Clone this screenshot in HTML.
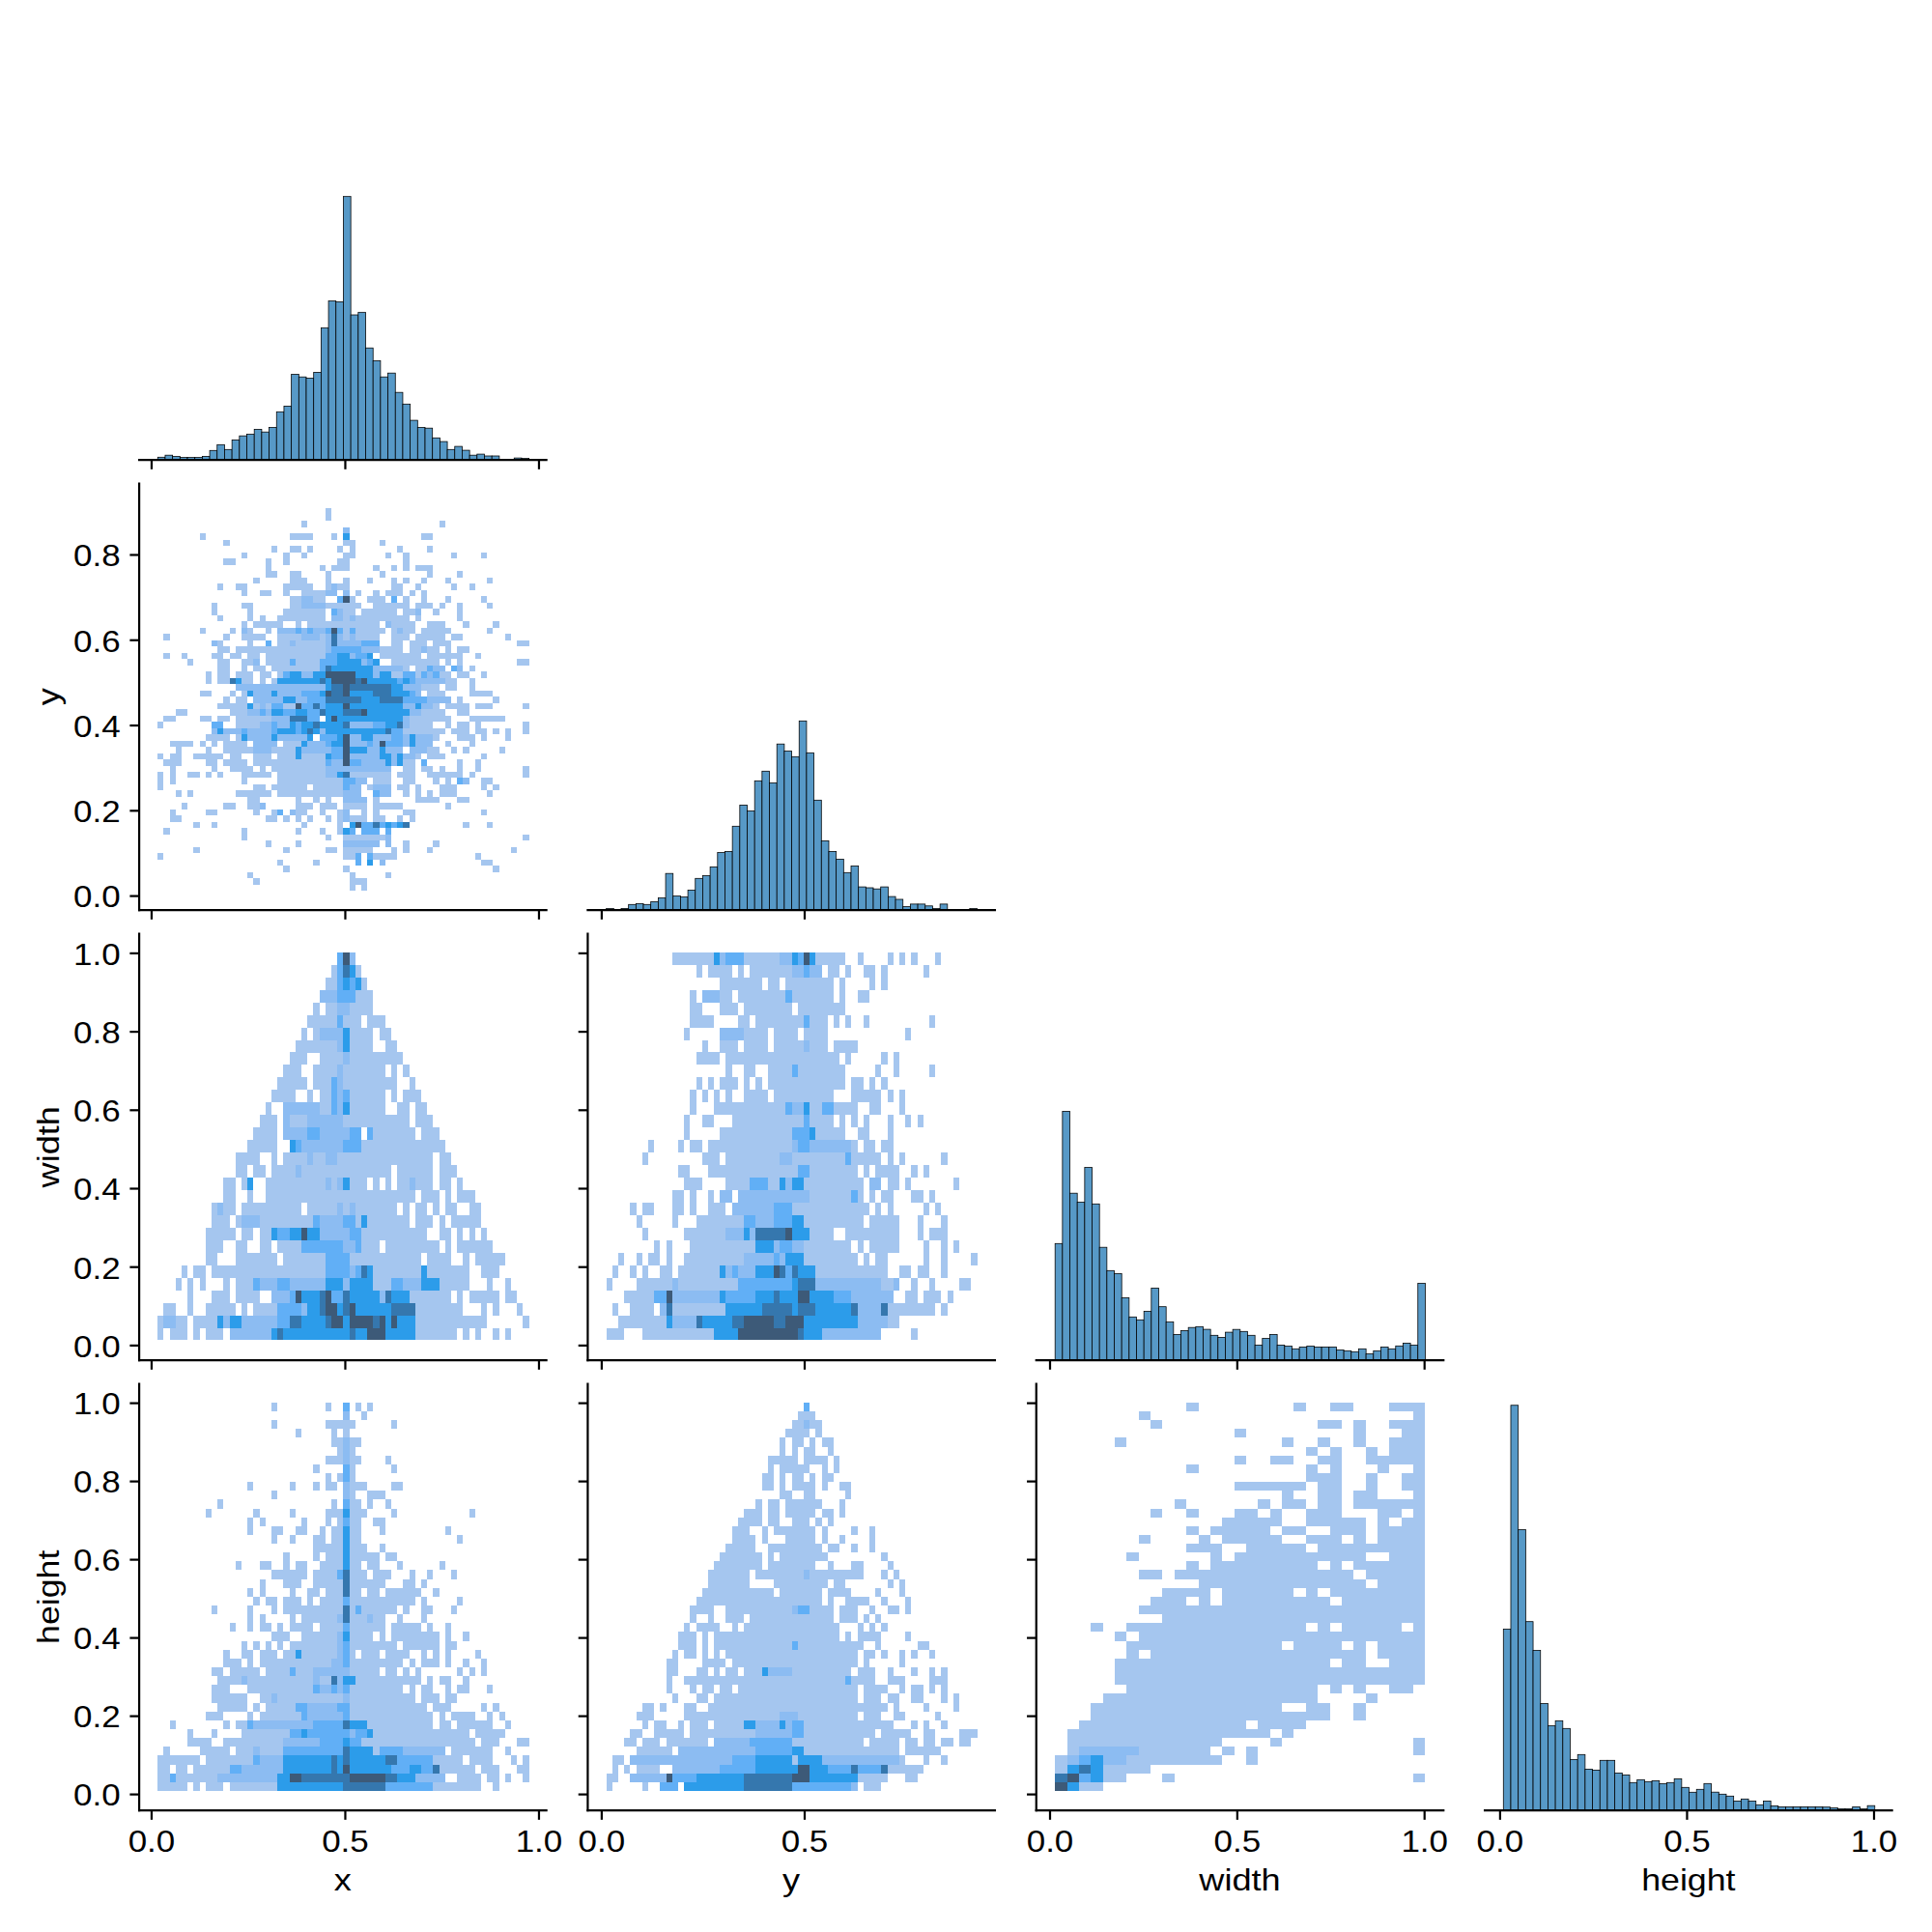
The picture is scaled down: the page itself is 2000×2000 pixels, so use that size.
<!DOCTYPE html><html><head><meta charset="utf-8"><style>html,body{margin:0;padding:0;background:#fff}svg{display:block}text{font-family:"Liberation Sans",sans-serif;fill:#000}</style></head><body>
<svg xmlns="http://www.w3.org/2000/svg" width="2000" height="2000" viewBox="0 0 2000 2000">
<rect width="2000" height="2000" fill="#fff"/>
<g shape-rendering="crispEdges">
<rect x="336.85" y="526.2" width="6.2" height="6.5" fill="#a5c6ef"/>
<rect x="336.85" y="532.69" width="6.2" height="6.5" fill="#a5c6ef"/>
<rect x="312.05" y="539.19" width="6.2" height="6.5" fill="#a5c6ef"/>
<rect x="454.64" y="539.19" width="6.2" height="6.5" fill="#a5c6ef"/>
<rect x="355.45" y="545.68" width="6.2" height="6.5" fill="#8cbcf2"/>
<rect x="206.67" y="552.18" width="6.2" height="6.5" fill="#a5c6ef"/>
<rect x="299.66" y="552.18" width="24.8" height="6.5" fill="#a5c6ef"/>
<rect x="343.05" y="552.18" width="6.2" height="6.5" fill="#a5c6ef"/>
<rect x="355.45" y="552.18" width="6.2" height="6.5" fill="#2c9cea"/>
<rect x="436.04" y="552.18" width="12.4" height="6.5" fill="#a5c6ef"/>
<rect x="231.46" y="558.67" width="6.2" height="6.5" fill="#a5c6ef"/>
<rect x="355.45" y="558.67" width="12.4" height="6.5" fill="#a5c6ef"/>
<rect x="392.65" y="558.67" width="6.2" height="6.5" fill="#a5c6ef"/>
<rect x="281.06" y="565.17" width="6.2" height="6.5" fill="#a5c6ef"/>
<rect x="299.66" y="565.17" width="12.4" height="6.5" fill="#a5c6ef"/>
<rect x="318.25" y="565.17" width="6.2" height="6.5" fill="#a5c6ef"/>
<rect x="349.25" y="565.17" width="6.2" height="6.5" fill="#a5c6ef"/>
<rect x="361.65" y="565.17" width="6.2" height="6.5" fill="#a5c6ef"/>
<rect x="411.24" y="565.17" width="6.2" height="6.5" fill="#a5c6ef"/>
<rect x="442.24" y="565.17" width="6.2" height="6.5" fill="#a5c6ef"/>
<rect x="250.06" y="571.66" width="6.2" height="6.5" fill="#a5c6ef"/>
<rect x="293.46" y="571.66" width="6.2" height="6.5" fill="#a5c6ef"/>
<rect x="312.05" y="571.66" width="6.2" height="6.5" fill="#a5c6ef"/>
<rect x="355.45" y="571.66" width="12.4" height="6.5" fill="#a5c6ef"/>
<rect x="398.85" y="571.66" width="6.2" height="6.5" fill="#a5c6ef"/>
<rect x="417.44" y="571.66" width="6.2" height="6.5" fill="#a5c6ef"/>
<rect x="467.04" y="571.66" width="6.2" height="6.5" fill="#a5c6ef"/>
<rect x="498.04" y="571.66" width="6.2" height="6.5" fill="#a5c6ef"/>
<rect x="231.46" y="578.16" width="12.4" height="6.5" fill="#a5c6ef"/>
<rect x="274.86" y="578.16" width="6.2" height="6.5" fill="#a5c6ef"/>
<rect x="293.46" y="578.16" width="6.2" height="6.5" fill="#a5c6ef"/>
<rect x="349.25" y="578.16" width="12.4" height="6.5" fill="#a5c6ef"/>
<rect x="417.44" y="578.16" width="6.2" height="6.5" fill="#a5c6ef"/>
<rect x="274.86" y="584.65" width="6.2" height="6.5" fill="#a5c6ef"/>
<rect x="330.65" y="584.65" width="6.2" height="6.5" fill="#a5c6ef"/>
<rect x="343.05" y="584.65" width="18.6" height="6.5" fill="#a5c6ef"/>
<rect x="386.45" y="584.65" width="6.2" height="6.5" fill="#a5c6ef"/>
<rect x="405.04" y="584.65" width="6.2" height="6.5" fill="#a5c6ef"/>
<rect x="417.44" y="584.65" width="6.2" height="6.5" fill="#a5c6ef"/>
<rect x="429.84" y="584.65" width="18.6" height="6.5" fill="#a5c6ef"/>
<rect x="274.86" y="591.15" width="12.4" height="6.5" fill="#a5c6ef"/>
<rect x="299.66" y="591.15" width="12.4" height="6.5" fill="#a5c6ef"/>
<rect x="336.85" y="591.15" width="6.2" height="6.5" fill="#a5c6ef"/>
<rect x="392.65" y="591.15" width="6.2" height="6.5" fill="#a5c6ef"/>
<rect x="442.24" y="591.15" width="6.2" height="6.5" fill="#a5c6ef"/>
<rect x="473.24" y="591.15" width="6.2" height="6.5" fill="#a5c6ef"/>
<rect x="262.46" y="597.64" width="6.2" height="6.5" fill="#a5c6ef"/>
<rect x="299.66" y="597.64" width="18.6" height="6.5" fill="#a5c6ef"/>
<rect x="336.85" y="597.64" width="6.2" height="6.5" fill="#a5c6ef"/>
<rect x="355.45" y="597.64" width="6.2" height="6.5" fill="#a5c6ef"/>
<rect x="380.25" y="597.64" width="6.2" height="6.5" fill="#a5c6ef"/>
<rect x="405.04" y="597.64" width="6.2" height="6.5" fill="#a5c6ef"/>
<rect x="417.44" y="597.64" width="6.2" height="6.5" fill="#a5c6ef"/>
<rect x="436.04" y="597.64" width="6.2" height="6.5" fill="#a5c6ef"/>
<rect x="460.84" y="597.64" width="6.2" height="6.5" fill="#a5c6ef"/>
<rect x="504.23" y="597.64" width="6.2" height="6.5" fill="#a5c6ef"/>
<rect x="225.26" y="604.14" width="6.2" height="6.5" fill="#a5c6ef"/>
<rect x="243.86" y="604.14" width="12.4" height="6.5" fill="#a5c6ef"/>
<rect x="293.46" y="604.14" width="31" height="6.5" fill="#a5c6ef"/>
<rect x="336.85" y="604.14" width="6.2" height="6.5" fill="#a5c6ef"/>
<rect x="343.05" y="604.14" width="6.2" height="6.5" fill="#8cbcf2"/>
<rect x="349.25" y="604.14" width="12.4" height="6.5" fill="#a5c6ef"/>
<rect x="405.04" y="604.14" width="12.4" height="6.5" fill="#a5c6ef"/>
<rect x="429.84" y="604.14" width="6.2" height="6.5" fill="#a5c6ef"/>
<rect x="467.04" y="604.14" width="6.2" height="6.5" fill="#a5c6ef"/>
<rect x="485.64" y="604.14" width="6.2" height="6.5" fill="#a5c6ef"/>
<rect x="250.06" y="610.63" width="6.2" height="6.5" fill="#a5c6ef"/>
<rect x="268.66" y="610.63" width="12.4" height="6.5" fill="#a5c6ef"/>
<rect x="293.46" y="610.63" width="6.2" height="6.5" fill="#a5c6ef"/>
<rect x="312.05" y="610.63" width="24.8" height="6.5" fill="#a5c6ef"/>
<rect x="336.85" y="610.63" width="12.4" height="6.5" fill="#8cbcf2"/>
<rect x="355.45" y="610.63" width="6.2" height="6.5" fill="#8cbcf2"/>
<rect x="367.85" y="610.63" width="6.2" height="6.5" fill="#a5c6ef"/>
<rect x="386.45" y="610.63" width="6.2" height="6.5" fill="#a5c6ef"/>
<rect x="398.85" y="610.63" width="18.6" height="6.5" fill="#a5c6ef"/>
<rect x="423.64" y="610.63" width="6.2" height="6.5" fill="#a5c6ef"/>
<rect x="436.04" y="610.63" width="6.2" height="6.5" fill="#a5c6ef"/>
<rect x="299.66" y="617.13" width="12.4" height="6.5" fill="#a5c6ef"/>
<rect x="312.05" y="617.13" width="12.4" height="6.5" fill="#8cbcf2"/>
<rect x="324.45" y="617.13" width="12.4" height="6.5" fill="#a5c6ef"/>
<rect x="349.25" y="617.13" width="6.2" height="6.5" fill="#61aff6"/>
<rect x="355.45" y="617.13" width="6.2" height="6.5" fill="#3d5a78"/>
<rect x="361.65" y="617.13" width="6.2" height="6.5" fill="#a5c6ef"/>
<rect x="380.25" y="617.13" width="18.6" height="6.5" fill="#a5c6ef"/>
<rect x="405.04" y="617.13" width="6.2" height="6.5" fill="#61aff6"/>
<rect x="417.44" y="617.13" width="6.2" height="6.5" fill="#a5c6ef"/>
<rect x="436.04" y="617.13" width="6.2" height="6.5" fill="#a5c6ef"/>
<rect x="460.84" y="617.13" width="6.2" height="6.5" fill="#a5c6ef"/>
<rect x="498.04" y="617.13" width="6.2" height="6.5" fill="#a5c6ef"/>
<rect x="219.06" y="623.62" width="6.2" height="6.5" fill="#a5c6ef"/>
<rect x="250.06" y="623.62" width="12.4" height="6.5" fill="#a5c6ef"/>
<rect x="299.66" y="623.62" width="12.4" height="6.5" fill="#a5c6ef"/>
<rect x="312.05" y="623.62" width="24.8" height="6.5" fill="#8cbcf2"/>
<rect x="336.85" y="623.62" width="37.2" height="6.5" fill="#a5c6ef"/>
<rect x="386.45" y="623.62" width="37.2" height="6.5" fill="#a5c6ef"/>
<rect x="429.84" y="623.62" width="18.6" height="6.5" fill="#a5c6ef"/>
<rect x="454.64" y="623.62" width="6.2" height="6.5" fill="#a5c6ef"/>
<rect x="473.24" y="623.62" width="6.2" height="6.5" fill="#a5c6ef"/>
<rect x="504.23" y="623.62" width="6.2" height="6.5" fill="#a5c6ef"/>
<rect x="219.06" y="630.12" width="6.2" height="6.5" fill="#a5c6ef"/>
<rect x="256.26" y="630.12" width="6.2" height="6.5" fill="#a5c6ef"/>
<rect x="293.46" y="630.12" width="43.4" height="6.5" fill="#a5c6ef"/>
<rect x="343.05" y="630.12" width="6.2" height="6.5" fill="#61aff6"/>
<rect x="349.25" y="630.12" width="6.2" height="6.5" fill="#8cbcf2"/>
<rect x="355.45" y="630.12" width="12.4" height="6.5" fill="#a5c6ef"/>
<rect x="374.05" y="630.12" width="37.2" height="6.5" fill="#a5c6ef"/>
<rect x="417.44" y="630.12" width="12.4" height="6.5" fill="#a5c6ef"/>
<rect x="429.84" y="630.12" width="6.2" height="6.5" fill="#8cbcf2"/>
<rect x="448.44" y="630.12" width="6.2" height="6.5" fill="#a5c6ef"/>
<rect x="473.24" y="630.12" width="6.2" height="6.5" fill="#a5c6ef"/>
<rect x="225.26" y="636.61" width="6.2" height="6.5" fill="#a5c6ef"/>
<rect x="256.26" y="636.61" width="6.2" height="6.5" fill="#a5c6ef"/>
<rect x="268.66" y="636.61" width="6.2" height="6.5" fill="#a5c6ef"/>
<rect x="287.26" y="636.61" width="49.59" height="6.5" fill="#a5c6ef"/>
<rect x="343.05" y="636.61" width="12.4" height="6.5" fill="#8cbcf2"/>
<rect x="355.45" y="636.61" width="6.2" height="6.5" fill="#a5c6ef"/>
<rect x="361.65" y="636.61" width="6.2" height="6.5" fill="#8cbcf2"/>
<rect x="367.85" y="636.61" width="55.79" height="6.5" fill="#a5c6ef"/>
<rect x="429.84" y="636.61" width="6.2" height="6.5" fill="#a5c6ef"/>
<rect x="473.24" y="636.61" width="6.2" height="6.5" fill="#a5c6ef"/>
<rect x="250.06" y="643.11" width="6.2" height="6.5" fill="#a5c6ef"/>
<rect x="262.46" y="643.11" width="31" height="6.5" fill="#a5c6ef"/>
<rect x="305.86" y="643.11" width="6.2" height="6.5" fill="#a5c6ef"/>
<rect x="318.25" y="643.11" width="74.39" height="6.5" fill="#a5c6ef"/>
<rect x="398.85" y="643.11" width="6.2" height="6.5" fill="#8cbcf2"/>
<rect x="405.04" y="643.11" width="24.8" height="6.5" fill="#a5c6ef"/>
<rect x="442.24" y="643.11" width="18.6" height="6.5" fill="#a5c6ef"/>
<rect x="479.44" y="643.11" width="6.2" height="6.5" fill="#a5c6ef"/>
<rect x="510.43" y="643.11" width="6.2" height="6.5" fill="#a5c6ef"/>
<rect x="206.67" y="649.6" width="6.2" height="6.5" fill="#a5c6ef"/>
<rect x="237.66" y="649.6" width="6.2" height="6.5" fill="#a5c6ef"/>
<rect x="250.06" y="649.6" width="6.2" height="6.5" fill="#8cbcf2"/>
<rect x="256.26" y="649.6" width="6.2" height="6.5" fill="#a5c6ef"/>
<rect x="274.86" y="649.6" width="6.2" height="6.5" fill="#a5c6ef"/>
<rect x="287.26" y="649.6" width="18.6" height="6.5" fill="#8cbcf2"/>
<rect x="305.86" y="649.6" width="6.2" height="6.5" fill="#61aff6"/>
<rect x="312.05" y="649.6" width="6.2" height="6.5" fill="#8cbcf2"/>
<rect x="318.25" y="649.6" width="6.2" height="6.5" fill="#61aff6"/>
<rect x="324.45" y="649.6" width="12.4" height="6.5" fill="#8cbcf2"/>
<rect x="336.85" y="649.6" width="6.2" height="6.5" fill="#61aff6"/>
<rect x="343.05" y="649.6" width="6.2" height="6.5" fill="#3d5a78"/>
<rect x="349.25" y="649.6" width="6.2" height="6.5" fill="#61aff6"/>
<rect x="355.45" y="649.6" width="6.2" height="6.5" fill="#a5c6ef"/>
<rect x="361.65" y="649.6" width="6.2" height="6.5" fill="#61aff6"/>
<rect x="367.85" y="649.6" width="31" height="6.5" fill="#a5c6ef"/>
<rect x="405.04" y="649.6" width="6.2" height="6.5" fill="#a5c6ef"/>
<rect x="411.24" y="649.6" width="6.2" height="6.5" fill="#8cbcf2"/>
<rect x="417.44" y="649.6" width="12.4" height="6.5" fill="#a5c6ef"/>
<rect x="436.04" y="649.6" width="31" height="6.5" fill="#a5c6ef"/>
<rect x="504.23" y="649.6" width="6.2" height="6.5" fill="#a5c6ef"/>
<rect x="169.47" y="656.1" width="6.2" height="6.5" fill="#a5c6ef"/>
<rect x="231.46" y="656.1" width="6.2" height="6.5" fill="#a5c6ef"/>
<rect x="250.06" y="656.1" width="24.8" height="6.5" fill="#a5c6ef"/>
<rect x="287.26" y="656.1" width="24.8" height="6.5" fill="#a5c6ef"/>
<rect x="312.05" y="656.1" width="18.6" height="6.5" fill="#8cbcf2"/>
<rect x="330.65" y="656.1" width="6.2" height="6.5" fill="#a5c6ef"/>
<rect x="336.85" y="656.1" width="6.2" height="6.5" fill="#8cbcf2"/>
<rect x="343.05" y="656.1" width="6.2" height="6.5" fill="#3577ae"/>
<rect x="349.25" y="656.1" width="6.2" height="6.5" fill="#8cbcf2"/>
<rect x="355.45" y="656.1" width="6.2" height="6.5" fill="#a5c6ef"/>
<rect x="361.65" y="656.1" width="6.2" height="6.5" fill="#8cbcf2"/>
<rect x="367.85" y="656.1" width="24.8" height="6.5" fill="#a5c6ef"/>
<rect x="405.04" y="656.1" width="18.6" height="6.5" fill="#a5c6ef"/>
<rect x="429.84" y="656.1" width="31" height="6.5" fill="#a5c6ef"/>
<rect x="467.04" y="656.1" width="12.4" height="6.5" fill="#a5c6ef"/>
<rect x="522.83" y="656.1" width="6.2" height="6.5" fill="#a5c6ef"/>
<rect x="219.06" y="662.59" width="6.2" height="6.5" fill="#8cbcf2"/>
<rect x="225.26" y="662.59" width="6.2" height="6.5" fill="#a5c6ef"/>
<rect x="256.26" y="662.59" width="6.2" height="6.5" fill="#a5c6ef"/>
<rect x="274.86" y="662.59" width="6.2" height="6.5" fill="#61aff6"/>
<rect x="287.26" y="662.59" width="12.4" height="6.5" fill="#a5c6ef"/>
<rect x="299.66" y="662.59" width="6.2" height="6.5" fill="#8cbcf2"/>
<rect x="305.86" y="662.59" width="31" height="6.5" fill="#a5c6ef"/>
<rect x="336.85" y="662.59" width="6.2" height="6.5" fill="#8cbcf2"/>
<rect x="343.05" y="662.59" width="6.2" height="6.5" fill="#3577ae"/>
<rect x="349.25" y="662.59" width="24.8" height="6.5" fill="#8cbcf2"/>
<rect x="374.05" y="662.59" width="18.6" height="6.5" fill="#61aff6"/>
<rect x="405.04" y="662.59" width="12.4" height="6.5" fill="#a5c6ef"/>
<rect x="423.64" y="662.59" width="18.6" height="6.5" fill="#a5c6ef"/>
<rect x="448.44" y="662.59" width="18.6" height="6.5" fill="#a5c6ef"/>
<rect x="535.23" y="662.59" width="12.4" height="6.5" fill="#a5c6ef"/>
<rect x="225.26" y="669.09" width="12.4" height="6.5" fill="#a5c6ef"/>
<rect x="243.86" y="669.09" width="92.99" height="6.5" fill="#a5c6ef"/>
<rect x="336.85" y="669.09" width="6.2" height="6.5" fill="#8cbcf2"/>
<rect x="343.05" y="669.09" width="31" height="6.5" fill="#61aff6"/>
<rect x="374.05" y="669.09" width="18.6" height="6.5" fill="#8cbcf2"/>
<rect x="392.65" y="669.09" width="24.8" height="6.5" fill="#a5c6ef"/>
<rect x="423.64" y="669.09" width="12.4" height="6.5" fill="#a5c6ef"/>
<rect x="436.04" y="669.09" width="6.2" height="6.5" fill="#8cbcf2"/>
<rect x="442.24" y="669.09" width="12.4" height="6.5" fill="#a5c6ef"/>
<rect x="460.84" y="669.09" width="6.2" height="6.5" fill="#a5c6ef"/>
<rect x="473.24" y="669.09" width="12.4" height="6.5" fill="#a5c6ef"/>
<rect x="169.47" y="675.58" width="6.2" height="6.5" fill="#a5c6ef"/>
<rect x="188.07" y="675.58" width="6.2" height="6.5" fill="#a5c6ef"/>
<rect x="219.06" y="675.58" width="12.4" height="6.5" fill="#a5c6ef"/>
<rect x="237.66" y="675.58" width="12.4" height="6.5" fill="#a5c6ef"/>
<rect x="256.26" y="675.58" width="12.4" height="6.5" fill="#a5c6ef"/>
<rect x="274.86" y="675.58" width="61.99" height="6.5" fill="#a5c6ef"/>
<rect x="336.85" y="675.58" width="12.4" height="6.5" fill="#61aff6"/>
<rect x="349.25" y="675.58" width="12.4" height="6.5" fill="#2c9cea"/>
<rect x="361.65" y="675.58" width="6.2" height="6.5" fill="#8cbcf2"/>
<rect x="367.85" y="675.58" width="12.4" height="6.5" fill="#61aff6"/>
<rect x="380.25" y="675.58" width="6.2" height="6.5" fill="#2c9cea"/>
<rect x="392.65" y="675.58" width="43.4" height="6.5" fill="#a5c6ef"/>
<rect x="442.24" y="675.58" width="37.2" height="6.5" fill="#a5c6ef"/>
<rect x="491.84" y="675.58" width="6.2" height="6.5" fill="#a5c6ef"/>
<rect x="194.27" y="682.08" width="6.2" height="6.5" fill="#a5c6ef"/>
<rect x="225.26" y="682.08" width="12.4" height="6.5" fill="#a5c6ef"/>
<rect x="250.06" y="682.08" width="12.4" height="6.5" fill="#a5c6ef"/>
<rect x="262.46" y="682.08" width="6.2" height="6.5" fill="#8cbcf2"/>
<rect x="274.86" y="682.08" width="24.8" height="6.5" fill="#a5c6ef"/>
<rect x="299.66" y="682.08" width="6.2" height="6.5" fill="#61aff6"/>
<rect x="305.86" y="682.08" width="24.8" height="6.5" fill="#a5c6ef"/>
<rect x="330.65" y="682.08" width="18.6" height="6.5" fill="#61aff6"/>
<rect x="349.25" y="682.08" width="24.8" height="6.5" fill="#2c9cea"/>
<rect x="374.05" y="682.08" width="6.2" height="6.5" fill="#8cbcf2"/>
<rect x="380.25" y="682.08" width="6.2" height="6.5" fill="#61aff6"/>
<rect x="386.45" y="682.08" width="6.2" height="6.5" fill="#2c9cea"/>
<rect x="405.04" y="682.08" width="49.59" height="6.5" fill="#a5c6ef"/>
<rect x="460.84" y="682.08" width="6.2" height="6.5" fill="#a5c6ef"/>
<rect x="473.24" y="682.08" width="6.2" height="6.5" fill="#a5c6ef"/>
<rect x="535.23" y="682.08" width="12.4" height="6.5" fill="#a5c6ef"/>
<rect x="225.26" y="688.57" width="12.4" height="6.5" fill="#a5c6ef"/>
<rect x="250.06" y="688.57" width="6.2" height="6.5" fill="#a5c6ef"/>
<rect x="262.46" y="688.57" width="12.4" height="6.5" fill="#a5c6ef"/>
<rect x="281.06" y="688.57" width="49.59" height="6.5" fill="#a5c6ef"/>
<rect x="330.65" y="688.57" width="6.2" height="6.5" fill="#61aff6"/>
<rect x="336.85" y="688.57" width="6.2" height="6.5" fill="#3577ae"/>
<rect x="343.05" y="688.57" width="43.4" height="6.5" fill="#2c9cea"/>
<rect x="386.45" y="688.57" width="31" height="6.5" fill="#8cbcf2"/>
<rect x="417.44" y="688.57" width="6.2" height="6.5" fill="#a5c6ef"/>
<rect x="429.84" y="688.57" width="12.4" height="6.5" fill="#a5c6ef"/>
<rect x="442.24" y="688.57" width="6.2" height="6.5" fill="#61aff6"/>
<rect x="448.44" y="688.57" width="12.4" height="6.5" fill="#8cbcf2"/>
<rect x="467.04" y="688.57" width="6.2" height="6.5" fill="#61aff6"/>
<rect x="473.24" y="688.57" width="6.2" height="6.5" fill="#8cbcf2"/>
<rect x="485.64" y="688.57" width="6.2" height="6.5" fill="#a5c6ef"/>
<rect x="212.86" y="695.07" width="6.2" height="6.5" fill="#a5c6ef"/>
<rect x="225.26" y="695.07" width="12.4" height="6.5" fill="#a5c6ef"/>
<rect x="243.86" y="695.07" width="18.6" height="6.5" fill="#a5c6ef"/>
<rect x="268.66" y="695.07" width="12.4" height="6.5" fill="#a5c6ef"/>
<rect x="287.26" y="695.07" width="6.2" height="6.5" fill="#a5c6ef"/>
<rect x="293.46" y="695.07" width="6.2" height="6.5" fill="#61aff6"/>
<rect x="299.66" y="695.07" width="12.4" height="6.5" fill="#2c9cea"/>
<rect x="312.05" y="695.07" width="12.4" height="6.5" fill="#8cbcf2"/>
<rect x="324.45" y="695.07" width="12.4" height="6.5" fill="#2c9cea"/>
<rect x="336.85" y="695.07" width="31" height="6.5" fill="#3d5a78"/>
<rect x="367.85" y="695.07" width="18.6" height="6.5" fill="#2c9cea"/>
<rect x="386.45" y="695.07" width="6.2" height="6.5" fill="#8cbcf2"/>
<rect x="392.65" y="695.07" width="12.4" height="6.5" fill="#2c9cea"/>
<rect x="405.04" y="695.07" width="12.4" height="6.5" fill="#a5c6ef"/>
<rect x="417.44" y="695.07" width="12.4" height="6.5" fill="#61aff6"/>
<rect x="429.84" y="695.07" width="6.2" height="6.5" fill="#a5c6ef"/>
<rect x="436.04" y="695.07" width="6.2" height="6.5" fill="#61aff6"/>
<rect x="442.24" y="695.07" width="6.2" height="6.5" fill="#8cbcf2"/>
<rect x="448.44" y="695.07" width="6.2" height="6.5" fill="#61aff6"/>
<rect x="454.64" y="695.07" width="12.4" height="6.5" fill="#a5c6ef"/>
<rect x="473.24" y="695.07" width="12.4" height="6.5" fill="#a5c6ef"/>
<rect x="498.04" y="695.07" width="6.2" height="6.5" fill="#a5c6ef"/>
<rect x="212.86" y="701.56" width="6.2" height="6.5" fill="#a5c6ef"/>
<rect x="225.26" y="701.56" width="12.4" height="6.5" fill="#a5c6ef"/>
<rect x="237.66" y="701.56" width="6.2" height="6.5" fill="#3577ae"/>
<rect x="243.86" y="701.56" width="6.2" height="6.5" fill="#2c9cea"/>
<rect x="250.06" y="701.56" width="12.4" height="6.5" fill="#a5c6ef"/>
<rect x="268.66" y="701.56" width="6.2" height="6.5" fill="#a5c6ef"/>
<rect x="281.06" y="701.56" width="6.2" height="6.5" fill="#a5c6ef"/>
<rect x="287.26" y="701.56" width="43.4" height="6.5" fill="#2c9cea"/>
<rect x="330.65" y="701.56" width="6.2" height="6.5" fill="#3577ae"/>
<rect x="336.85" y="701.56" width="6.2" height="6.5" fill="#2c9cea"/>
<rect x="343.05" y="701.56" width="24.8" height="6.5" fill="#3d5a78"/>
<rect x="367.85" y="701.56" width="6.2" height="6.5" fill="#3577ae"/>
<rect x="374.05" y="701.56" width="6.2" height="6.5" fill="#3d5a78"/>
<rect x="380.25" y="701.56" width="31" height="6.5" fill="#2c9cea"/>
<rect x="411.24" y="701.56" width="6.2" height="6.5" fill="#61aff6"/>
<rect x="417.44" y="701.56" width="6.2" height="6.5" fill="#2c9cea"/>
<rect x="423.64" y="701.56" width="6.2" height="6.5" fill="#61aff6"/>
<rect x="429.84" y="701.56" width="31" height="6.5" fill="#8cbcf2"/>
<rect x="460.84" y="701.56" width="12.4" height="6.5" fill="#a5c6ef"/>
<rect x="485.64" y="701.56" width="6.2" height="6.5" fill="#a5c6ef"/>
<rect x="243.86" y="708.06" width="92.99" height="6.5" fill="#8cbcf2"/>
<rect x="336.85" y="708.06" width="6.2" height="6.5" fill="#2c9cea"/>
<rect x="343.05" y="708.06" width="12.4" height="6.5" fill="#3577ae"/>
<rect x="355.45" y="708.06" width="6.2" height="6.5" fill="#3d5a78"/>
<rect x="361.65" y="708.06" width="43.4" height="6.5" fill="#3577ae"/>
<rect x="405.04" y="708.06" width="12.4" height="6.5" fill="#2c9cea"/>
<rect x="417.44" y="708.06" width="18.6" height="6.5" fill="#8cbcf2"/>
<rect x="436.04" y="708.06" width="18.6" height="6.5" fill="#a5c6ef"/>
<rect x="460.84" y="708.06" width="12.4" height="6.5" fill="#a5c6ef"/>
<rect x="485.64" y="708.06" width="6.2" height="6.5" fill="#a5c6ef"/>
<rect x="206.67" y="714.55" width="12.4" height="6.5" fill="#a5c6ef"/>
<rect x="237.66" y="714.55" width="6.2" height="6.5" fill="#a5c6ef"/>
<rect x="250.06" y="714.55" width="6.2" height="6.5" fill="#a5c6ef"/>
<rect x="256.26" y="714.55" width="6.2" height="6.5" fill="#2c9cea"/>
<rect x="262.46" y="714.55" width="18.6" height="6.5" fill="#8cbcf2"/>
<rect x="281.06" y="714.55" width="6.2" height="6.5" fill="#2c9cea"/>
<rect x="287.26" y="714.55" width="24.8" height="6.5" fill="#8cbcf2"/>
<rect x="312.05" y="714.55" width="18.6" height="6.5" fill="#61aff6"/>
<rect x="330.65" y="714.55" width="6.2" height="6.5" fill="#2c9cea"/>
<rect x="336.85" y="714.55" width="6.2" height="6.5" fill="#3d5a78"/>
<rect x="343.05" y="714.55" width="12.4" height="6.5" fill="#3577ae"/>
<rect x="355.45" y="714.55" width="6.2" height="6.5" fill="#3d5a78"/>
<rect x="361.65" y="714.55" width="24.8" height="6.5" fill="#2c9cea"/>
<rect x="386.45" y="714.55" width="18.6" height="6.5" fill="#3577ae"/>
<rect x="405.04" y="714.55" width="18.6" height="6.5" fill="#2c9cea"/>
<rect x="423.64" y="714.55" width="6.2" height="6.5" fill="#61aff6"/>
<rect x="429.84" y="714.55" width="6.2" height="6.5" fill="#8cbcf2"/>
<rect x="442.24" y="714.55" width="18.6" height="6.5" fill="#a5c6ef"/>
<rect x="485.64" y="714.55" width="24.8" height="6.5" fill="#a5c6ef"/>
<rect x="231.46" y="721.05" width="6.2" height="6.5" fill="#a5c6ef"/>
<rect x="243.86" y="721.05" width="12.4" height="6.5" fill="#a5c6ef"/>
<rect x="262.46" y="721.05" width="31" height="6.5" fill="#8cbcf2"/>
<rect x="293.46" y="721.05" width="12.4" height="6.5" fill="#2c9cea"/>
<rect x="305.86" y="721.05" width="12.4" height="6.5" fill="#8cbcf2"/>
<rect x="318.25" y="721.05" width="18.6" height="6.5" fill="#61aff6"/>
<rect x="336.85" y="721.05" width="37.2" height="6.5" fill="#3577ae"/>
<rect x="374.05" y="721.05" width="18.6" height="6.5" fill="#2c9cea"/>
<rect x="392.65" y="721.05" width="24.8" height="6.5" fill="#3577ae"/>
<rect x="417.44" y="721.05" width="24.8" height="6.5" fill="#61aff6"/>
<rect x="442.24" y="721.05" width="24.8" height="6.5" fill="#8cbcf2"/>
<rect x="473.24" y="721.05" width="6.2" height="6.5" fill="#a5c6ef"/>
<rect x="510.43" y="721.05" width="6.2" height="6.5" fill="#a5c6ef"/>
<rect x="225.26" y="727.55" width="31" height="6.5" fill="#a5c6ef"/>
<rect x="256.26" y="727.55" width="6.2" height="6.5" fill="#2c9cea"/>
<rect x="262.46" y="727.55" width="6.2" height="6.5" fill="#a5c6ef"/>
<rect x="268.66" y="727.55" width="6.2" height="6.5" fill="#8cbcf2"/>
<rect x="274.86" y="727.55" width="6.2" height="6.5" fill="#a5c6ef"/>
<rect x="281.06" y="727.55" width="12.4" height="6.5" fill="#61aff6"/>
<rect x="293.46" y="727.55" width="12.4" height="6.5" fill="#a5c6ef"/>
<rect x="305.86" y="727.55" width="6.2" height="6.5" fill="#3d5a78"/>
<rect x="312.05" y="727.55" width="12.4" height="6.5" fill="#61aff6"/>
<rect x="324.45" y="727.55" width="6.2" height="6.5" fill="#3577ae"/>
<rect x="330.65" y="727.55" width="6.2" height="6.5" fill="#61aff6"/>
<rect x="336.85" y="727.55" width="18.6" height="6.5" fill="#2c9cea"/>
<rect x="355.45" y="727.55" width="6.2" height="6.5" fill="#3d5a78"/>
<rect x="361.65" y="727.55" width="55.79" height="6.5" fill="#2c9cea"/>
<rect x="417.44" y="727.55" width="12.4" height="6.5" fill="#8cbcf2"/>
<rect x="429.84" y="727.55" width="6.2" height="6.5" fill="#2c9cea"/>
<rect x="436.04" y="727.55" width="12.4" height="6.5" fill="#8cbcf2"/>
<rect x="448.44" y="727.55" width="6.2" height="6.5" fill="#a5c6ef"/>
<rect x="460.84" y="727.55" width="24.8" height="6.5" fill="#a5c6ef"/>
<rect x="491.84" y="727.55" width="18.6" height="6.5" fill="#a5c6ef"/>
<rect x="541.43" y="727.55" width="6.2" height="6.5" fill="#a5c6ef"/>
<rect x="181.87" y="734.04" width="12.4" height="6.5" fill="#a5c6ef"/>
<rect x="237.66" y="734.04" width="18.6" height="6.5" fill="#a5c6ef"/>
<rect x="256.26" y="734.04" width="12.4" height="6.5" fill="#8cbcf2"/>
<rect x="268.66" y="734.04" width="6.2" height="6.5" fill="#61aff6"/>
<rect x="274.86" y="734.04" width="6.2" height="6.5" fill="#8cbcf2"/>
<rect x="281.06" y="734.04" width="12.4" height="6.5" fill="#2c9cea"/>
<rect x="293.46" y="734.04" width="12.4" height="6.5" fill="#61aff6"/>
<rect x="305.86" y="734.04" width="12.4" height="6.5" fill="#2c9cea"/>
<rect x="318.25" y="734.04" width="12.4" height="6.5" fill="#61aff6"/>
<rect x="330.65" y="734.04" width="6.2" height="6.5" fill="#3577ae"/>
<rect x="336.85" y="734.04" width="18.6" height="6.5" fill="#2c9cea"/>
<rect x="355.45" y="734.04" width="18.6" height="6.5" fill="#3577ae"/>
<rect x="374.05" y="734.04" width="6.2" height="6.5" fill="#3d5a78"/>
<rect x="380.25" y="734.04" width="43.4" height="6.5" fill="#2c9cea"/>
<rect x="423.64" y="734.04" width="12.4" height="6.5" fill="#8cbcf2"/>
<rect x="436.04" y="734.04" width="24.8" height="6.5" fill="#a5c6ef"/>
<rect x="473.24" y="734.04" width="12.4" height="6.5" fill="#a5c6ef"/>
<rect x="169.47" y="740.54" width="12.4" height="6.5" fill="#a5c6ef"/>
<rect x="206.67" y="740.54" width="12.4" height="6.5" fill="#a5c6ef"/>
<rect x="225.26" y="740.54" width="12.4" height="6.5" fill="#a5c6ef"/>
<rect x="243.86" y="740.54" width="37.2" height="6.5" fill="#a5c6ef"/>
<rect x="281.06" y="740.54" width="18.6" height="6.5" fill="#8cbcf2"/>
<rect x="299.66" y="740.54" width="18.6" height="6.5" fill="#3577ae"/>
<rect x="318.25" y="740.54" width="12.4" height="6.5" fill="#61aff6"/>
<rect x="336.85" y="740.54" width="6.2" height="6.5" fill="#2c9cea"/>
<rect x="343.05" y="740.54" width="6.2" height="6.5" fill="#3d5a78"/>
<rect x="349.25" y="740.54" width="68.19" height="6.5" fill="#2c9cea"/>
<rect x="417.44" y="740.54" width="6.2" height="6.5" fill="#8cbcf2"/>
<rect x="423.64" y="740.54" width="43.4" height="6.5" fill="#a5c6ef"/>
<rect x="485.64" y="740.54" width="37.2" height="6.5" fill="#a5c6ef"/>
<rect x="163.27" y="747.03" width="6.2" height="6.5" fill="#a5c6ef"/>
<rect x="219.06" y="747.03" width="12.4" height="6.5" fill="#61aff6"/>
<rect x="243.86" y="747.03" width="24.8" height="6.5" fill="#a5c6ef"/>
<rect x="268.66" y="747.03" width="12.4" height="6.5" fill="#8cbcf2"/>
<rect x="281.06" y="747.03" width="6.2" height="6.5" fill="#61aff6"/>
<rect x="287.26" y="747.03" width="12.4" height="6.5" fill="#8cbcf2"/>
<rect x="299.66" y="747.03" width="6.2" height="6.5" fill="#2c9cea"/>
<rect x="305.86" y="747.03" width="6.2" height="6.5" fill="#61aff6"/>
<rect x="312.05" y="747.03" width="12.4" height="6.5" fill="#2c9cea"/>
<rect x="324.45" y="747.03" width="6.2" height="6.5" fill="#3577ae"/>
<rect x="330.65" y="747.03" width="24.8" height="6.5" fill="#2c9cea"/>
<rect x="355.45" y="747.03" width="6.2" height="6.5" fill="#3577ae"/>
<rect x="361.65" y="747.03" width="24.8" height="6.5" fill="#8cbcf2"/>
<rect x="386.45" y="747.03" width="12.4" height="6.5" fill="#61aff6"/>
<rect x="398.85" y="747.03" width="12.4" height="6.5" fill="#2c9cea"/>
<rect x="411.24" y="747.03" width="6.2" height="6.5" fill="#3577ae"/>
<rect x="417.44" y="747.03" width="6.2" height="6.5" fill="#8cbcf2"/>
<rect x="423.64" y="747.03" width="24.8" height="6.5" fill="#a5c6ef"/>
<rect x="460.84" y="747.03" width="6.2" height="6.5" fill="#a5c6ef"/>
<rect x="473.24" y="747.03" width="12.4" height="6.5" fill="#a5c6ef"/>
<rect x="491.84" y="747.03" width="6.2" height="6.5" fill="#a5c6ef"/>
<rect x="541.43" y="747.03" width="6.2" height="6.5" fill="#a5c6ef"/>
<rect x="219.06" y="753.53" width="6.2" height="6.5" fill="#8cbcf2"/>
<rect x="225.26" y="753.53" width="6.2" height="6.5" fill="#2c9cea"/>
<rect x="231.46" y="753.53" width="18.6" height="6.5" fill="#8cbcf2"/>
<rect x="250.06" y="753.53" width="6.2" height="6.5" fill="#61aff6"/>
<rect x="256.26" y="753.53" width="24.8" height="6.5" fill="#8cbcf2"/>
<rect x="281.06" y="753.53" width="6.2" height="6.5" fill="#61aff6"/>
<rect x="287.26" y="753.53" width="18.6" height="6.5" fill="#2c9cea"/>
<rect x="305.86" y="753.53" width="6.2" height="6.5" fill="#61aff6"/>
<rect x="312.05" y="753.53" width="6.2" height="6.5" fill="#2c9cea"/>
<rect x="318.25" y="753.53" width="6.2" height="6.5" fill="#3577ae"/>
<rect x="324.45" y="753.53" width="6.2" height="6.5" fill="#2c9cea"/>
<rect x="330.65" y="753.53" width="6.2" height="6.5" fill="#8cbcf2"/>
<rect x="336.85" y="753.53" width="61.99" height="6.5" fill="#2c9cea"/>
<rect x="398.85" y="753.53" width="6.2" height="6.5" fill="#3577ae"/>
<rect x="405.04" y="753.53" width="12.4" height="6.5" fill="#61aff6"/>
<rect x="417.44" y="753.53" width="43.4" height="6.5" fill="#a5c6ef"/>
<rect x="467.04" y="753.53" width="18.6" height="6.5" fill="#a5c6ef"/>
<rect x="491.84" y="753.53" width="12.4" height="6.5" fill="#a5c6ef"/>
<rect x="510.43" y="753.53" width="6.2" height="6.5" fill="#a5c6ef"/>
<rect x="522.83" y="753.53" width="6.2" height="6.5" fill="#a5c6ef"/>
<rect x="541.43" y="753.53" width="6.2" height="6.5" fill="#a5c6ef"/>
<rect x="212.86" y="760.02" width="24.8" height="6.5" fill="#a5c6ef"/>
<rect x="243.86" y="760.02" width="6.2" height="6.5" fill="#a5c6ef"/>
<rect x="250.06" y="760.02" width="6.2" height="6.5" fill="#2c9cea"/>
<rect x="256.26" y="760.02" width="24.8" height="6.5" fill="#8cbcf2"/>
<rect x="281.06" y="760.02" width="6.2" height="6.5" fill="#2c9cea"/>
<rect x="287.26" y="760.02" width="31" height="6.5" fill="#8cbcf2"/>
<rect x="318.25" y="760.02" width="6.2" height="6.5" fill="#2c9cea"/>
<rect x="330.65" y="760.02" width="18.6" height="6.5" fill="#61aff6"/>
<rect x="349.25" y="760.02" width="6.2" height="6.5" fill="#2c9cea"/>
<rect x="355.45" y="760.02" width="6.2" height="6.5" fill="#3d5a78"/>
<rect x="361.65" y="760.02" width="12.4" height="6.5" fill="#8cbcf2"/>
<rect x="374.05" y="760.02" width="12.4" height="6.5" fill="#2c9cea"/>
<rect x="386.45" y="760.02" width="18.6" height="6.5" fill="#8cbcf2"/>
<rect x="405.04" y="760.02" width="12.4" height="6.5" fill="#61aff6"/>
<rect x="417.44" y="760.02" width="6.2" height="6.5" fill="#8cbcf2"/>
<rect x="423.64" y="760.02" width="6.2" height="6.5" fill="#2c9cea"/>
<rect x="429.84" y="760.02" width="18.6" height="6.5" fill="#8cbcf2"/>
<rect x="448.44" y="760.02" width="6.2" height="6.5" fill="#a5c6ef"/>
<rect x="473.24" y="760.02" width="18.6" height="6.5" fill="#a5c6ef"/>
<rect x="498.04" y="760.02" width="6.2" height="6.5" fill="#a5c6ef"/>
<rect x="522.83" y="760.02" width="6.2" height="6.5" fill="#a5c6ef"/>
<rect x="175.67" y="766.52" width="24.8" height="6.5" fill="#a5c6ef"/>
<rect x="206.67" y="766.52" width="6.2" height="6.5" fill="#a5c6ef"/>
<rect x="219.06" y="766.52" width="6.2" height="6.5" fill="#a5c6ef"/>
<rect x="231.46" y="766.52" width="24.8" height="6.5" fill="#a5c6ef"/>
<rect x="262.46" y="766.52" width="24.8" height="6.5" fill="#8cbcf2"/>
<rect x="293.46" y="766.52" width="18.6" height="6.5" fill="#a5c6ef"/>
<rect x="312.05" y="766.52" width="6.2" height="6.5" fill="#2c9cea"/>
<rect x="318.25" y="766.52" width="18.6" height="6.5" fill="#8cbcf2"/>
<rect x="336.85" y="766.52" width="6.2" height="6.5" fill="#61aff6"/>
<rect x="343.05" y="766.52" width="12.4" height="6.5" fill="#2c9cea"/>
<rect x="355.45" y="766.52" width="6.2" height="6.5" fill="#3d5a78"/>
<rect x="361.65" y="766.52" width="18.6" height="6.5" fill="#8cbcf2"/>
<rect x="380.25" y="766.52" width="6.2" height="6.5" fill="#61aff6"/>
<rect x="386.45" y="766.52" width="6.2" height="6.5" fill="#8cbcf2"/>
<rect x="392.65" y="766.52" width="6.2" height="6.5" fill="#3d5a78"/>
<rect x="398.85" y="766.52" width="18.6" height="6.5" fill="#61aff6"/>
<rect x="417.44" y="766.52" width="6.2" height="6.5" fill="#8cbcf2"/>
<rect x="423.64" y="766.52" width="6.2" height="6.5" fill="#2c9cea"/>
<rect x="429.84" y="766.52" width="18.6" height="6.5" fill="#8cbcf2"/>
<rect x="460.84" y="766.52" width="6.2" height="6.5" fill="#a5c6ef"/>
<rect x="485.64" y="766.52" width="6.2" height="6.5" fill="#a5c6ef"/>
<rect x="181.87" y="773.01" width="6.2" height="6.5" fill="#a5c6ef"/>
<rect x="212.86" y="773.01" width="6.2" height="6.5" fill="#a5c6ef"/>
<rect x="231.46" y="773.01" width="31" height="6.5" fill="#a5c6ef"/>
<rect x="262.46" y="773.01" width="18.6" height="6.5" fill="#8cbcf2"/>
<rect x="281.06" y="773.01" width="24.8" height="6.5" fill="#a5c6ef"/>
<rect x="305.86" y="773.01" width="6.2" height="6.5" fill="#2c9cea"/>
<rect x="312.05" y="773.01" width="31" height="6.5" fill="#8cbcf2"/>
<rect x="343.05" y="773.01" width="12.4" height="6.5" fill="#61aff6"/>
<rect x="355.45" y="773.01" width="6.2" height="6.5" fill="#3d5a78"/>
<rect x="361.65" y="773.01" width="18.6" height="6.5" fill="#2c9cea"/>
<rect x="380.25" y="773.01" width="12.4" height="6.5" fill="#8cbcf2"/>
<rect x="392.65" y="773.01" width="6.2" height="6.5" fill="#2c9cea"/>
<rect x="398.85" y="773.01" width="18.6" height="6.5" fill="#8cbcf2"/>
<rect x="423.64" y="773.01" width="18.6" height="6.5" fill="#8cbcf2"/>
<rect x="442.24" y="773.01" width="12.4" height="6.5" fill="#a5c6ef"/>
<rect x="467.04" y="773.01" width="6.2" height="6.5" fill="#a5c6ef"/>
<rect x="479.44" y="773.01" width="6.2" height="6.5" fill="#a5c6ef"/>
<rect x="516.63" y="773.01" width="6.2" height="6.5" fill="#a5c6ef"/>
<rect x="163.27" y="779.51" width="6.2" height="6.5" fill="#a5c6ef"/>
<rect x="175.67" y="779.51" width="12.4" height="6.5" fill="#a5c6ef"/>
<rect x="200.47" y="779.51" width="31" height="6.5" fill="#a5c6ef"/>
<rect x="237.66" y="779.51" width="12.4" height="6.5" fill="#a5c6ef"/>
<rect x="262.46" y="779.51" width="18.6" height="6.5" fill="#a5c6ef"/>
<rect x="287.26" y="779.51" width="18.6" height="6.5" fill="#a5c6ef"/>
<rect x="305.86" y="779.51" width="6.2" height="6.5" fill="#2c9cea"/>
<rect x="312.05" y="779.51" width="24.8" height="6.5" fill="#a5c6ef"/>
<rect x="336.85" y="779.51" width="6.2" height="6.5" fill="#2c9cea"/>
<rect x="343.05" y="779.51" width="12.4" height="6.5" fill="#61aff6"/>
<rect x="355.45" y="779.51" width="6.2" height="6.5" fill="#3d5a78"/>
<rect x="361.65" y="779.51" width="31" height="6.5" fill="#8cbcf2"/>
<rect x="392.65" y="779.51" width="12.4" height="6.5" fill="#2c9cea"/>
<rect x="405.04" y="779.51" width="6.2" height="6.5" fill="#8cbcf2"/>
<rect x="411.24" y="779.51" width="6.2" height="6.5" fill="#2c9cea"/>
<rect x="417.44" y="779.51" width="12.4" height="6.5" fill="#8cbcf2"/>
<rect x="429.84" y="779.51" width="6.2" height="6.5" fill="#a5c6ef"/>
<rect x="442.24" y="779.51" width="18.6" height="6.5" fill="#a5c6ef"/>
<rect x="498.04" y="779.51" width="6.2" height="6.5" fill="#a5c6ef"/>
<rect x="169.47" y="786" width="18.6" height="6.5" fill="#a5c6ef"/>
<rect x="212.86" y="786" width="12.4" height="6.5" fill="#a5c6ef"/>
<rect x="231.46" y="786" width="24.8" height="6.5" fill="#a5c6ef"/>
<rect x="262.46" y="786" width="74.39" height="6.5" fill="#a5c6ef"/>
<rect x="336.85" y="786" width="6.2" height="6.5" fill="#61aff6"/>
<rect x="343.05" y="786" width="12.4" height="6.5" fill="#8cbcf2"/>
<rect x="355.45" y="786" width="6.2" height="6.5" fill="#3d5a78"/>
<rect x="361.65" y="786" width="12.4" height="6.5" fill="#61aff6"/>
<rect x="374.05" y="786" width="24.8" height="6.5" fill="#8cbcf2"/>
<rect x="398.85" y="786" width="6.2" height="6.5" fill="#2c9cea"/>
<rect x="405.04" y="786" width="6.2" height="6.5" fill="#8cbcf2"/>
<rect x="411.24" y="786" width="6.2" height="6.5" fill="#2c9cea"/>
<rect x="417.44" y="786" width="12.4" height="6.5" fill="#a5c6ef"/>
<rect x="436.04" y="786" width="6.2" height="6.5" fill="#61aff6"/>
<rect x="473.24" y="786" width="6.2" height="6.5" fill="#a5c6ef"/>
<rect x="491.84" y="786" width="6.2" height="6.5" fill="#a5c6ef"/>
<rect x="175.67" y="792.5" width="6.2" height="6.5" fill="#a5c6ef"/>
<rect x="219.06" y="792.5" width="6.2" height="6.5" fill="#a5c6ef"/>
<rect x="237.66" y="792.5" width="24.8" height="6.5" fill="#a5c6ef"/>
<rect x="268.66" y="792.5" width="6.2" height="6.5" fill="#a5c6ef"/>
<rect x="281.06" y="792.5" width="55.79" height="6.5" fill="#a5c6ef"/>
<rect x="336.85" y="792.5" width="68.19" height="6.5" fill="#8cbcf2"/>
<rect x="417.44" y="792.5" width="12.4" height="6.5" fill="#a5c6ef"/>
<rect x="436.04" y="792.5" width="12.4" height="6.5" fill="#a5c6ef"/>
<rect x="454.64" y="792.5" width="6.2" height="6.5" fill="#a5c6ef"/>
<rect x="473.24" y="792.5" width="6.2" height="6.5" fill="#a5c6ef"/>
<rect x="491.84" y="792.5" width="6.2" height="6.5" fill="#a5c6ef"/>
<rect x="541.43" y="792.5" width="6.2" height="6.5" fill="#a5c6ef"/>
<rect x="163.27" y="798.99" width="6.2" height="6.5" fill="#a5c6ef"/>
<rect x="175.67" y="798.99" width="6.2" height="6.5" fill="#a5c6ef"/>
<rect x="194.27" y="798.99" width="12.4" height="6.5" fill="#a5c6ef"/>
<rect x="212.86" y="798.99" width="6.2" height="6.5" fill="#a5c6ef"/>
<rect x="225.26" y="798.99" width="6.2" height="6.5" fill="#a5c6ef"/>
<rect x="250.06" y="798.99" width="31" height="6.5" fill="#a5c6ef"/>
<rect x="287.26" y="798.99" width="49.59" height="6.5" fill="#a5c6ef"/>
<rect x="336.85" y="798.99" width="12.4" height="6.5" fill="#8cbcf2"/>
<rect x="349.25" y="798.99" width="6.2" height="6.5" fill="#2c9cea"/>
<rect x="355.45" y="798.99" width="6.2" height="6.5" fill="#3577ae"/>
<rect x="361.65" y="798.99" width="43.4" height="6.5" fill="#a5c6ef"/>
<rect x="411.24" y="798.99" width="18.6" height="6.5" fill="#a5c6ef"/>
<rect x="442.24" y="798.99" width="37.2" height="6.5" fill="#a5c6ef"/>
<rect x="485.64" y="798.99" width="6.2" height="6.5" fill="#a5c6ef"/>
<rect x="541.43" y="798.99" width="6.2" height="6.5" fill="#a5c6ef"/>
<rect x="163.27" y="805.49" width="6.2" height="6.5" fill="#a5c6ef"/>
<rect x="175.67" y="805.49" width="6.2" height="6.5" fill="#a5c6ef"/>
<rect x="250.06" y="805.49" width="6.2" height="6.5" fill="#a5c6ef"/>
<rect x="287.26" y="805.49" width="68.19" height="6.5" fill="#a5c6ef"/>
<rect x="355.45" y="805.49" width="12.4" height="6.5" fill="#61aff6"/>
<rect x="367.85" y="805.49" width="12.4" height="6.5" fill="#8cbcf2"/>
<rect x="386.45" y="805.49" width="18.6" height="6.5" fill="#a5c6ef"/>
<rect x="417.44" y="805.49" width="12.4" height="6.5" fill="#a5c6ef"/>
<rect x="448.44" y="805.49" width="6.2" height="6.5" fill="#a5c6ef"/>
<rect x="460.84" y="805.49" width="6.2" height="6.5" fill="#a5c6ef"/>
<rect x="473.24" y="805.49" width="6.2" height="6.5" fill="#61aff6"/>
<rect x="479.44" y="805.49" width="6.2" height="6.5" fill="#8cbcf2"/>
<rect x="498.04" y="805.49" width="12.4" height="6.5" fill="#a5c6ef"/>
<rect x="163.27" y="811.98" width="6.2" height="6.5" fill="#a5c6ef"/>
<rect x="262.46" y="811.98" width="12.4" height="6.5" fill="#a5c6ef"/>
<rect x="281.06" y="811.98" width="37.2" height="6.5" fill="#a5c6ef"/>
<rect x="324.45" y="811.98" width="31" height="6.5" fill="#a5c6ef"/>
<rect x="355.45" y="811.98" width="6.2" height="6.5" fill="#61aff6"/>
<rect x="361.65" y="811.98" width="12.4" height="6.5" fill="#8cbcf2"/>
<rect x="380.25" y="811.98" width="6.2" height="6.5" fill="#a5c6ef"/>
<rect x="386.45" y="811.98" width="18.6" height="6.5" fill="#8cbcf2"/>
<rect x="411.24" y="811.98" width="12.4" height="6.5" fill="#a5c6ef"/>
<rect x="429.84" y="811.98" width="6.2" height="6.5" fill="#a5c6ef"/>
<rect x="454.64" y="811.98" width="18.6" height="6.5" fill="#a5c6ef"/>
<rect x="498.04" y="811.98" width="6.2" height="6.5" fill="#a5c6ef"/>
<rect x="510.43" y="811.98" width="6.2" height="6.5" fill="#a5c6ef"/>
<rect x="181.87" y="818.48" width="6.2" height="6.5" fill="#a5c6ef"/>
<rect x="194.27" y="818.48" width="6.2" height="6.5" fill="#a5c6ef"/>
<rect x="243.86" y="818.48" width="37.2" height="6.5" fill="#a5c6ef"/>
<rect x="287.26" y="818.48" width="68.19" height="6.5" fill="#a5c6ef"/>
<rect x="355.45" y="818.48" width="18.6" height="6.5" fill="#8cbcf2"/>
<rect x="386.45" y="818.48" width="6.2" height="6.5" fill="#61aff6"/>
<rect x="392.65" y="818.48" width="12.4" height="6.5" fill="#8cbcf2"/>
<rect x="417.44" y="818.48" width="6.2" height="6.5" fill="#a5c6ef"/>
<rect x="429.84" y="818.48" width="6.2" height="6.5" fill="#a5c6ef"/>
<rect x="442.24" y="818.48" width="6.2" height="6.5" fill="#a5c6ef"/>
<rect x="454.64" y="818.48" width="18.6" height="6.5" fill="#a5c6ef"/>
<rect x="504.23" y="818.48" width="6.2" height="6.5" fill="#a5c6ef"/>
<rect x="256.26" y="824.97" width="12.4" height="6.5" fill="#a5c6ef"/>
<rect x="305.86" y="824.97" width="6.2" height="6.5" fill="#a5c6ef"/>
<rect x="324.45" y="824.97" width="6.2" height="6.5" fill="#a5c6ef"/>
<rect x="336.85" y="824.97" width="6.2" height="6.5" fill="#a5c6ef"/>
<rect x="355.45" y="824.97" width="24.8" height="6.5" fill="#8cbcf2"/>
<rect x="386.45" y="824.97" width="6.2" height="6.5" fill="#a5c6ef"/>
<rect x="429.84" y="824.97" width="24.8" height="6.5" fill="#a5c6ef"/>
<rect x="473.24" y="824.97" width="12.4" height="6.5" fill="#a5c6ef"/>
<rect x="188.07" y="831.47" width="6.2" height="6.5" fill="#a5c6ef"/>
<rect x="231.46" y="831.47" width="12.4" height="6.5" fill="#a5c6ef"/>
<rect x="256.26" y="831.47" width="12.4" height="6.5" fill="#a5c6ef"/>
<rect x="268.66" y="831.47" width="6.2" height="6.5" fill="#8cbcf2"/>
<rect x="305.86" y="831.47" width="18.6" height="6.5" fill="#a5c6ef"/>
<rect x="330.65" y="831.47" width="18.6" height="6.5" fill="#a5c6ef"/>
<rect x="355.45" y="831.47" width="24.8" height="6.5" fill="#a5c6ef"/>
<rect x="386.45" y="831.47" width="31" height="6.5" fill="#a5c6ef"/>
<rect x="460.84" y="831.47" width="6.2" height="6.5" fill="#a5c6ef"/>
<rect x="175.67" y="837.96" width="6.2" height="6.5" fill="#a5c6ef"/>
<rect x="212.86" y="837.96" width="12.4" height="6.5" fill="#a5c6ef"/>
<rect x="262.46" y="837.96" width="6.2" height="6.5" fill="#a5c6ef"/>
<rect x="281.06" y="837.96" width="6.2" height="6.5" fill="#a5c6ef"/>
<rect x="287.26" y="837.96" width="6.2" height="6.5" fill="#61aff6"/>
<rect x="299.66" y="837.96" width="6.2" height="6.5" fill="#8cbcf2"/>
<rect x="305.86" y="837.96" width="12.4" height="6.5" fill="#a5c6ef"/>
<rect x="330.65" y="837.96" width="6.2" height="6.5" fill="#a5c6ef"/>
<rect x="349.25" y="837.96" width="6.2" height="6.5" fill="#a5c6ef"/>
<rect x="355.45" y="837.96" width="6.2" height="6.5" fill="#8cbcf2"/>
<rect x="374.05" y="837.96" width="6.2" height="6.5" fill="#a5c6ef"/>
<rect x="386.45" y="837.96" width="6.2" height="6.5" fill="#a5c6ef"/>
<rect x="417.44" y="837.96" width="12.4" height="6.5" fill="#a5c6ef"/>
<rect x="498.04" y="837.96" width="6.2" height="6.5" fill="#a5c6ef"/>
<rect x="175.67" y="844.46" width="12.4" height="6.5" fill="#a5c6ef"/>
<rect x="274.86" y="844.46" width="12.4" height="6.5" fill="#a5c6ef"/>
<rect x="293.46" y="844.46" width="6.2" height="6.5" fill="#a5c6ef"/>
<rect x="305.86" y="844.46" width="6.2" height="6.5" fill="#a5c6ef"/>
<rect x="318.25" y="844.46" width="6.2" height="6.5" fill="#a5c6ef"/>
<rect x="336.85" y="844.46" width="6.2" height="6.5" fill="#a5c6ef"/>
<rect x="349.25" y="844.46" width="6.2" height="6.5" fill="#a5c6ef"/>
<rect x="355.45" y="844.46" width="6.2" height="6.5" fill="#8cbcf2"/>
<rect x="361.65" y="844.46" width="18.6" height="6.5" fill="#a5c6ef"/>
<rect x="386.45" y="844.46" width="12.4" height="6.5" fill="#a5c6ef"/>
<rect x="411.24" y="844.46" width="6.2" height="6.5" fill="#a5c6ef"/>
<rect x="423.64" y="844.46" width="6.2" height="6.5" fill="#a5c6ef"/>
<rect x="200.47" y="850.95" width="6.2" height="6.5" fill="#a5c6ef"/>
<rect x="219.06" y="850.95" width="6.2" height="6.5" fill="#a5c6ef"/>
<rect x="312.05" y="850.95" width="6.2" height="6.5" fill="#a5c6ef"/>
<rect x="349.25" y="850.95" width="6.2" height="6.5" fill="#a5c6ef"/>
<rect x="361.65" y="850.95" width="6.2" height="6.5" fill="#2c9cea"/>
<rect x="367.85" y="850.95" width="6.2" height="6.5" fill="#3d5a78"/>
<rect x="374.05" y="850.95" width="12.4" height="6.5" fill="#61aff6"/>
<rect x="386.45" y="850.95" width="6.2" height="6.5" fill="#3577ae"/>
<rect x="392.65" y="850.95" width="6.2" height="6.5" fill="#61aff6"/>
<rect x="398.85" y="850.95" width="6.2" height="6.5" fill="#2c9cea"/>
<rect x="405.04" y="850.95" width="6.2" height="6.5" fill="#61aff6"/>
<rect x="411.24" y="850.95" width="6.2" height="6.5" fill="#2c9cea"/>
<rect x="417.44" y="850.95" width="6.2" height="6.5" fill="#3577ae"/>
<rect x="479.44" y="850.95" width="6.2" height="6.5" fill="#a5c6ef"/>
<rect x="504.23" y="850.95" width="6.2" height="6.5" fill="#a5c6ef"/>
<rect x="169.47" y="857.45" width="6.2" height="6.5" fill="#a5c6ef"/>
<rect x="250.06" y="857.45" width="6.2" height="6.5" fill="#a5c6ef"/>
<rect x="305.86" y="857.45" width="6.2" height="6.5" fill="#a5c6ef"/>
<rect x="330.65" y="857.45" width="6.2" height="6.5" fill="#a5c6ef"/>
<rect x="349.25" y="857.45" width="6.2" height="6.5" fill="#a5c6ef"/>
<rect x="355.45" y="857.45" width="6.2" height="6.5" fill="#2c9cea"/>
<rect x="361.65" y="857.45" width="6.2" height="6.5" fill="#61aff6"/>
<rect x="374.05" y="857.45" width="18.6" height="6.5" fill="#61aff6"/>
<rect x="398.85" y="857.45" width="6.2" height="6.5" fill="#61aff6"/>
<rect x="250.06" y="863.94" width="6.2" height="6.5" fill="#a5c6ef"/>
<rect x="336.85" y="863.94" width="6.2" height="6.5" fill="#a5c6ef"/>
<rect x="355.45" y="863.94" width="43.4" height="6.5" fill="#a5c6ef"/>
<rect x="398.85" y="863.94" width="6.2" height="6.5" fill="#8cbcf2"/>
<rect x="541.43" y="863.94" width="6.2" height="6.5" fill="#a5c6ef"/>
<rect x="274.86" y="870.44" width="6.2" height="6.5" fill="#a5c6ef"/>
<rect x="305.86" y="870.44" width="6.2" height="6.5" fill="#a5c6ef"/>
<rect x="355.45" y="870.44" width="37.2" height="6.5" fill="#8cbcf2"/>
<rect x="398.85" y="870.44" width="6.2" height="6.5" fill="#8cbcf2"/>
<rect x="417.44" y="870.44" width="6.2" height="6.5" fill="#a5c6ef"/>
<rect x="448.44" y="870.44" width="6.2" height="6.5" fill="#a5c6ef"/>
<rect x="200.47" y="876.93" width="6.2" height="6.5" fill="#a5c6ef"/>
<rect x="293.46" y="876.93" width="6.2" height="6.5" fill="#a5c6ef"/>
<rect x="336.85" y="876.93" width="12.4" height="6.5" fill="#a5c6ef"/>
<rect x="355.45" y="876.93" width="31" height="6.5" fill="#a5c6ef"/>
<rect x="405.04" y="876.93" width="6.2" height="6.5" fill="#a5c6ef"/>
<rect x="417.44" y="876.93" width="6.2" height="6.5" fill="#a5c6ef"/>
<rect x="442.24" y="876.93" width="6.2" height="6.5" fill="#a5c6ef"/>
<rect x="529.03" y="876.93" width="6.2" height="6.5" fill="#a5c6ef"/>
<rect x="163.27" y="883.43" width="6.2" height="6.5" fill="#a5c6ef"/>
<rect x="355.45" y="883.43" width="12.4" height="6.5" fill="#a5c6ef"/>
<rect x="367.85" y="883.43" width="6.2" height="6.5" fill="#61aff6"/>
<rect x="380.25" y="883.43" width="6.2" height="6.5" fill="#61aff6"/>
<rect x="386.45" y="883.43" width="24.8" height="6.5" fill="#a5c6ef"/>
<rect x="491.84" y="883.43" width="6.2" height="6.5" fill="#a5c6ef"/>
<rect x="287.26" y="889.92" width="6.2" height="6.5" fill="#a5c6ef"/>
<rect x="324.45" y="889.92" width="6.2" height="6.5" fill="#a5c6ef"/>
<rect x="367.85" y="889.92" width="6.2" height="6.5" fill="#61aff6"/>
<rect x="380.25" y="889.92" width="6.2" height="6.5" fill="#2c9cea"/>
<rect x="392.65" y="889.92" width="6.2" height="6.5" fill="#8cbcf2"/>
<rect x="498.04" y="889.92" width="12.4" height="6.5" fill="#a5c6ef"/>
<rect x="293.46" y="896.42" width="6.2" height="6.5" fill="#a5c6ef"/>
<rect x="355.45" y="896.42" width="6.2" height="6.5" fill="#a5c6ef"/>
<rect x="510.43" y="896.42" width="6.2" height="6.5" fill="#a5c6ef"/>
<rect x="256.26" y="902.91" width="6.2" height="6.5" fill="#a5c6ef"/>
<rect x="361.65" y="902.91" width="6.2" height="6.5" fill="#a5c6ef"/>
<rect x="398.85" y="902.91" width="6.2" height="6.5" fill="#a5c6ef"/>
<rect x="262.46" y="909.41" width="6.2" height="6.5" fill="#a5c6ef"/>
<rect x="361.65" y="909.41" width="18.6" height="6.5" fill="#a5c6ef"/>
<rect x="361.65" y="915.9" width="6.2" height="6.5" fill="#a5c6ef"/>
<rect x="374.05" y="915.9" width="6.2" height="6.5" fill="#a5c6ef"/>
</g>
<g shape-rendering="crispEdges">
<rect x="349.25" y="985.85" width="6.2" height="12.96" fill="#61aff6"/>
<rect x="355.45" y="985.85" width="6.2" height="12.96" fill="#3d5a78"/>
<rect x="361.65" y="985.85" width="6.2" height="12.96" fill="#8cbcf2"/>
<rect x="343.05" y="998.81" width="6.2" height="12.96" fill="#a5c6ef"/>
<rect x="349.25" y="998.81" width="6.2" height="12.96" fill="#61aff6"/>
<rect x="355.45" y="998.81" width="6.2" height="12.96" fill="#3577ae"/>
<rect x="361.65" y="998.81" width="6.2" height="12.96" fill="#2c9cea"/>
<rect x="367.85" y="998.81" width="6.2" height="12.96" fill="#a5c6ef"/>
<rect x="336.85" y="1011.76" width="12.4" height="12.96" fill="#a5c6ef"/>
<rect x="349.25" y="1011.76" width="6.2" height="12.96" fill="#61aff6"/>
<rect x="355.45" y="1011.76" width="6.2" height="12.96" fill="#2c9cea"/>
<rect x="361.65" y="1011.76" width="6.2" height="12.96" fill="#61aff6"/>
<rect x="367.85" y="1011.76" width="6.2" height="12.96" fill="#2c9cea"/>
<rect x="374.05" y="1011.76" width="6.2" height="12.96" fill="#a5c6ef"/>
<rect x="330.65" y="1024.72" width="18.6" height="12.96" fill="#8cbcf2"/>
<rect x="349.25" y="1024.72" width="18.6" height="12.96" fill="#61aff6"/>
<rect x="367.85" y="1024.72" width="18.6" height="12.96" fill="#a5c6ef"/>
<rect x="324.45" y="1037.67" width="6.2" height="12.96" fill="#a5c6ef"/>
<rect x="336.85" y="1037.67" width="12.4" height="12.96" fill="#a5c6ef"/>
<rect x="349.25" y="1037.67" width="12.4" height="12.96" fill="#8cbcf2"/>
<rect x="361.65" y="1037.67" width="24.8" height="12.96" fill="#a5c6ef"/>
<rect x="318.25" y="1050.63" width="31" height="12.96" fill="#a5c6ef"/>
<rect x="349.25" y="1050.63" width="6.2" height="12.96" fill="#61aff6"/>
<rect x="355.45" y="1050.63" width="18.6" height="12.96" fill="#a5c6ef"/>
<rect x="380.25" y="1050.63" width="18.6" height="12.96" fill="#a5c6ef"/>
<rect x="312.05" y="1063.58" width="6.2" height="12.96" fill="#a5c6ef"/>
<rect x="324.45" y="1063.58" width="6.2" height="12.96" fill="#a5c6ef"/>
<rect x="330.65" y="1063.58" width="24.8" height="12.96" fill="#8cbcf2"/>
<rect x="355.45" y="1063.58" width="6.2" height="12.96" fill="#2c9cea"/>
<rect x="361.65" y="1063.58" width="24.8" height="12.96" fill="#a5c6ef"/>
<rect x="392.65" y="1063.58" width="12.4" height="12.96" fill="#a5c6ef"/>
<rect x="305.86" y="1076.54" width="43.4" height="12.96" fill="#a5c6ef"/>
<rect x="349.25" y="1076.54" width="6.2" height="12.96" fill="#8cbcf2"/>
<rect x="355.45" y="1076.54" width="6.2" height="12.96" fill="#2c9cea"/>
<rect x="361.65" y="1076.54" width="24.8" height="12.96" fill="#a5c6ef"/>
<rect x="398.85" y="1076.54" width="12.4" height="12.96" fill="#a5c6ef"/>
<rect x="299.66" y="1089.49" width="18.6" height="12.96" fill="#a5c6ef"/>
<rect x="330.65" y="1089.49" width="24.8" height="12.96" fill="#a5c6ef"/>
<rect x="355.45" y="1089.49" width="6.2" height="12.96" fill="#8cbcf2"/>
<rect x="361.65" y="1089.49" width="55.79" height="12.96" fill="#a5c6ef"/>
<rect x="293.46" y="1102.45" width="18.6" height="12.96" fill="#a5c6ef"/>
<rect x="324.45" y="1102.45" width="24.8" height="12.96" fill="#a5c6ef"/>
<rect x="349.25" y="1102.45" width="6.2" height="12.96" fill="#8cbcf2"/>
<rect x="355.45" y="1102.45" width="43.4" height="12.96" fill="#a5c6ef"/>
<rect x="405.04" y="1102.45" width="6.2" height="12.96" fill="#a5c6ef"/>
<rect x="417.44" y="1102.45" width="6.2" height="12.96" fill="#a5c6ef"/>
<rect x="287.26" y="1115.4" width="31" height="12.96" fill="#a5c6ef"/>
<rect x="324.45" y="1115.4" width="18.6" height="12.96" fill="#a5c6ef"/>
<rect x="343.05" y="1115.4" width="6.2" height="12.96" fill="#61aff6"/>
<rect x="349.25" y="1115.4" width="6.2" height="12.96" fill="#8cbcf2"/>
<rect x="355.45" y="1115.4" width="55.79" height="12.96" fill="#a5c6ef"/>
<rect x="423.64" y="1115.4" width="6.2" height="12.96" fill="#a5c6ef"/>
<rect x="281.06" y="1128.36" width="24.8" height="12.96" fill="#a5c6ef"/>
<rect x="318.25" y="1128.36" width="6.2" height="12.96" fill="#a5c6ef"/>
<rect x="330.65" y="1128.36" width="12.4" height="12.96" fill="#a5c6ef"/>
<rect x="343.05" y="1128.36" width="6.2" height="12.96" fill="#61aff6"/>
<rect x="349.25" y="1128.36" width="6.2" height="12.96" fill="#8cbcf2"/>
<rect x="355.45" y="1128.36" width="6.2" height="12.96" fill="#61aff6"/>
<rect x="361.65" y="1128.36" width="37.2" height="12.96" fill="#a5c6ef"/>
<rect x="405.04" y="1128.36" width="6.2" height="12.96" fill="#a5c6ef"/>
<rect x="417.44" y="1128.36" width="18.6" height="12.96" fill="#a5c6ef"/>
<rect x="274.86" y="1141.31" width="6.2" height="12.96" fill="#a5c6ef"/>
<rect x="293.46" y="1141.31" width="37.2" height="12.96" fill="#8cbcf2"/>
<rect x="330.65" y="1141.31" width="12.4" height="12.96" fill="#a5c6ef"/>
<rect x="343.05" y="1141.31" width="6.2" height="12.96" fill="#61aff6"/>
<rect x="349.25" y="1141.31" width="6.2" height="12.96" fill="#8cbcf2"/>
<rect x="355.45" y="1141.31" width="6.2" height="12.96" fill="#2c9cea"/>
<rect x="361.65" y="1141.31" width="37.2" height="12.96" fill="#a5c6ef"/>
<rect x="411.24" y="1141.31" width="12.4" height="12.96" fill="#a5c6ef"/>
<rect x="429.84" y="1141.31" width="12.4" height="12.96" fill="#a5c6ef"/>
<rect x="268.66" y="1154.27" width="18.6" height="12.96" fill="#a5c6ef"/>
<rect x="293.46" y="1154.27" width="6.2" height="12.96" fill="#8cbcf2"/>
<rect x="299.66" y="1154.27" width="18.6" height="12.96" fill="#a5c6ef"/>
<rect x="318.25" y="1154.27" width="37.2" height="12.96" fill="#8cbcf2"/>
<rect x="355.45" y="1154.27" width="68.19" height="12.96" fill="#a5c6ef"/>
<rect x="429.84" y="1154.27" width="18.6" height="12.96" fill="#a5c6ef"/>
<rect x="262.46" y="1167.22" width="24.8" height="12.96" fill="#a5c6ef"/>
<rect x="293.46" y="1167.22" width="24.8" height="12.96" fill="#8cbcf2"/>
<rect x="318.25" y="1167.22" width="12.4" height="12.96" fill="#61aff6"/>
<rect x="330.65" y="1167.22" width="31" height="12.96" fill="#8cbcf2"/>
<rect x="361.65" y="1167.22" width="12.4" height="12.96" fill="#61aff6"/>
<rect x="380.25" y="1167.22" width="6.2" height="12.96" fill="#61aff6"/>
<rect x="386.45" y="1167.22" width="43.4" height="12.96" fill="#a5c6ef"/>
<rect x="436.04" y="1167.22" width="18.6" height="12.96" fill="#a5c6ef"/>
<rect x="256.26" y="1180.18" width="31" height="12.96" fill="#a5c6ef"/>
<rect x="299.66" y="1180.18" width="6.2" height="12.96" fill="#2c9cea"/>
<rect x="305.86" y="1180.18" width="6.2" height="12.96" fill="#61aff6"/>
<rect x="312.05" y="1180.18" width="43.4" height="12.96" fill="#8cbcf2"/>
<rect x="355.45" y="1180.18" width="18.6" height="12.96" fill="#61aff6"/>
<rect x="374.05" y="1180.18" width="86.79" height="12.96" fill="#a5c6ef"/>
<rect x="243.86" y="1193.13" width="24.8" height="12.96" fill="#a5c6ef"/>
<rect x="281.06" y="1193.13" width="6.2" height="12.96" fill="#a5c6ef"/>
<rect x="293.46" y="1193.13" width="24.8" height="12.96" fill="#a5c6ef"/>
<rect x="318.25" y="1193.13" width="6.2" height="12.96" fill="#8cbcf2"/>
<rect x="324.45" y="1193.13" width="12.4" height="12.96" fill="#a5c6ef"/>
<rect x="336.85" y="1193.13" width="12.4" height="12.96" fill="#8cbcf2"/>
<rect x="349.25" y="1193.13" width="99.19" height="12.96" fill="#a5c6ef"/>
<rect x="454.64" y="1193.13" width="12.4" height="12.96" fill="#a5c6ef"/>
<rect x="243.86" y="1206.09" width="12.4" height="12.96" fill="#a5c6ef"/>
<rect x="262.46" y="1206.09" width="12.4" height="12.96" fill="#a5c6ef"/>
<rect x="281.06" y="1206.09" width="24.8" height="12.96" fill="#a5c6ef"/>
<rect x="305.86" y="1206.09" width="6.2" height="12.96" fill="#8cbcf2"/>
<rect x="312.05" y="1206.09" width="92.99" height="12.96" fill="#a5c6ef"/>
<rect x="411.24" y="1206.09" width="37.2" height="12.96" fill="#a5c6ef"/>
<rect x="454.64" y="1206.09" width="18.6" height="12.96" fill="#a5c6ef"/>
<rect x="231.46" y="1219.04" width="12.4" height="12.96" fill="#a5c6ef"/>
<rect x="250.06" y="1219.04" width="6.2" height="12.96" fill="#a5c6ef"/>
<rect x="256.26" y="1219.04" width="6.2" height="12.96" fill="#2c9cea"/>
<rect x="274.86" y="1219.04" width="61.99" height="12.96" fill="#a5c6ef"/>
<rect x="336.85" y="1219.04" width="6.2" height="12.96" fill="#8cbcf2"/>
<rect x="343.05" y="1219.04" width="6.2" height="12.96" fill="#a5c6ef"/>
<rect x="349.25" y="1219.04" width="6.2" height="12.96" fill="#8cbcf2"/>
<rect x="355.45" y="1219.04" width="6.2" height="12.96" fill="#2c9cea"/>
<rect x="361.65" y="1219.04" width="18.6" height="12.96" fill="#a5c6ef"/>
<rect x="386.45" y="1219.04" width="6.2" height="12.96" fill="#a5c6ef"/>
<rect x="398.85" y="1219.04" width="6.2" height="12.96" fill="#a5c6ef"/>
<rect x="411.24" y="1219.04" width="12.4" height="12.96" fill="#a5c6ef"/>
<rect x="423.64" y="1219.04" width="6.2" height="12.96" fill="#8cbcf2"/>
<rect x="429.84" y="1219.04" width="18.6" height="12.96" fill="#a5c6ef"/>
<rect x="454.64" y="1219.04" width="12.4" height="12.96" fill="#a5c6ef"/>
<rect x="473.24" y="1219.04" width="6.2" height="12.96" fill="#a5c6ef"/>
<rect x="231.46" y="1232" width="12.4" height="12.96" fill="#a5c6ef"/>
<rect x="256.26" y="1232" width="6.2" height="12.96" fill="#a5c6ef"/>
<rect x="274.86" y="1232" width="154.98" height="12.96" fill="#a5c6ef"/>
<rect x="436.04" y="1232" width="18.6" height="12.96" fill="#a5c6ef"/>
<rect x="460.84" y="1232" width="6.2" height="12.96" fill="#a5c6ef"/>
<rect x="473.24" y="1232" width="18.6" height="12.96" fill="#a5c6ef"/>
<rect x="219.06" y="1244.95" width="6.2" height="12.96" fill="#a5c6ef"/>
<rect x="225.26" y="1244.95" width="6.2" height="12.96" fill="#8cbcf2"/>
<rect x="231.46" y="1244.95" width="12.4" height="12.96" fill="#a5c6ef"/>
<rect x="250.06" y="1244.95" width="61.99" height="12.96" fill="#a5c6ef"/>
<rect x="318.25" y="1244.95" width="31" height="12.96" fill="#a5c6ef"/>
<rect x="349.25" y="1244.95" width="6.2" height="12.96" fill="#8cbcf2"/>
<rect x="355.45" y="1244.95" width="6.2" height="12.96" fill="#a5c6ef"/>
<rect x="361.65" y="1244.95" width="6.2" height="12.96" fill="#8cbcf2"/>
<rect x="367.85" y="1244.95" width="43.4" height="12.96" fill="#a5c6ef"/>
<rect x="417.44" y="1244.95" width="6.2" height="12.96" fill="#a5c6ef"/>
<rect x="429.84" y="1244.95" width="12.4" height="12.96" fill="#a5c6ef"/>
<rect x="448.44" y="1244.95" width="6.2" height="12.96" fill="#a5c6ef"/>
<rect x="460.84" y="1244.95" width="12.4" height="12.96" fill="#a5c6ef"/>
<rect x="485.64" y="1244.95" width="12.4" height="12.96" fill="#a5c6ef"/>
<rect x="219.06" y="1257.91" width="18.6" height="12.96" fill="#a5c6ef"/>
<rect x="243.86" y="1257.91" width="6.2" height="12.96" fill="#a5c6ef"/>
<rect x="250.06" y="1257.91" width="18.6" height="12.96" fill="#8cbcf2"/>
<rect x="268.66" y="1257.91" width="55.79" height="12.96" fill="#a5c6ef"/>
<rect x="324.45" y="1257.91" width="6.2" height="12.96" fill="#61aff6"/>
<rect x="330.65" y="1257.91" width="24.8" height="12.96" fill="#8cbcf2"/>
<rect x="355.45" y="1257.91" width="12.4" height="12.96" fill="#61aff6"/>
<rect x="367.85" y="1257.91" width="6.2" height="12.96" fill="#a5c6ef"/>
<rect x="374.05" y="1257.91" width="6.2" height="12.96" fill="#2c9cea"/>
<rect x="380.25" y="1257.91" width="43.4" height="12.96" fill="#a5c6ef"/>
<rect x="429.84" y="1257.91" width="18.6" height="12.96" fill="#a5c6ef"/>
<rect x="454.64" y="1257.91" width="6.2" height="12.96" fill="#a5c6ef"/>
<rect x="467.04" y="1257.91" width="31" height="12.96" fill="#a5c6ef"/>
<rect x="212.86" y="1270.86" width="31" height="12.96" fill="#a5c6ef"/>
<rect x="250.06" y="1270.86" width="12.4" height="12.96" fill="#a5c6ef"/>
<rect x="268.66" y="1270.86" width="12.4" height="12.96" fill="#a5c6ef"/>
<rect x="281.06" y="1270.86" width="6.2" height="12.96" fill="#2c9cea"/>
<rect x="287.26" y="1270.86" width="12.4" height="12.96" fill="#61aff6"/>
<rect x="299.66" y="1270.86" width="12.4" height="12.96" fill="#2c9cea"/>
<rect x="312.05" y="1270.86" width="6.2" height="12.96" fill="#3d5a78"/>
<rect x="318.25" y="1270.86" width="12.4" height="12.96" fill="#2c9cea"/>
<rect x="330.65" y="1270.86" width="31" height="12.96" fill="#8cbcf2"/>
<rect x="361.65" y="1270.86" width="12.4" height="12.96" fill="#61aff6"/>
<rect x="374.05" y="1270.86" width="68.19" height="12.96" fill="#a5c6ef"/>
<rect x="454.64" y="1270.86" width="12.4" height="12.96" fill="#a5c6ef"/>
<rect x="473.24" y="1270.86" width="6.2" height="12.96" fill="#a5c6ef"/>
<rect x="485.64" y="1270.86" width="6.2" height="12.96" fill="#a5c6ef"/>
<rect x="498.04" y="1270.86" width="6.2" height="12.96" fill="#a5c6ef"/>
<rect x="212.86" y="1283.82" width="18.6" height="12.96" fill="#a5c6ef"/>
<rect x="243.86" y="1283.82" width="12.4" height="12.96" fill="#a5c6ef"/>
<rect x="268.66" y="1283.82" width="12.4" height="12.96" fill="#a5c6ef"/>
<rect x="287.26" y="1283.82" width="24.8" height="12.96" fill="#a5c6ef"/>
<rect x="312.05" y="1283.82" width="43.4" height="12.96" fill="#61aff6"/>
<rect x="355.45" y="1283.82" width="12.4" height="12.96" fill="#8cbcf2"/>
<rect x="367.85" y="1283.82" width="6.2" height="12.96" fill="#61aff6"/>
<rect x="374.05" y="1283.82" width="18.6" height="12.96" fill="#a5c6ef"/>
<rect x="398.85" y="1283.82" width="55.79" height="12.96" fill="#a5c6ef"/>
<rect x="460.84" y="1283.82" width="6.2" height="12.96" fill="#a5c6ef"/>
<rect x="473.24" y="1283.82" width="37.2" height="12.96" fill="#a5c6ef"/>
<rect x="212.86" y="1296.77" width="12.4" height="12.96" fill="#a5c6ef"/>
<rect x="243.86" y="1296.77" width="43.4" height="12.96" fill="#a5c6ef"/>
<rect x="293.46" y="1296.77" width="43.4" height="12.96" fill="#a5c6ef"/>
<rect x="336.85" y="1296.77" width="24.8" height="12.96" fill="#61aff6"/>
<rect x="361.65" y="1296.77" width="74.39" height="12.96" fill="#a5c6ef"/>
<rect x="442.24" y="1296.77" width="24.8" height="12.96" fill="#a5c6ef"/>
<rect x="479.44" y="1296.77" width="6.2" height="12.96" fill="#a5c6ef"/>
<rect x="491.84" y="1296.77" width="31" height="12.96" fill="#a5c6ef"/>
<rect x="188.07" y="1309.73" width="6.2" height="12.96" fill="#a5c6ef"/>
<rect x="200.47" y="1309.73" width="12.4" height="12.96" fill="#a5c6ef"/>
<rect x="219.06" y="1309.73" width="117.79" height="12.96" fill="#a5c6ef"/>
<rect x="336.85" y="1309.73" width="24.8" height="12.96" fill="#61aff6"/>
<rect x="361.65" y="1309.73" width="6.2" height="12.96" fill="#8cbcf2"/>
<rect x="367.85" y="1309.73" width="6.2" height="12.96" fill="#61aff6"/>
<rect x="374.05" y="1309.73" width="6.2" height="12.96" fill="#3577ae"/>
<rect x="380.25" y="1309.73" width="6.2" height="12.96" fill="#2c9cea"/>
<rect x="386.45" y="1309.73" width="49.59" height="12.96" fill="#a5c6ef"/>
<rect x="436.04" y="1309.73" width="6.2" height="12.96" fill="#2c9cea"/>
<rect x="442.24" y="1309.73" width="43.4" height="12.96" fill="#a5c6ef"/>
<rect x="498.04" y="1309.73" width="18.6" height="12.96" fill="#a5c6ef"/>
<rect x="181.87" y="1322.68" width="6.2" height="12.96" fill="#a5c6ef"/>
<rect x="194.27" y="1322.68" width="6.2" height="12.96" fill="#a5c6ef"/>
<rect x="206.67" y="1322.68" width="6.2" height="12.96" fill="#a5c6ef"/>
<rect x="231.46" y="1322.68" width="6.2" height="12.96" fill="#a5c6ef"/>
<rect x="243.86" y="1322.68" width="18.6" height="12.96" fill="#a5c6ef"/>
<rect x="262.46" y="1322.68" width="6.2" height="12.96" fill="#61aff6"/>
<rect x="268.66" y="1322.68" width="18.6" height="12.96" fill="#8cbcf2"/>
<rect x="287.26" y="1322.68" width="12.4" height="12.96" fill="#61aff6"/>
<rect x="299.66" y="1322.68" width="37.2" height="12.96" fill="#8cbcf2"/>
<rect x="336.85" y="1322.68" width="18.6" height="12.96" fill="#2c9cea"/>
<rect x="355.45" y="1322.68" width="6.2" height="12.96" fill="#8cbcf2"/>
<rect x="361.65" y="1322.68" width="24.8" height="12.96" fill="#2c9cea"/>
<rect x="386.45" y="1322.68" width="18.6" height="12.96" fill="#a5c6ef"/>
<rect x="405.04" y="1322.68" width="12.4" height="12.96" fill="#61aff6"/>
<rect x="417.44" y="1322.68" width="18.6" height="12.96" fill="#8cbcf2"/>
<rect x="436.04" y="1322.68" width="18.6" height="12.96" fill="#2c9cea"/>
<rect x="454.64" y="1322.68" width="31" height="12.96" fill="#a5c6ef"/>
<rect x="504.23" y="1322.68" width="6.2" height="12.96" fill="#a5c6ef"/>
<rect x="522.83" y="1322.68" width="6.2" height="12.96" fill="#a5c6ef"/>
<rect x="194.27" y="1335.64" width="6.2" height="12.96" fill="#a5c6ef"/>
<rect x="219.06" y="1335.64" width="18.6" height="12.96" fill="#a5c6ef"/>
<rect x="243.86" y="1335.64" width="24.8" height="12.96" fill="#a5c6ef"/>
<rect x="281.06" y="1335.64" width="18.6" height="12.96" fill="#8cbcf2"/>
<rect x="299.66" y="1335.64" width="6.2" height="12.96" fill="#61aff6"/>
<rect x="305.86" y="1335.64" width="6.2" height="12.96" fill="#3d5a78"/>
<rect x="312.05" y="1335.64" width="18.6" height="12.96" fill="#2c9cea"/>
<rect x="330.65" y="1335.64" width="6.2" height="12.96" fill="#3577ae"/>
<rect x="336.85" y="1335.64" width="6.2" height="12.96" fill="#3d5a78"/>
<rect x="343.05" y="1335.64" width="12.4" height="12.96" fill="#61aff6"/>
<rect x="355.45" y="1335.64" width="6.2" height="12.96" fill="#3577ae"/>
<rect x="361.65" y="1335.64" width="31" height="12.96" fill="#2c9cea"/>
<rect x="392.65" y="1335.64" width="6.2" height="12.96" fill="#8cbcf2"/>
<rect x="398.85" y="1335.64" width="6.2" height="12.96" fill="#3577ae"/>
<rect x="405.04" y="1335.64" width="18.6" height="12.96" fill="#2c9cea"/>
<rect x="423.64" y="1335.64" width="43.4" height="12.96" fill="#a5c6ef"/>
<rect x="473.24" y="1335.64" width="6.2" height="12.96" fill="#a5c6ef"/>
<rect x="485.64" y="1335.64" width="31" height="12.96" fill="#a5c6ef"/>
<rect x="522.83" y="1335.64" width="12.4" height="12.96" fill="#a5c6ef"/>
<rect x="169.47" y="1348.59" width="12.4" height="12.96" fill="#a5c6ef"/>
<rect x="194.27" y="1348.59" width="6.2" height="12.96" fill="#a5c6ef"/>
<rect x="212.86" y="1348.59" width="31" height="12.96" fill="#a5c6ef"/>
<rect x="250.06" y="1348.59" width="6.2" height="12.96" fill="#a5c6ef"/>
<rect x="262.46" y="1348.59" width="24.8" height="12.96" fill="#a5c6ef"/>
<rect x="287.26" y="1348.59" width="24.8" height="12.96" fill="#61aff6"/>
<rect x="312.05" y="1348.59" width="6.2" height="12.96" fill="#8cbcf2"/>
<rect x="318.25" y="1348.59" width="12.4" height="12.96" fill="#2c9cea"/>
<rect x="330.65" y="1348.59" width="6.2" height="12.96" fill="#3577ae"/>
<rect x="336.85" y="1348.59" width="12.4" height="12.96" fill="#3d5a78"/>
<rect x="349.25" y="1348.59" width="6.2" height="12.96" fill="#2c9cea"/>
<rect x="355.45" y="1348.59" width="6.2" height="12.96" fill="#3577ae"/>
<rect x="361.65" y="1348.59" width="6.2" height="12.96" fill="#3d5a78"/>
<rect x="367.85" y="1348.59" width="37.2" height="12.96" fill="#2c9cea"/>
<rect x="405.04" y="1348.59" width="24.8" height="12.96" fill="#3577ae"/>
<rect x="429.84" y="1348.59" width="49.59" height="12.96" fill="#a5c6ef"/>
<rect x="498.04" y="1348.59" width="6.2" height="12.96" fill="#a5c6ef"/>
<rect x="510.43" y="1348.59" width="6.2" height="12.96" fill="#a5c6ef"/>
<rect x="535.23" y="1348.59" width="6.2" height="12.96" fill="#a5c6ef"/>
<rect x="163.27" y="1361.55" width="6.2" height="12.96" fill="#a5c6ef"/>
<rect x="169.47" y="1361.55" width="12.4" height="12.96" fill="#8cbcf2"/>
<rect x="181.87" y="1361.55" width="12.4" height="12.96" fill="#a5c6ef"/>
<rect x="200.47" y="1361.55" width="24.8" height="12.96" fill="#a5c6ef"/>
<rect x="225.26" y="1361.55" width="6.2" height="12.96" fill="#2c9cea"/>
<rect x="231.46" y="1361.55" width="6.2" height="12.96" fill="#8cbcf2"/>
<rect x="237.66" y="1361.55" width="12.4" height="12.96" fill="#2c9cea"/>
<rect x="250.06" y="1361.55" width="37.2" height="12.96" fill="#8cbcf2"/>
<rect x="287.26" y="1361.55" width="12.4" height="12.96" fill="#61aff6"/>
<rect x="299.66" y="1361.55" width="12.4" height="12.96" fill="#3577ae"/>
<rect x="312.05" y="1361.55" width="24.8" height="12.96" fill="#2c9cea"/>
<rect x="336.85" y="1361.55" width="6.2" height="12.96" fill="#3577ae"/>
<rect x="343.05" y="1361.55" width="12.4" height="12.96" fill="#3d5a78"/>
<rect x="355.45" y="1361.55" width="6.2" height="12.96" fill="#2c9cea"/>
<rect x="361.65" y="1361.55" width="24.8" height="12.96" fill="#3d5a78"/>
<rect x="386.45" y="1361.55" width="6.2" height="12.96" fill="#3577ae"/>
<rect x="392.65" y="1361.55" width="6.2" height="12.96" fill="#3d5a78"/>
<rect x="398.85" y="1361.55" width="6.2" height="12.96" fill="#2c9cea"/>
<rect x="405.04" y="1361.55" width="6.2" height="12.96" fill="#3d5a78"/>
<rect x="411.24" y="1361.55" width="18.6" height="12.96" fill="#2c9cea"/>
<rect x="429.84" y="1361.55" width="74.39" height="12.96" fill="#a5c6ef"/>
<rect x="541.43" y="1361.55" width="6.2" height="12.96" fill="#a5c6ef"/>
<rect x="163.27" y="1374.5" width="6.2" height="12.96" fill="#a5c6ef"/>
<rect x="175.67" y="1374.5" width="18.6" height="12.96" fill="#a5c6ef"/>
<rect x="200.47" y="1374.5" width="6.2" height="12.96" fill="#a5c6ef"/>
<rect x="212.86" y="1374.5" width="18.6" height="12.96" fill="#a5c6ef"/>
<rect x="237.66" y="1374.5" width="43.4" height="12.96" fill="#8cbcf2"/>
<rect x="281.06" y="1374.5" width="6.2" height="12.96" fill="#2c9cea"/>
<rect x="287.26" y="1374.5" width="6.2" height="12.96" fill="#3577ae"/>
<rect x="293.46" y="1374.5" width="68.19" height="12.96" fill="#2c9cea"/>
<rect x="361.65" y="1374.5" width="6.2" height="12.96" fill="#3577ae"/>
<rect x="367.85" y="1374.5" width="12.4" height="12.96" fill="#2c9cea"/>
<rect x="380.25" y="1374.5" width="18.6" height="12.96" fill="#3d5a78"/>
<rect x="398.85" y="1374.5" width="31" height="12.96" fill="#2c9cea"/>
<rect x="429.84" y="1374.5" width="43.4" height="12.96" fill="#a5c6ef"/>
<rect x="479.44" y="1374.5" width="6.2" height="12.96" fill="#a5c6ef"/>
<rect x="491.84" y="1374.5" width="6.2" height="12.96" fill="#a5c6ef"/>
<rect x="510.43" y="1374.5" width="6.2" height="12.96" fill="#a5c6ef"/>
<rect x="522.83" y="1374.5" width="6.2" height="12.96" fill="#a5c6ef"/>
</g>
<g shape-rendering="crispEdges">
<rect x="695.75" y="985.85" width="43.34" height="12.96" fill="#a5c6ef"/>
<rect x="739.09" y="985.85" width="6.19" height="12.96" fill="#2c9cea"/>
<rect x="745.28" y="985.85" width="6.19" height="12.96" fill="#8cbcf2"/>
<rect x="751.47" y="985.85" width="18.57" height="12.96" fill="#61aff6"/>
<rect x="770.04" y="985.85" width="37.15" height="12.96" fill="#a5c6ef"/>
<rect x="807.19" y="985.85" width="12.38" height="12.96" fill="#8cbcf2"/>
<rect x="819.58" y="985.85" width="6.19" height="12.96" fill="#2c9cea"/>
<rect x="825.77" y="985.85" width="6.19" height="12.96" fill="#61aff6"/>
<rect x="831.96" y="985.85" width="6.19" height="12.96" fill="#3d5a78"/>
<rect x="838.15" y="985.85" width="6.19" height="12.96" fill="#2c9cea"/>
<rect x="844.34" y="985.85" width="30.96" height="12.96" fill="#a5c6ef"/>
<rect x="887.68" y="985.85" width="6.19" height="12.96" fill="#a5c6ef"/>
<rect x="918.64" y="985.85" width="6.19" height="12.96" fill="#a5c6ef"/>
<rect x="931.02" y="985.85" width="6.19" height="12.96" fill="#a5c6ef"/>
<rect x="943.4" y="985.85" width="6.19" height="12.96" fill="#a5c6ef"/>
<rect x="968.17" y="985.85" width="6.19" height="12.96" fill="#a5c6ef"/>
<rect x="720.51" y="998.81" width="6.19" height="12.96" fill="#a5c6ef"/>
<rect x="732.89" y="998.81" width="24.77" height="12.96" fill="#a5c6ef"/>
<rect x="763.85" y="998.81" width="6.19" height="12.96" fill="#a5c6ef"/>
<rect x="776.23" y="998.81" width="43.34" height="12.96" fill="#a5c6ef"/>
<rect x="819.58" y="998.81" width="12.38" height="12.96" fill="#8cbcf2"/>
<rect x="831.96" y="998.81" width="6.19" height="12.96" fill="#61aff6"/>
<rect x="838.15" y="998.81" width="12.38" height="12.96" fill="#8cbcf2"/>
<rect x="856.72" y="998.81" width="12.38" height="12.96" fill="#a5c6ef"/>
<rect x="875.3" y="998.81" width="6.19" height="12.96" fill="#a5c6ef"/>
<rect x="893.87" y="998.81" width="12.38" height="12.96" fill="#a5c6ef"/>
<rect x="912.45" y="998.81" width="6.19" height="12.96" fill="#a5c6ef"/>
<rect x="955.79" y="998.81" width="6.19" height="12.96" fill="#a5c6ef"/>
<rect x="745.28" y="1011.76" width="43.34" height="12.96" fill="#a5c6ef"/>
<rect x="794.81" y="1011.76" width="12.38" height="12.96" fill="#a5c6ef"/>
<rect x="813.38" y="1011.76" width="49.53" height="12.96" fill="#a5c6ef"/>
<rect x="869.11" y="1011.76" width="6.19" height="12.96" fill="#a5c6ef"/>
<rect x="900.06" y="1011.76" width="6.19" height="12.96" fill="#a5c6ef"/>
<rect x="912.45" y="1011.76" width="6.19" height="12.96" fill="#a5c6ef"/>
<rect x="714.32" y="1024.72" width="6.19" height="12.96" fill="#a5c6ef"/>
<rect x="726.7" y="1024.72" width="18.57" height="12.96" fill="#8cbcf2"/>
<rect x="745.28" y="1024.72" width="12.38" height="12.96" fill="#a5c6ef"/>
<rect x="763.85" y="1024.72" width="49.53" height="12.96" fill="#a5c6ef"/>
<rect x="813.38" y="1024.72" width="6.19" height="12.96" fill="#61aff6"/>
<rect x="819.58" y="1024.72" width="43.34" height="12.96" fill="#a5c6ef"/>
<rect x="869.11" y="1024.72" width="6.19" height="12.96" fill="#a5c6ef"/>
<rect x="887.68" y="1024.72" width="12.38" height="12.96" fill="#a5c6ef"/>
<rect x="714.32" y="1037.67" width="12.38" height="12.96" fill="#a5c6ef"/>
<rect x="745.28" y="1037.67" width="18.57" height="12.96" fill="#a5c6ef"/>
<rect x="770.04" y="1037.67" width="49.53" height="12.96" fill="#a5c6ef"/>
<rect x="825.77" y="1037.67" width="49.53" height="12.96" fill="#a5c6ef"/>
<rect x="714.32" y="1050.63" width="24.77" height="12.96" fill="#a5c6ef"/>
<rect x="763.85" y="1050.63" width="12.38" height="12.96" fill="#a5c6ef"/>
<rect x="782.43" y="1050.63" width="49.53" height="12.96" fill="#a5c6ef"/>
<rect x="831.96" y="1050.63" width="6.19" height="12.96" fill="#61aff6"/>
<rect x="838.15" y="1050.63" width="18.57" height="12.96" fill="#a5c6ef"/>
<rect x="862.92" y="1050.63" width="6.19" height="12.96" fill="#a5c6ef"/>
<rect x="875.3" y="1050.63" width="6.19" height="12.96" fill="#a5c6ef"/>
<rect x="893.87" y="1050.63" width="6.19" height="12.96" fill="#a5c6ef"/>
<rect x="961.98" y="1050.63" width="6.19" height="12.96" fill="#a5c6ef"/>
<rect x="708.13" y="1063.58" width="6.19" height="12.96" fill="#a5c6ef"/>
<rect x="745.28" y="1063.58" width="24.77" height="12.96" fill="#8cbcf2"/>
<rect x="770.04" y="1063.58" width="24.77" height="12.96" fill="#a5c6ef"/>
<rect x="801" y="1063.58" width="24.77" height="12.96" fill="#a5c6ef"/>
<rect x="831.96" y="1063.58" width="24.77" height="12.96" fill="#a5c6ef"/>
<rect x="937.21" y="1063.58" width="6.19" height="12.96" fill="#a5c6ef"/>
<rect x="726.7" y="1076.54" width="6.19" height="12.96" fill="#a5c6ef"/>
<rect x="745.28" y="1076.54" width="18.57" height="12.96" fill="#a5c6ef"/>
<rect x="770.04" y="1076.54" width="24.77" height="12.96" fill="#a5c6ef"/>
<rect x="801" y="1076.54" width="30.96" height="12.96" fill="#a5c6ef"/>
<rect x="831.96" y="1076.54" width="6.19" height="12.96" fill="#8cbcf2"/>
<rect x="838.15" y="1076.54" width="18.57" height="12.96" fill="#a5c6ef"/>
<rect x="862.92" y="1076.54" width="24.77" height="12.96" fill="#a5c6ef"/>
<rect x="720.51" y="1089.49" width="24.77" height="12.96" fill="#a5c6ef"/>
<rect x="751.47" y="1089.49" width="117.64" height="12.96" fill="#a5c6ef"/>
<rect x="875.3" y="1089.49" width="6.19" height="12.96" fill="#a5c6ef"/>
<rect x="912.45" y="1089.49" width="6.19" height="12.96" fill="#a5c6ef"/>
<rect x="924.83" y="1089.49" width="6.19" height="12.96" fill="#a5c6ef"/>
<rect x="751.47" y="1102.45" width="6.19" height="12.96" fill="#a5c6ef"/>
<rect x="770.04" y="1102.45" width="12.38" height="12.96" fill="#a5c6ef"/>
<rect x="794.81" y="1102.45" width="24.77" height="12.96" fill="#a5c6ef"/>
<rect x="819.58" y="1102.45" width="6.19" height="12.96" fill="#61aff6"/>
<rect x="825.77" y="1102.45" width="49.53" height="12.96" fill="#a5c6ef"/>
<rect x="906.26" y="1102.45" width="6.19" height="12.96" fill="#a5c6ef"/>
<rect x="924.83" y="1102.45" width="6.19" height="12.96" fill="#a5c6ef"/>
<rect x="961.98" y="1102.45" width="6.19" height="12.96" fill="#a5c6ef"/>
<rect x="720.51" y="1115.4" width="6.19" height="12.96" fill="#a5c6ef"/>
<rect x="732.89" y="1115.4" width="6.19" height="12.96" fill="#a5c6ef"/>
<rect x="745.28" y="1115.4" width="18.57" height="12.96" fill="#a5c6ef"/>
<rect x="770.04" y="1115.4" width="6.19" height="12.96" fill="#a5c6ef"/>
<rect x="782.43" y="1115.4" width="6.19" height="12.96" fill="#a5c6ef"/>
<rect x="794.81" y="1115.4" width="80.49" height="12.96" fill="#a5c6ef"/>
<rect x="881.49" y="1115.4" width="12.38" height="12.96" fill="#a5c6ef"/>
<rect x="900.06" y="1115.4" width="6.19" height="12.96" fill="#a5c6ef"/>
<rect x="912.45" y="1115.4" width="6.19" height="12.96" fill="#a5c6ef"/>
<rect x="714.32" y="1128.36" width="6.19" height="12.96" fill="#a5c6ef"/>
<rect x="726.7" y="1128.36" width="6.19" height="12.96" fill="#a5c6ef"/>
<rect x="739.09" y="1128.36" width="6.19" height="12.96" fill="#a5c6ef"/>
<rect x="751.47" y="1128.36" width="6.19" height="12.96" fill="#a5c6ef"/>
<rect x="770.04" y="1128.36" width="24.77" height="12.96" fill="#a5c6ef"/>
<rect x="801" y="1128.36" width="61.91" height="12.96" fill="#a5c6ef"/>
<rect x="881.49" y="1128.36" width="30.96" height="12.96" fill="#a5c6ef"/>
<rect x="918.64" y="1128.36" width="6.19" height="12.96" fill="#a5c6ef"/>
<rect x="931.02" y="1128.36" width="6.19" height="12.96" fill="#a5c6ef"/>
<rect x="714.32" y="1141.31" width="6.19" height="12.96" fill="#a5c6ef"/>
<rect x="739.09" y="1141.31" width="74.3" height="12.96" fill="#a5c6ef"/>
<rect x="813.38" y="1141.31" width="6.19" height="12.96" fill="#61aff6"/>
<rect x="819.58" y="1141.31" width="12.38" height="12.96" fill="#8cbcf2"/>
<rect x="831.96" y="1141.31" width="6.19" height="12.96" fill="#2c9cea"/>
<rect x="838.15" y="1141.31" width="12.38" height="12.96" fill="#a5c6ef"/>
<rect x="850.53" y="1141.31" width="12.38" height="12.96" fill="#61aff6"/>
<rect x="862.92" y="1141.31" width="24.77" height="12.96" fill="#a5c6ef"/>
<rect x="900.06" y="1141.31" width="12.38" height="12.96" fill="#a5c6ef"/>
<rect x="931.02" y="1141.31" width="6.19" height="12.96" fill="#a5c6ef"/>
<rect x="708.13" y="1154.27" width="6.19" height="12.96" fill="#a5c6ef"/>
<rect x="726.7" y="1154.27" width="12.38" height="12.96" fill="#a5c6ef"/>
<rect x="757.66" y="1154.27" width="74.3" height="12.96" fill="#a5c6ef"/>
<rect x="831.96" y="1154.27" width="6.19" height="12.96" fill="#61aff6"/>
<rect x="838.15" y="1154.27" width="24.77" height="12.96" fill="#a5c6ef"/>
<rect x="869.11" y="1154.27" width="6.19" height="12.96" fill="#a5c6ef"/>
<rect x="881.49" y="1154.27" width="6.19" height="12.96" fill="#a5c6ef"/>
<rect x="893.87" y="1154.27" width="6.19" height="12.96" fill="#a5c6ef"/>
<rect x="918.64" y="1154.27" width="6.19" height="12.96" fill="#a5c6ef"/>
<rect x="937.21" y="1154.27" width="6.19" height="12.96" fill="#a5c6ef"/>
<rect x="949.6" y="1154.27" width="6.19" height="12.96" fill="#a5c6ef"/>
<rect x="708.13" y="1167.22" width="6.19" height="12.96" fill="#a5c6ef"/>
<rect x="745.28" y="1167.22" width="74.3" height="12.96" fill="#a5c6ef"/>
<rect x="819.58" y="1167.22" width="18.57" height="12.96" fill="#61aff6"/>
<rect x="838.15" y="1167.22" width="6.19" height="12.96" fill="#2c9cea"/>
<rect x="844.34" y="1167.22" width="30.96" height="12.96" fill="#a5c6ef"/>
<rect x="887.68" y="1167.22" width="12.38" height="12.96" fill="#a5c6ef"/>
<rect x="918.64" y="1167.22" width="6.19" height="12.96" fill="#a5c6ef"/>
<rect x="670.98" y="1180.18" width="6.19" height="12.96" fill="#a5c6ef"/>
<rect x="701.94" y="1180.18" width="6.19" height="12.96" fill="#a5c6ef"/>
<rect x="714.32" y="1180.18" width="12.38" height="12.96" fill="#a5c6ef"/>
<rect x="732.89" y="1180.18" width="86.68" height="12.96" fill="#a5c6ef"/>
<rect x="819.58" y="1180.18" width="6.19" height="12.96" fill="#8cbcf2"/>
<rect x="825.77" y="1180.18" width="12.38" height="12.96" fill="#61aff6"/>
<rect x="838.15" y="1180.18" width="43.34" height="12.96" fill="#8cbcf2"/>
<rect x="881.49" y="1180.18" width="6.19" height="12.96" fill="#a5c6ef"/>
<rect x="893.87" y="1180.18" width="12.38" height="12.96" fill="#a5c6ef"/>
<rect x="912.45" y="1180.18" width="12.38" height="12.96" fill="#a5c6ef"/>
<rect x="664.79" y="1193.13" width="6.19" height="12.96" fill="#a5c6ef"/>
<rect x="726.7" y="1193.13" width="18.57" height="12.96" fill="#a5c6ef"/>
<rect x="751.47" y="1193.13" width="55.72" height="12.96" fill="#a5c6ef"/>
<rect x="807.19" y="1193.13" width="12.38" height="12.96" fill="#8cbcf2"/>
<rect x="819.58" y="1193.13" width="55.72" height="12.96" fill="#a5c6ef"/>
<rect x="875.3" y="1193.13" width="6.19" height="12.96" fill="#61aff6"/>
<rect x="881.49" y="1193.13" width="30.96" height="12.96" fill="#a5c6ef"/>
<rect x="918.64" y="1193.13" width="6.19" height="12.96" fill="#a5c6ef"/>
<rect x="931.02" y="1193.13" width="6.19" height="12.96" fill="#a5c6ef"/>
<rect x="974.36" y="1193.13" width="6.19" height="12.96" fill="#a5c6ef"/>
<rect x="701.94" y="1206.09" width="12.38" height="12.96" fill="#a5c6ef"/>
<rect x="732.89" y="1206.09" width="92.87" height="12.96" fill="#a5c6ef"/>
<rect x="825.77" y="1206.09" width="12.38" height="12.96" fill="#61aff6"/>
<rect x="838.15" y="1206.09" width="49.53" height="12.96" fill="#a5c6ef"/>
<rect x="893.87" y="1206.09" width="6.19" height="12.96" fill="#a5c6ef"/>
<rect x="906.26" y="1206.09" width="24.77" height="12.96" fill="#a5c6ef"/>
<rect x="943.4" y="1206.09" width="6.19" height="12.96" fill="#a5c6ef"/>
<rect x="955.79" y="1206.09" width="6.19" height="12.96" fill="#a5c6ef"/>
<rect x="708.13" y="1219.04" width="18.57" height="12.96" fill="#a5c6ef"/>
<rect x="751.47" y="1219.04" width="24.77" height="12.96" fill="#a5c6ef"/>
<rect x="776.23" y="1219.04" width="18.57" height="12.96" fill="#61aff6"/>
<rect x="794.81" y="1219.04" width="12.38" height="12.96" fill="#a5c6ef"/>
<rect x="807.19" y="1219.04" width="6.19" height="12.96" fill="#2c9cea"/>
<rect x="813.38" y="1219.04" width="6.19" height="12.96" fill="#8cbcf2"/>
<rect x="819.58" y="1219.04" width="12.38" height="12.96" fill="#2c9cea"/>
<rect x="831.96" y="1219.04" width="61.91" height="12.96" fill="#a5c6ef"/>
<rect x="900.06" y="1219.04" width="12.38" height="12.96" fill="#8cbcf2"/>
<rect x="918.64" y="1219.04" width="12.38" height="12.96" fill="#a5c6ef"/>
<rect x="937.21" y="1219.04" width="6.19" height="12.96" fill="#a5c6ef"/>
<rect x="986.74" y="1219.04" width="6.19" height="12.96" fill="#a5c6ef"/>
<rect x="695.75" y="1232" width="12.38" height="12.96" fill="#a5c6ef"/>
<rect x="714.32" y="1232" width="6.19" height="12.96" fill="#a5c6ef"/>
<rect x="732.89" y="1232" width="6.19" height="12.96" fill="#a5c6ef"/>
<rect x="745.28" y="1232" width="12.38" height="12.96" fill="#8cbcf2"/>
<rect x="763.85" y="1232" width="74.3" height="12.96" fill="#8cbcf2"/>
<rect x="838.15" y="1232" width="43.34" height="12.96" fill="#a5c6ef"/>
<rect x="881.49" y="1232" width="6.19" height="12.96" fill="#61aff6"/>
<rect x="887.68" y="1232" width="6.19" height="12.96" fill="#a5c6ef"/>
<rect x="900.06" y="1232" width="6.19" height="12.96" fill="#a5c6ef"/>
<rect x="912.45" y="1232" width="12.38" height="12.96" fill="#a5c6ef"/>
<rect x="943.4" y="1232" width="12.38" height="12.96" fill="#a5c6ef"/>
<rect x="961.98" y="1232" width="6.19" height="12.96" fill="#a5c6ef"/>
<rect x="652.41" y="1244.95" width="6.19" height="12.96" fill="#a5c6ef"/>
<rect x="664.79" y="1244.95" width="12.38" height="12.96" fill="#a5c6ef"/>
<rect x="695.75" y="1244.95" width="12.38" height="12.96" fill="#a5c6ef"/>
<rect x="714.32" y="1244.95" width="6.19" height="12.96" fill="#a5c6ef"/>
<rect x="732.89" y="1244.95" width="18.57" height="12.96" fill="#a5c6ef"/>
<rect x="757.66" y="1244.95" width="43.34" height="12.96" fill="#8cbcf2"/>
<rect x="801" y="1244.95" width="18.57" height="12.96" fill="#61aff6"/>
<rect x="819.58" y="1244.95" width="80.49" height="12.96" fill="#a5c6ef"/>
<rect x="906.26" y="1244.95" width="6.19" height="12.96" fill="#a5c6ef"/>
<rect x="918.64" y="1244.95" width="6.19" height="12.96" fill="#a5c6ef"/>
<rect x="955.79" y="1244.95" width="6.19" height="12.96" fill="#a5c6ef"/>
<rect x="968.17" y="1244.95" width="6.19" height="12.96" fill="#a5c6ef"/>
<rect x="658.6" y="1257.91" width="6.19" height="12.96" fill="#a5c6ef"/>
<rect x="695.75" y="1257.91" width="6.19" height="12.96" fill="#a5c6ef"/>
<rect x="720.51" y="1257.91" width="49.53" height="12.96" fill="#a5c6ef"/>
<rect x="770.04" y="1257.91" width="12.38" height="12.96" fill="#61aff6"/>
<rect x="782.43" y="1257.91" width="18.57" height="12.96" fill="#8cbcf2"/>
<rect x="801" y="1257.91" width="18.57" height="12.96" fill="#61aff6"/>
<rect x="819.58" y="1257.91" width="12.38" height="12.96" fill="#2c9cea"/>
<rect x="831.96" y="1257.91" width="61.91" height="12.96" fill="#a5c6ef"/>
<rect x="900.06" y="1257.91" width="30.96" height="12.96" fill="#a5c6ef"/>
<rect x="949.6" y="1257.91" width="6.19" height="12.96" fill="#a5c6ef"/>
<rect x="974.36" y="1257.91" width="6.19" height="12.96" fill="#a5c6ef"/>
<rect x="664.79" y="1270.86" width="6.19" height="12.96" fill="#a5c6ef"/>
<rect x="708.13" y="1270.86" width="43.34" height="12.96" fill="#a5c6ef"/>
<rect x="751.47" y="1270.86" width="18.57" height="12.96" fill="#8cbcf2"/>
<rect x="770.04" y="1270.86" width="6.19" height="12.96" fill="#2c9cea"/>
<rect x="776.23" y="1270.86" width="6.19" height="12.96" fill="#8cbcf2"/>
<rect x="782.43" y="1270.86" width="30.96" height="12.96" fill="#3577ae"/>
<rect x="813.38" y="1270.86" width="6.19" height="12.96" fill="#3d5a78"/>
<rect x="819.58" y="1270.86" width="18.57" height="12.96" fill="#2c9cea"/>
<rect x="838.15" y="1270.86" width="24.77" height="12.96" fill="#a5c6ef"/>
<rect x="875.3" y="1270.86" width="55.72" height="12.96" fill="#a5c6ef"/>
<rect x="949.6" y="1270.86" width="6.19" height="12.96" fill="#a5c6ef"/>
<rect x="961.98" y="1270.86" width="18.57" height="12.96" fill="#a5c6ef"/>
<rect x="677.17" y="1283.82" width="6.19" height="12.96" fill="#a5c6ef"/>
<rect x="689.55" y="1283.82" width="6.19" height="12.96" fill="#a5c6ef"/>
<rect x="714.32" y="1283.82" width="68.11" height="12.96" fill="#a5c6ef"/>
<rect x="782.43" y="1283.82" width="18.57" height="12.96" fill="#2c9cea"/>
<rect x="801" y="1283.82" width="6.19" height="12.96" fill="#8cbcf2"/>
<rect x="807.19" y="1283.82" width="12.38" height="12.96" fill="#61aff6"/>
<rect x="819.58" y="1283.82" width="12.38" height="12.96" fill="#8cbcf2"/>
<rect x="831.96" y="1283.82" width="49.53" height="12.96" fill="#a5c6ef"/>
<rect x="887.68" y="1283.82" width="6.19" height="12.96" fill="#a5c6ef"/>
<rect x="900.06" y="1283.82" width="30.96" height="12.96" fill="#a5c6ef"/>
<rect x="955.79" y="1283.82" width="6.19" height="12.96" fill="#a5c6ef"/>
<rect x="974.36" y="1283.82" width="6.19" height="12.96" fill="#a5c6ef"/>
<rect x="986.74" y="1283.82" width="6.19" height="12.96" fill="#a5c6ef"/>
<rect x="640.02" y="1296.77" width="6.19" height="12.96" fill="#a5c6ef"/>
<rect x="658.6" y="1296.77" width="6.19" height="12.96" fill="#a5c6ef"/>
<rect x="670.98" y="1296.77" width="12.38" height="12.96" fill="#a5c6ef"/>
<rect x="689.55" y="1296.77" width="6.19" height="12.96" fill="#a5c6ef"/>
<rect x="708.13" y="1296.77" width="61.91" height="12.96" fill="#a5c6ef"/>
<rect x="770.04" y="1296.77" width="30.96" height="12.96" fill="#8cbcf2"/>
<rect x="801" y="1296.77" width="6.19" height="12.96" fill="#61aff6"/>
<rect x="807.19" y="1296.77" width="6.19" height="12.96" fill="#8cbcf2"/>
<rect x="813.38" y="1296.77" width="18.57" height="12.96" fill="#2c9cea"/>
<rect x="831.96" y="1296.77" width="55.72" height="12.96" fill="#a5c6ef"/>
<rect x="893.87" y="1296.77" width="6.19" height="12.96" fill="#a5c6ef"/>
<rect x="906.26" y="1296.77" width="12.38" height="12.96" fill="#a5c6ef"/>
<rect x="955.79" y="1296.77" width="6.19" height="12.96" fill="#a5c6ef"/>
<rect x="974.36" y="1296.77" width="6.19" height="12.96" fill="#a5c6ef"/>
<rect x="1005.32" y="1296.77" width="6.19" height="12.96" fill="#a5c6ef"/>
<rect x="633.83" y="1309.73" width="6.19" height="12.96" fill="#a5c6ef"/>
<rect x="652.41" y="1309.73" width="6.19" height="12.96" fill="#a5c6ef"/>
<rect x="664.79" y="1309.73" width="6.19" height="12.96" fill="#a5c6ef"/>
<rect x="683.36" y="1309.73" width="12.38" height="12.96" fill="#a5c6ef"/>
<rect x="701.94" y="1309.73" width="43.34" height="12.96" fill="#a5c6ef"/>
<rect x="745.28" y="1309.73" width="6.19" height="12.96" fill="#2c9cea"/>
<rect x="751.47" y="1309.73" width="6.19" height="12.96" fill="#8cbcf2"/>
<rect x="757.66" y="1309.73" width="6.19" height="12.96" fill="#61aff6"/>
<rect x="763.85" y="1309.73" width="18.57" height="12.96" fill="#8cbcf2"/>
<rect x="782.43" y="1309.73" width="18.57" height="12.96" fill="#2c9cea"/>
<rect x="801" y="1309.73" width="6.19" height="12.96" fill="#3d5a78"/>
<rect x="807.19" y="1309.73" width="6.19" height="12.96" fill="#3577ae"/>
<rect x="813.38" y="1309.73" width="6.19" height="12.96" fill="#61aff6"/>
<rect x="819.58" y="1309.73" width="6.19" height="12.96" fill="#3577ae"/>
<rect x="825.77" y="1309.73" width="18.57" height="12.96" fill="#2c9cea"/>
<rect x="844.34" y="1309.73" width="74.3" height="12.96" fill="#a5c6ef"/>
<rect x="931.02" y="1309.73" width="12.38" height="12.96" fill="#a5c6ef"/>
<rect x="949.6" y="1309.73" width="12.38" height="12.96" fill="#a5c6ef"/>
<rect x="974.36" y="1309.73" width="6.19" height="12.96" fill="#a5c6ef"/>
<rect x="627.64" y="1322.68" width="6.19" height="12.96" fill="#a5c6ef"/>
<rect x="658.6" y="1322.68" width="37.15" height="12.96" fill="#a5c6ef"/>
<rect x="695.75" y="1322.68" width="6.19" height="12.96" fill="#8cbcf2"/>
<rect x="701.94" y="1322.68" width="61.91" height="12.96" fill="#a5c6ef"/>
<rect x="763.85" y="1322.68" width="55.72" height="12.96" fill="#61aff6"/>
<rect x="819.58" y="1322.68" width="6.19" height="12.96" fill="#2c9cea"/>
<rect x="825.77" y="1322.68" width="18.57" height="12.96" fill="#3577ae"/>
<rect x="844.34" y="1322.68" width="68.11" height="12.96" fill="#8cbcf2"/>
<rect x="912.45" y="1322.68" width="12.38" height="12.96" fill="#a5c6ef"/>
<rect x="924.83" y="1322.68" width="6.19" height="12.96" fill="#8cbcf2"/>
<rect x="943.4" y="1322.68" width="6.19" height="12.96" fill="#a5c6ef"/>
<rect x="961.98" y="1322.68" width="6.19" height="12.96" fill="#a5c6ef"/>
<rect x="992.94" y="1322.68" width="12.38" height="12.96" fill="#a5c6ef"/>
<rect x="646.21" y="1335.64" width="30.96" height="12.96" fill="#a5c6ef"/>
<rect x="677.17" y="1335.64" width="12.38" height="12.96" fill="#61aff6"/>
<rect x="689.55" y="1335.64" width="6.19" height="12.96" fill="#3d5a78"/>
<rect x="695.75" y="1335.64" width="49.53" height="12.96" fill="#8cbcf2"/>
<rect x="745.28" y="1335.64" width="6.19" height="12.96" fill="#2c9cea"/>
<rect x="751.47" y="1335.64" width="30.96" height="12.96" fill="#61aff6"/>
<rect x="782.43" y="1335.64" width="18.57" height="12.96" fill="#2c9cea"/>
<rect x="801" y="1335.64" width="6.19" height="12.96" fill="#3577ae"/>
<rect x="807.19" y="1335.64" width="18.57" height="12.96" fill="#2c9cea"/>
<rect x="825.77" y="1335.64" width="12.38" height="12.96" fill="#3d5a78"/>
<rect x="838.15" y="1335.64" width="24.77" height="12.96" fill="#2c9cea"/>
<rect x="862.92" y="1335.64" width="18.57" height="12.96" fill="#61aff6"/>
<rect x="881.49" y="1335.64" width="43.34" height="12.96" fill="#8cbcf2"/>
<rect x="937.21" y="1335.64" width="12.38" height="12.96" fill="#a5c6ef"/>
<rect x="955.79" y="1335.64" width="18.57" height="12.96" fill="#a5c6ef"/>
<rect x="980.55" y="1335.64" width="6.19" height="12.96" fill="#a5c6ef"/>
<rect x="633.83" y="1348.59" width="6.19" height="12.96" fill="#a5c6ef"/>
<rect x="652.41" y="1348.59" width="24.77" height="12.96" fill="#a5c6ef"/>
<rect x="683.36" y="1348.59" width="6.19" height="12.96" fill="#8cbcf2"/>
<rect x="689.55" y="1348.59" width="6.19" height="12.96" fill="#3577ae"/>
<rect x="695.75" y="1348.59" width="55.72" height="12.96" fill="#a5c6ef"/>
<rect x="751.47" y="1348.59" width="37.15" height="12.96" fill="#2c9cea"/>
<rect x="788.62" y="1348.59" width="30.96" height="12.96" fill="#3577ae"/>
<rect x="819.58" y="1348.59" width="6.19" height="12.96" fill="#2c9cea"/>
<rect x="825.77" y="1348.59" width="18.57" height="12.96" fill="#3577ae"/>
<rect x="844.34" y="1348.59" width="37.15" height="12.96" fill="#2c9cea"/>
<rect x="881.49" y="1348.59" width="6.19" height="12.96" fill="#3577ae"/>
<rect x="887.68" y="1348.59" width="24.77" height="12.96" fill="#8cbcf2"/>
<rect x="912.45" y="1348.59" width="6.19" height="12.96" fill="#3577ae"/>
<rect x="918.64" y="1348.59" width="49.53" height="12.96" fill="#a5c6ef"/>
<rect x="974.36" y="1348.59" width="6.19" height="12.96" fill="#a5c6ef"/>
<rect x="640.02" y="1361.55" width="49.53" height="12.96" fill="#a5c6ef"/>
<rect x="689.55" y="1361.55" width="6.19" height="12.96" fill="#2c9cea"/>
<rect x="695.75" y="1361.55" width="24.77" height="12.96" fill="#8cbcf2"/>
<rect x="720.51" y="1361.55" width="6.19" height="12.96" fill="#3577ae"/>
<rect x="726.7" y="1361.55" width="30.96" height="12.96" fill="#2c9cea"/>
<rect x="757.66" y="1361.55" width="12.38" height="12.96" fill="#3577ae"/>
<rect x="770.04" y="1361.55" width="30.96" height="12.96" fill="#3d5a78"/>
<rect x="801" y="1361.55" width="12.38" height="12.96" fill="#3577ae"/>
<rect x="813.38" y="1361.55" width="18.57" height="12.96" fill="#3d5a78"/>
<rect x="831.96" y="1361.55" width="55.72" height="12.96" fill="#2c9cea"/>
<rect x="887.68" y="1361.55" width="30.96" height="12.96" fill="#8cbcf2"/>
<rect x="918.64" y="1361.55" width="12.38" height="12.96" fill="#a5c6ef"/>
<rect x="627.64" y="1374.5" width="18.57" height="12.96" fill="#a5c6ef"/>
<rect x="664.79" y="1374.5" width="74.3" height="12.96" fill="#a5c6ef"/>
<rect x="739.09" y="1374.5" width="24.77" height="12.96" fill="#2c9cea"/>
<rect x="763.85" y="1374.5" width="61.91" height="12.96" fill="#3d5a78"/>
<rect x="825.77" y="1374.5" width="6.19" height="12.96" fill="#3577ae"/>
<rect x="831.96" y="1374.5" width="18.57" height="12.96" fill="#2c9cea"/>
<rect x="850.53" y="1374.5" width="61.91" height="12.96" fill="#8cbcf2"/>
<rect x="943.4" y="1374.5" width="6.19" height="12.96" fill="#a5c6ef"/>
</g>
<g shape-rendering="crispEdges">
<rect x="281.06" y="1451.79" width="6.2" height="9.14" fill="#a5c6ef"/>
<rect x="336.85" y="1451.79" width="6.2" height="9.14" fill="#a5c6ef"/>
<rect x="355.45" y="1451.79" width="6.2" height="9.14" fill="#61aff6"/>
<rect x="367.85" y="1451.79" width="6.2" height="9.14" fill="#a5c6ef"/>
<rect x="380.25" y="1451.79" width="6.2" height="9.14" fill="#a5c6ef"/>
<rect x="355.45" y="1460.93" width="6.2" height="9.14" fill="#8cbcf2"/>
<rect x="374.05" y="1460.93" width="6.2" height="9.14" fill="#a5c6ef"/>
<rect x="281.06" y="1470.07" width="6.2" height="9.14" fill="#a5c6ef"/>
<rect x="336.85" y="1470.07" width="31" height="9.14" fill="#a5c6ef"/>
<rect x="405.04" y="1470.07" width="6.2" height="9.14" fill="#a5c6ef"/>
<rect x="305.86" y="1479.22" width="6.2" height="9.14" fill="#a5c6ef"/>
<rect x="343.05" y="1479.22" width="6.2" height="9.14" fill="#a5c6ef"/>
<rect x="355.45" y="1479.22" width="6.2" height="9.14" fill="#a5c6ef"/>
<rect x="343.05" y="1488.36" width="12.4" height="9.14" fill="#a5c6ef"/>
<rect x="355.45" y="1488.36" width="6.2" height="9.14" fill="#8cbcf2"/>
<rect x="361.65" y="1488.36" width="12.4" height="9.14" fill="#a5c6ef"/>
<rect x="349.25" y="1497.5" width="6.2" height="9.14" fill="#a5c6ef"/>
<rect x="355.45" y="1497.5" width="6.2" height="9.14" fill="#8cbcf2"/>
<rect x="361.65" y="1497.5" width="6.2" height="9.14" fill="#a5c6ef"/>
<rect x="336.85" y="1506.64" width="18.6" height="9.14" fill="#a5c6ef"/>
<rect x="355.45" y="1506.64" width="6.2" height="9.14" fill="#8cbcf2"/>
<rect x="361.65" y="1506.64" width="12.4" height="9.14" fill="#a5c6ef"/>
<rect x="398.85" y="1506.64" width="6.2" height="9.14" fill="#a5c6ef"/>
<rect x="324.45" y="1515.79" width="6.2" height="9.14" fill="#a5c6ef"/>
<rect x="355.45" y="1515.79" width="6.2" height="9.14" fill="#61aff6"/>
<rect x="361.65" y="1515.79" width="6.2" height="9.14" fill="#a5c6ef"/>
<rect x="405.04" y="1515.79" width="6.2" height="9.14" fill="#a5c6ef"/>
<rect x="336.85" y="1524.93" width="6.2" height="9.14" fill="#a5c6ef"/>
<rect x="349.25" y="1524.93" width="6.2" height="9.14" fill="#a5c6ef"/>
<rect x="355.45" y="1524.93" width="6.2" height="9.14" fill="#61aff6"/>
<rect x="361.65" y="1524.93" width="6.2" height="9.14" fill="#a5c6ef"/>
<rect x="256.26" y="1534.07" width="6.2" height="9.14" fill="#a5c6ef"/>
<rect x="299.66" y="1534.07" width="6.2" height="9.14" fill="#a5c6ef"/>
<rect x="324.45" y="1534.07" width="6.2" height="9.14" fill="#a5c6ef"/>
<rect x="336.85" y="1534.07" width="12.4" height="9.14" fill="#a5c6ef"/>
<rect x="355.45" y="1534.07" width="6.2" height="9.14" fill="#8cbcf2"/>
<rect x="361.65" y="1534.07" width="18.6" height="9.14" fill="#a5c6ef"/>
<rect x="405.04" y="1534.07" width="12.4" height="9.14" fill="#a5c6ef"/>
<rect x="281.06" y="1543.21" width="6.2" height="9.14" fill="#a5c6ef"/>
<rect x="355.45" y="1543.21" width="6.2" height="9.14" fill="#8cbcf2"/>
<rect x="361.65" y="1543.21" width="6.2" height="9.14" fill="#a5c6ef"/>
<rect x="380.25" y="1543.21" width="18.6" height="9.14" fill="#a5c6ef"/>
<rect x="225.26" y="1552.36" width="6.2" height="9.14" fill="#a5c6ef"/>
<rect x="343.05" y="1552.36" width="6.2" height="9.14" fill="#a5c6ef"/>
<rect x="355.45" y="1552.36" width="6.2" height="9.14" fill="#61aff6"/>
<rect x="361.65" y="1552.36" width="12.4" height="9.14" fill="#a5c6ef"/>
<rect x="380.25" y="1552.36" width="6.2" height="9.14" fill="#a5c6ef"/>
<rect x="398.85" y="1552.36" width="6.2" height="9.14" fill="#a5c6ef"/>
<rect x="212.86" y="1561.5" width="6.2" height="9.14" fill="#a5c6ef"/>
<rect x="262.46" y="1561.5" width="6.2" height="9.14" fill="#a5c6ef"/>
<rect x="299.66" y="1561.5" width="6.2" height="9.14" fill="#a5c6ef"/>
<rect x="336.85" y="1561.5" width="18.6" height="9.14" fill="#a5c6ef"/>
<rect x="355.45" y="1561.5" width="6.2" height="9.14" fill="#2c9cea"/>
<rect x="361.65" y="1561.5" width="18.6" height="9.14" fill="#a5c6ef"/>
<rect x="405.04" y="1561.5" width="6.2" height="9.14" fill="#a5c6ef"/>
<rect x="485.64" y="1561.5" width="6.2" height="9.14" fill="#a5c6ef"/>
<rect x="256.26" y="1570.64" width="6.2" height="9.14" fill="#a5c6ef"/>
<rect x="268.66" y="1570.64" width="6.2" height="9.14" fill="#a5c6ef"/>
<rect x="312.05" y="1570.64" width="6.2" height="9.14" fill="#a5c6ef"/>
<rect x="336.85" y="1570.64" width="6.2" height="9.14" fill="#a5c6ef"/>
<rect x="349.25" y="1570.64" width="6.2" height="9.14" fill="#a5c6ef"/>
<rect x="355.45" y="1570.64" width="6.2" height="9.14" fill="#61aff6"/>
<rect x="361.65" y="1570.64" width="12.4" height="9.14" fill="#a5c6ef"/>
<rect x="386.45" y="1570.64" width="12.4" height="9.14" fill="#a5c6ef"/>
<rect x="256.26" y="1579.78" width="6.2" height="9.14" fill="#a5c6ef"/>
<rect x="281.06" y="1579.78" width="12.4" height="9.14" fill="#a5c6ef"/>
<rect x="305.86" y="1579.78" width="12.4" height="9.14" fill="#a5c6ef"/>
<rect x="330.65" y="1579.78" width="6.2" height="9.14" fill="#a5c6ef"/>
<rect x="343.05" y="1579.78" width="12.4" height="9.14" fill="#a5c6ef"/>
<rect x="355.45" y="1579.78" width="6.2" height="9.14" fill="#2c9cea"/>
<rect x="361.65" y="1579.78" width="12.4" height="9.14" fill="#a5c6ef"/>
<rect x="392.65" y="1579.78" width="6.2" height="9.14" fill="#a5c6ef"/>
<rect x="460.84" y="1579.78" width="6.2" height="9.14" fill="#a5c6ef"/>
<rect x="281.06" y="1588.92" width="6.2" height="9.14" fill="#a5c6ef"/>
<rect x="299.66" y="1588.92" width="6.2" height="9.14" fill="#a5c6ef"/>
<rect x="324.45" y="1588.92" width="12.4" height="9.14" fill="#a5c6ef"/>
<rect x="343.05" y="1588.92" width="12.4" height="9.14" fill="#a5c6ef"/>
<rect x="355.45" y="1588.92" width="6.2" height="9.14" fill="#2c9cea"/>
<rect x="361.65" y="1588.92" width="12.4" height="9.14" fill="#a5c6ef"/>
<rect x="473.24" y="1588.92" width="6.2" height="9.14" fill="#a5c6ef"/>
<rect x="324.45" y="1598.07" width="31" height="9.14" fill="#a5c6ef"/>
<rect x="355.45" y="1598.07" width="6.2" height="9.14" fill="#2c9cea"/>
<rect x="361.65" y="1598.07" width="18.6" height="9.14" fill="#a5c6ef"/>
<rect x="392.65" y="1598.07" width="6.2" height="9.14" fill="#a5c6ef"/>
<rect x="293.46" y="1607.21" width="6.2" height="9.14" fill="#a5c6ef"/>
<rect x="324.45" y="1607.21" width="6.2" height="9.14" fill="#a5c6ef"/>
<rect x="336.85" y="1607.21" width="18.6" height="9.14" fill="#a5c6ef"/>
<rect x="355.45" y="1607.21" width="6.2" height="9.14" fill="#2c9cea"/>
<rect x="361.65" y="1607.21" width="31" height="9.14" fill="#a5c6ef"/>
<rect x="398.85" y="1607.21" width="12.4" height="9.14" fill="#a5c6ef"/>
<rect x="243.86" y="1616.35" width="6.2" height="9.14" fill="#a5c6ef"/>
<rect x="268.66" y="1616.35" width="12.4" height="9.14" fill="#a5c6ef"/>
<rect x="293.46" y="1616.35" width="6.2" height="9.14" fill="#a5c6ef"/>
<rect x="305.86" y="1616.35" width="12.4" height="9.14" fill="#a5c6ef"/>
<rect x="330.65" y="1616.35" width="24.8" height="9.14" fill="#a5c6ef"/>
<rect x="355.45" y="1616.35" width="6.2" height="9.14" fill="#2c9cea"/>
<rect x="361.65" y="1616.35" width="12.4" height="9.14" fill="#a5c6ef"/>
<rect x="380.25" y="1616.35" width="12.4" height="9.14" fill="#a5c6ef"/>
<rect x="411.24" y="1616.35" width="6.2" height="9.14" fill="#a5c6ef"/>
<rect x="454.64" y="1616.35" width="6.2" height="9.14" fill="#a5c6ef"/>
<rect x="281.06" y="1625.49" width="37.2" height="9.14" fill="#a5c6ef"/>
<rect x="324.45" y="1625.49" width="24.8" height="9.14" fill="#a5c6ef"/>
<rect x="349.25" y="1625.49" width="6.2" height="9.14" fill="#61aff6"/>
<rect x="355.45" y="1625.49" width="6.2" height="9.14" fill="#3577ae"/>
<rect x="361.65" y="1625.49" width="18.6" height="9.14" fill="#a5c6ef"/>
<rect x="386.45" y="1625.49" width="18.6" height="9.14" fill="#a5c6ef"/>
<rect x="423.64" y="1625.49" width="6.2" height="9.14" fill="#a5c6ef"/>
<rect x="442.24" y="1625.49" width="6.2" height="9.14" fill="#a5c6ef"/>
<rect x="467.04" y="1625.49" width="6.2" height="9.14" fill="#a5c6ef"/>
<rect x="268.66" y="1634.64" width="6.2" height="9.14" fill="#a5c6ef"/>
<rect x="293.46" y="1634.64" width="18.6" height="9.14" fill="#a5c6ef"/>
<rect x="324.45" y="1634.64" width="31" height="9.14" fill="#a5c6ef"/>
<rect x="355.45" y="1634.64" width="6.2" height="9.14" fill="#3577ae"/>
<rect x="361.65" y="1634.64" width="37.2" height="9.14" fill="#a5c6ef"/>
<rect x="417.44" y="1634.64" width="12.4" height="9.14" fill="#a5c6ef"/>
<rect x="436.04" y="1634.64" width="6.2" height="9.14" fill="#a5c6ef"/>
<rect x="256.26" y="1643.78" width="6.2" height="9.14" fill="#a5c6ef"/>
<rect x="268.66" y="1643.78" width="6.2" height="9.14" fill="#a5c6ef"/>
<rect x="299.66" y="1643.78" width="6.2" height="9.14" fill="#a5c6ef"/>
<rect x="318.25" y="1643.78" width="12.4" height="9.14" fill="#a5c6ef"/>
<rect x="336.85" y="1643.78" width="18.6" height="9.14" fill="#a5c6ef"/>
<rect x="355.45" y="1643.78" width="6.2" height="9.14" fill="#3577ae"/>
<rect x="361.65" y="1643.78" width="12.4" height="9.14" fill="#a5c6ef"/>
<rect x="380.25" y="1643.78" width="12.4" height="9.14" fill="#a5c6ef"/>
<rect x="398.85" y="1643.78" width="37.2" height="9.14" fill="#a5c6ef"/>
<rect x="448.44" y="1643.78" width="6.2" height="9.14" fill="#a5c6ef"/>
<rect x="262.46" y="1652.92" width="6.2" height="9.14" fill="#a5c6ef"/>
<rect x="274.86" y="1652.92" width="12.4" height="9.14" fill="#a5c6ef"/>
<rect x="293.46" y="1652.92" width="18.6" height="9.14" fill="#a5c6ef"/>
<rect x="318.25" y="1652.92" width="6.2" height="9.14" fill="#a5c6ef"/>
<rect x="330.65" y="1652.92" width="24.8" height="9.14" fill="#a5c6ef"/>
<rect x="355.45" y="1652.92" width="6.2" height="9.14" fill="#61aff6"/>
<rect x="361.65" y="1652.92" width="68.19" height="9.14" fill="#a5c6ef"/>
<rect x="436.04" y="1652.92" width="6.2" height="9.14" fill="#a5c6ef"/>
<rect x="473.24" y="1652.92" width="6.2" height="9.14" fill="#a5c6ef"/>
<rect x="219.06" y="1662.06" width="6.2" height="9.14" fill="#a5c6ef"/>
<rect x="256.26" y="1662.06" width="6.2" height="9.14" fill="#a5c6ef"/>
<rect x="281.06" y="1662.06" width="6.2" height="9.14" fill="#a5c6ef"/>
<rect x="293.46" y="1662.06" width="61.99" height="9.14" fill="#a5c6ef"/>
<rect x="355.45" y="1662.06" width="6.2" height="9.14" fill="#3577ae"/>
<rect x="361.65" y="1662.06" width="6.2" height="9.14" fill="#a5c6ef"/>
<rect x="367.85" y="1662.06" width="6.2" height="9.14" fill="#61aff6"/>
<rect x="374.05" y="1662.06" width="37.2" height="9.14" fill="#a5c6ef"/>
<rect x="417.44" y="1662.06" width="6.2" height="9.14" fill="#a5c6ef"/>
<rect x="436.04" y="1662.06" width="12.4" height="9.14" fill="#a5c6ef"/>
<rect x="467.04" y="1662.06" width="6.2" height="9.14" fill="#a5c6ef"/>
<rect x="256.26" y="1671.2" width="6.2" height="9.14" fill="#a5c6ef"/>
<rect x="268.66" y="1671.2" width="6.2" height="9.14" fill="#a5c6ef"/>
<rect x="299.66" y="1671.2" width="6.2" height="9.14" fill="#a5c6ef"/>
<rect x="312.05" y="1671.2" width="37.2" height="9.14" fill="#a5c6ef"/>
<rect x="349.25" y="1671.2" width="6.2" height="9.14" fill="#8cbcf2"/>
<rect x="355.45" y="1671.2" width="6.2" height="9.14" fill="#3577ae"/>
<rect x="361.65" y="1671.2" width="18.6" height="9.14" fill="#a5c6ef"/>
<rect x="380.25" y="1671.2" width="6.2" height="9.14" fill="#8cbcf2"/>
<rect x="386.45" y="1671.2" width="12.4" height="9.14" fill="#a5c6ef"/>
<rect x="411.24" y="1671.2" width="6.2" height="9.14" fill="#a5c6ef"/>
<rect x="436.04" y="1671.2" width="6.2" height="9.14" fill="#a5c6ef"/>
<rect x="237.66" y="1680.35" width="6.2" height="9.14" fill="#a5c6ef"/>
<rect x="256.26" y="1680.35" width="6.2" height="9.14" fill="#a5c6ef"/>
<rect x="268.66" y="1680.35" width="12.4" height="9.14" fill="#a5c6ef"/>
<rect x="287.26" y="1680.35" width="6.2" height="9.14" fill="#a5c6ef"/>
<rect x="299.66" y="1680.35" width="24.8" height="9.14" fill="#a5c6ef"/>
<rect x="330.65" y="1680.35" width="24.8" height="9.14" fill="#a5c6ef"/>
<rect x="355.45" y="1680.35" width="6.2" height="9.14" fill="#61aff6"/>
<rect x="361.65" y="1680.35" width="37.2" height="9.14" fill="#a5c6ef"/>
<rect x="405.04" y="1680.35" width="31" height="9.14" fill="#a5c6ef"/>
<rect x="442.24" y="1680.35" width="6.2" height="9.14" fill="#a5c6ef"/>
<rect x="460.84" y="1680.35" width="6.2" height="9.14" fill="#a5c6ef"/>
<rect x="281.06" y="1689.49" width="18.6" height="9.14" fill="#a5c6ef"/>
<rect x="312.05" y="1689.49" width="37.2" height="9.14" fill="#a5c6ef"/>
<rect x="349.25" y="1689.49" width="6.2" height="9.14" fill="#8cbcf2"/>
<rect x="355.45" y="1689.49" width="6.2" height="9.14" fill="#2c9cea"/>
<rect x="361.65" y="1689.49" width="24.8" height="9.14" fill="#a5c6ef"/>
<rect x="392.65" y="1689.49" width="6.2" height="9.14" fill="#a5c6ef"/>
<rect x="405.04" y="1689.49" width="49.59" height="9.14" fill="#a5c6ef"/>
<rect x="460.84" y="1689.49" width="6.2" height="9.14" fill="#a5c6ef"/>
<rect x="479.44" y="1689.49" width="6.2" height="9.14" fill="#a5c6ef"/>
<rect x="250.06" y="1698.63" width="6.2" height="9.14" fill="#a5c6ef"/>
<rect x="262.46" y="1698.63" width="6.2" height="9.14" fill="#a5c6ef"/>
<rect x="274.86" y="1698.63" width="6.2" height="9.14" fill="#a5c6ef"/>
<rect x="287.26" y="1698.63" width="6.2" height="9.14" fill="#a5c6ef"/>
<rect x="299.66" y="1698.63" width="49.59" height="9.14" fill="#a5c6ef"/>
<rect x="349.25" y="1698.63" width="6.2" height="9.14" fill="#8cbcf2"/>
<rect x="355.45" y="1698.63" width="6.2" height="9.14" fill="#61aff6"/>
<rect x="361.65" y="1698.63" width="49.59" height="9.14" fill="#a5c6ef"/>
<rect x="417.44" y="1698.63" width="37.2" height="9.14" fill="#a5c6ef"/>
<rect x="460.84" y="1698.63" width="12.4" height="9.14" fill="#a5c6ef"/>
<rect x="231.46" y="1707.77" width="6.2" height="9.14" fill="#a5c6ef"/>
<rect x="250.06" y="1707.77" width="12.4" height="9.14" fill="#a5c6ef"/>
<rect x="268.66" y="1707.77" width="18.6" height="9.14" fill="#a5c6ef"/>
<rect x="293.46" y="1707.77" width="12.4" height="9.14" fill="#a5c6ef"/>
<rect x="305.86" y="1707.77" width="6.2" height="9.14" fill="#2c9cea"/>
<rect x="312.05" y="1707.77" width="37.2" height="9.14" fill="#a5c6ef"/>
<rect x="349.25" y="1707.77" width="6.2" height="9.14" fill="#8cbcf2"/>
<rect x="355.45" y="1707.77" width="6.2" height="9.14" fill="#61aff6"/>
<rect x="361.65" y="1707.77" width="6.2" height="9.14" fill="#a5c6ef"/>
<rect x="374.05" y="1707.77" width="18.6" height="9.14" fill="#a5c6ef"/>
<rect x="398.85" y="1707.77" width="24.8" height="9.14" fill="#a5c6ef"/>
<rect x="436.04" y="1707.77" width="6.2" height="9.14" fill="#a5c6ef"/>
<rect x="448.44" y="1707.77" width="6.2" height="9.14" fill="#a5c6ef"/>
<rect x="460.84" y="1707.77" width="6.2" height="9.14" fill="#a5c6ef"/>
<rect x="491.84" y="1707.77" width="6.2" height="9.14" fill="#a5c6ef"/>
<rect x="231.46" y="1716.92" width="18.6" height="9.14" fill="#a5c6ef"/>
<rect x="256.26" y="1716.92" width="6.2" height="9.14" fill="#a5c6ef"/>
<rect x="268.66" y="1716.92" width="74.39" height="9.14" fill="#a5c6ef"/>
<rect x="343.05" y="1716.92" width="12.4" height="9.14" fill="#8cbcf2"/>
<rect x="355.45" y="1716.92" width="6.2" height="9.14" fill="#61aff6"/>
<rect x="361.65" y="1716.92" width="55.79" height="9.14" fill="#a5c6ef"/>
<rect x="423.64" y="1716.92" width="6.2" height="9.14" fill="#a5c6ef"/>
<rect x="436.04" y="1716.92" width="18.6" height="9.14" fill="#a5c6ef"/>
<rect x="460.84" y="1716.92" width="6.2" height="9.14" fill="#a5c6ef"/>
<rect x="479.44" y="1716.92" width="6.2" height="9.14" fill="#a5c6ef"/>
<rect x="498.04" y="1716.92" width="6.2" height="9.14" fill="#a5c6ef"/>
<rect x="219.06" y="1726.06" width="12.4" height="9.14" fill="#a5c6ef"/>
<rect x="237.66" y="1726.06" width="31" height="9.14" fill="#a5c6ef"/>
<rect x="274.86" y="1726.06" width="24.8" height="9.14" fill="#a5c6ef"/>
<rect x="299.66" y="1726.06" width="6.2" height="9.14" fill="#61aff6"/>
<rect x="305.86" y="1726.06" width="18.6" height="9.14" fill="#a5c6ef"/>
<rect x="324.45" y="1726.06" width="37.2" height="9.14" fill="#8cbcf2"/>
<rect x="361.65" y="1726.06" width="31" height="9.14" fill="#a5c6ef"/>
<rect x="398.85" y="1726.06" width="12.4" height="9.14" fill="#a5c6ef"/>
<rect x="417.44" y="1726.06" width="6.2" height="9.14" fill="#a5c6ef"/>
<rect x="429.84" y="1726.06" width="6.2" height="9.14" fill="#a5c6ef"/>
<rect x="473.24" y="1726.06" width="6.2" height="9.14" fill="#a5c6ef"/>
<rect x="485.64" y="1726.06" width="6.2" height="9.14" fill="#a5c6ef"/>
<rect x="498.04" y="1726.06" width="6.2" height="9.14" fill="#a5c6ef"/>
<rect x="225.26" y="1735.2" width="24.8" height="9.14" fill="#a5c6ef"/>
<rect x="250.06" y="1735.2" width="6.2" height="9.14" fill="#8cbcf2"/>
<rect x="256.26" y="1735.2" width="68.19" height="9.14" fill="#a5c6ef"/>
<rect x="324.45" y="1735.2" width="6.2" height="9.14" fill="#8cbcf2"/>
<rect x="330.65" y="1735.2" width="12.4" height="9.14" fill="#a5c6ef"/>
<rect x="343.05" y="1735.2" width="6.2" height="9.14" fill="#3577ae"/>
<rect x="349.25" y="1735.2" width="6.2" height="9.14" fill="#8cbcf2"/>
<rect x="355.45" y="1735.2" width="12.4" height="9.14" fill="#2c9cea"/>
<rect x="367.85" y="1735.2" width="68.19" height="9.14" fill="#a5c6ef"/>
<rect x="442.24" y="1735.2" width="6.2" height="9.14" fill="#a5c6ef"/>
<rect x="454.64" y="1735.2" width="12.4" height="9.14" fill="#a5c6ef"/>
<rect x="479.44" y="1735.2" width="6.2" height="9.14" fill="#a5c6ef"/>
<rect x="219.06" y="1744.34" width="18.6" height="9.14" fill="#a5c6ef"/>
<rect x="256.26" y="1744.34" width="68.19" height="9.14" fill="#a5c6ef"/>
<rect x="324.45" y="1744.34" width="6.2" height="9.14" fill="#61aff6"/>
<rect x="330.65" y="1744.34" width="12.4" height="9.14" fill="#8cbcf2"/>
<rect x="343.05" y="1744.34" width="6.2" height="9.14" fill="#61aff6"/>
<rect x="349.25" y="1744.34" width="6.2" height="9.14" fill="#8cbcf2"/>
<rect x="355.45" y="1744.34" width="6.2" height="9.14" fill="#61aff6"/>
<rect x="361.65" y="1744.34" width="55.79" height="9.14" fill="#a5c6ef"/>
<rect x="423.64" y="1744.34" width="6.2" height="9.14" fill="#a5c6ef"/>
<rect x="436.04" y="1744.34" width="12.4" height="9.14" fill="#a5c6ef"/>
<rect x="460.84" y="1744.34" width="6.2" height="9.14" fill="#a5c6ef"/>
<rect x="473.24" y="1744.34" width="12.4" height="9.14" fill="#a5c6ef"/>
<rect x="504.23" y="1744.34" width="6.2" height="9.14" fill="#a5c6ef"/>
<rect x="219.06" y="1753.48" width="37.2" height="9.14" fill="#a5c6ef"/>
<rect x="268.66" y="1753.48" width="12.4" height="9.14" fill="#a5c6ef"/>
<rect x="281.06" y="1753.48" width="6.2" height="9.14" fill="#8cbcf2"/>
<rect x="287.26" y="1753.48" width="68.19" height="9.14" fill="#a5c6ef"/>
<rect x="355.45" y="1753.48" width="6.2" height="9.14" fill="#8cbcf2"/>
<rect x="361.65" y="1753.48" width="68.19" height="9.14" fill="#a5c6ef"/>
<rect x="436.04" y="1753.48" width="18.6" height="9.14" fill="#a5c6ef"/>
<rect x="460.84" y="1753.48" width="12.4" height="9.14" fill="#a5c6ef"/>
<rect x="225.26" y="1762.63" width="31" height="9.14" fill="#a5c6ef"/>
<rect x="262.46" y="1762.63" width="6.2" height="9.14" fill="#a5c6ef"/>
<rect x="274.86" y="1762.63" width="31" height="9.14" fill="#a5c6ef"/>
<rect x="305.86" y="1762.63" width="12.4" height="9.14" fill="#61aff6"/>
<rect x="318.25" y="1762.63" width="31" height="9.14" fill="#8cbcf2"/>
<rect x="349.25" y="1762.63" width="12.4" height="9.14" fill="#61aff6"/>
<rect x="361.65" y="1762.63" width="80.59" height="9.14" fill="#a5c6ef"/>
<rect x="448.44" y="1762.63" width="18.6" height="9.14" fill="#a5c6ef"/>
<rect x="498.04" y="1762.63" width="6.2" height="9.14" fill="#a5c6ef"/>
<rect x="510.43" y="1762.63" width="6.2" height="9.14" fill="#a5c6ef"/>
<rect x="212.86" y="1771.77" width="18.6" height="9.14" fill="#a5c6ef"/>
<rect x="256.26" y="1771.77" width="6.2" height="9.14" fill="#a5c6ef"/>
<rect x="268.66" y="1771.77" width="43.4" height="9.14" fill="#a5c6ef"/>
<rect x="312.05" y="1771.77" width="6.2" height="9.14" fill="#61aff6"/>
<rect x="318.25" y="1771.77" width="37.2" height="9.14" fill="#8cbcf2"/>
<rect x="355.45" y="1771.77" width="6.2" height="9.14" fill="#61aff6"/>
<rect x="361.65" y="1771.77" width="86.79" height="9.14" fill="#a5c6ef"/>
<rect x="454.64" y="1771.77" width="6.2" height="9.14" fill="#a5c6ef"/>
<rect x="467.04" y="1771.77" width="24.8" height="9.14" fill="#a5c6ef"/>
<rect x="504.23" y="1771.77" width="6.2" height="9.14" fill="#a5c6ef"/>
<rect x="516.63" y="1771.77" width="6.2" height="9.14" fill="#a5c6ef"/>
<rect x="175.67" y="1780.91" width="6.2" height="9.14" fill="#a5c6ef"/>
<rect x="231.46" y="1780.91" width="6.2" height="9.14" fill="#a5c6ef"/>
<rect x="243.86" y="1780.91" width="12.4" height="9.14" fill="#a5c6ef"/>
<rect x="256.26" y="1780.91" width="6.2" height="9.14" fill="#61aff6"/>
<rect x="262.46" y="1780.91" width="61.99" height="9.14" fill="#8cbcf2"/>
<rect x="324.45" y="1780.91" width="31" height="9.14" fill="#61aff6"/>
<rect x="355.45" y="1780.91" width="6.2" height="9.14" fill="#3577ae"/>
<rect x="361.65" y="1780.91" width="18.6" height="9.14" fill="#2c9cea"/>
<rect x="380.25" y="1780.91" width="68.19" height="9.14" fill="#a5c6ef"/>
<rect x="454.64" y="1780.91" width="12.4" height="9.14" fill="#a5c6ef"/>
<rect x="473.24" y="1780.91" width="37.2" height="9.14" fill="#a5c6ef"/>
<rect x="522.83" y="1780.91" width="6.2" height="9.14" fill="#a5c6ef"/>
<rect x="194.27" y="1790.05" width="6.2" height="9.14" fill="#a5c6ef"/>
<rect x="219.06" y="1790.05" width="6.2" height="9.14" fill="#a5c6ef"/>
<rect x="250.06" y="1790.05" width="49.59" height="9.14" fill="#a5c6ef"/>
<rect x="299.66" y="1790.05" width="12.4" height="9.14" fill="#61aff6"/>
<rect x="312.05" y="1790.05" width="6.2" height="9.14" fill="#2c9cea"/>
<rect x="318.25" y="1790.05" width="43.4" height="9.14" fill="#61aff6"/>
<rect x="361.65" y="1790.05" width="6.2" height="9.14" fill="#8cbcf2"/>
<rect x="367.85" y="1790.05" width="12.4" height="9.14" fill="#61aff6"/>
<rect x="380.25" y="1790.05" width="6.2" height="9.14" fill="#2c9cea"/>
<rect x="386.45" y="1790.05" width="99.19" height="9.14" fill="#a5c6ef"/>
<rect x="491.84" y="1790.05" width="31" height="9.14" fill="#a5c6ef"/>
<rect x="194.27" y="1799.2" width="24.8" height="9.14" fill="#a5c6ef"/>
<rect x="231.46" y="1799.2" width="61.99" height="9.14" fill="#a5c6ef"/>
<rect x="293.46" y="1799.2" width="37.2" height="9.14" fill="#8cbcf2"/>
<rect x="330.65" y="1799.2" width="24.8" height="9.14" fill="#61aff6"/>
<rect x="355.45" y="1799.2" width="6.2" height="9.14" fill="#2c9cea"/>
<rect x="361.65" y="1799.2" width="12.4" height="9.14" fill="#61aff6"/>
<rect x="374.05" y="1799.2" width="117.79" height="9.14" fill="#a5c6ef"/>
<rect x="498.04" y="1799.2" width="18.6" height="9.14" fill="#a5c6ef"/>
<rect x="535.23" y="1799.2" width="12.4" height="9.14" fill="#a5c6ef"/>
<rect x="169.47" y="1808.34" width="6.2" height="9.14" fill="#a5c6ef"/>
<rect x="206.67" y="1808.34" width="31" height="9.14" fill="#a5c6ef"/>
<rect x="243.86" y="1808.34" width="18.6" height="9.14" fill="#a5c6ef"/>
<rect x="262.46" y="1808.34" width="6.2" height="9.14" fill="#8cbcf2"/>
<rect x="268.66" y="1808.34" width="24.8" height="9.14" fill="#a5c6ef"/>
<rect x="293.46" y="1808.34" width="61.99" height="9.14" fill="#61aff6"/>
<rect x="355.45" y="1808.34" width="6.2" height="9.14" fill="#3577ae"/>
<rect x="361.65" y="1808.34" width="24.8" height="9.14" fill="#2c9cea"/>
<rect x="386.45" y="1808.34" width="6.2" height="9.14" fill="#a5c6ef"/>
<rect x="392.65" y="1808.34" width="24.8" height="9.14" fill="#61aff6"/>
<rect x="417.44" y="1808.34" width="43.4" height="9.14" fill="#8cbcf2"/>
<rect x="467.04" y="1808.34" width="43.4" height="9.14" fill="#a5c6ef"/>
<rect x="522.83" y="1808.34" width="6.2" height="9.14" fill="#a5c6ef"/>
<rect x="163.27" y="1817.48" width="43.4" height="9.14" fill="#a5c6ef"/>
<rect x="212.86" y="1817.48" width="49.59" height="9.14" fill="#a5c6ef"/>
<rect x="262.46" y="1817.48" width="6.2" height="9.14" fill="#61aff6"/>
<rect x="268.66" y="1817.48" width="24.8" height="9.14" fill="#8cbcf2"/>
<rect x="293.46" y="1817.48" width="49.59" height="9.14" fill="#2c9cea"/>
<rect x="343.05" y="1817.48" width="6.2" height="9.14" fill="#3577ae"/>
<rect x="349.25" y="1817.48" width="6.2" height="9.14" fill="#2c9cea"/>
<rect x="355.45" y="1817.48" width="6.2" height="9.14" fill="#3577ae"/>
<rect x="361.65" y="1817.48" width="37.2" height="9.14" fill="#2c9cea"/>
<rect x="398.85" y="1817.48" width="12.4" height="9.14" fill="#3577ae"/>
<rect x="411.24" y="1817.48" width="37.2" height="9.14" fill="#61aff6"/>
<rect x="448.44" y="1817.48" width="31" height="9.14" fill="#a5c6ef"/>
<rect x="485.64" y="1817.48" width="24.8" height="9.14" fill="#a5c6ef"/>
<rect x="529.03" y="1817.48" width="6.2" height="9.14" fill="#a5c6ef"/>
<rect x="541.43" y="1817.48" width="6.2" height="9.14" fill="#a5c6ef"/>
<rect x="163.27" y="1826.62" width="12.4" height="9.14" fill="#a5c6ef"/>
<rect x="181.87" y="1826.62" width="12.4" height="9.14" fill="#a5c6ef"/>
<rect x="200.47" y="1826.62" width="37.2" height="9.14" fill="#a5c6ef"/>
<rect x="237.66" y="1826.62" width="12.4" height="9.14" fill="#61aff6"/>
<rect x="250.06" y="1826.62" width="43.4" height="9.14" fill="#8cbcf2"/>
<rect x="293.46" y="1826.62" width="49.59" height="9.14" fill="#2c9cea"/>
<rect x="343.05" y="1826.62" width="6.2" height="9.14" fill="#3577ae"/>
<rect x="349.25" y="1826.62" width="6.2" height="9.14" fill="#2c9cea"/>
<rect x="355.45" y="1826.62" width="6.2" height="9.14" fill="#3d5a78"/>
<rect x="361.65" y="1826.62" width="43.4" height="9.14" fill="#2c9cea"/>
<rect x="405.04" y="1826.62" width="18.6" height="9.14" fill="#61aff6"/>
<rect x="423.64" y="1826.62" width="12.4" height="9.14" fill="#2c9cea"/>
<rect x="436.04" y="1826.62" width="12.4" height="9.14" fill="#61aff6"/>
<rect x="448.44" y="1826.62" width="6.2" height="9.14" fill="#3577ae"/>
<rect x="454.64" y="1826.62" width="37.2" height="9.14" fill="#a5c6ef"/>
<rect x="498.04" y="1826.62" width="18.6" height="9.14" fill="#a5c6ef"/>
<rect x="535.23" y="1826.62" width="12.4" height="9.14" fill="#a5c6ef"/>
<rect x="163.27" y="1835.77" width="12.4" height="9.14" fill="#a5c6ef"/>
<rect x="175.67" y="1835.77" width="6.2" height="9.14" fill="#61aff6"/>
<rect x="181.87" y="1835.77" width="43.4" height="9.14" fill="#a5c6ef"/>
<rect x="225.26" y="1835.77" width="61.99" height="9.14" fill="#8cbcf2"/>
<rect x="287.26" y="1835.77" width="12.4" height="9.14" fill="#2c9cea"/>
<rect x="299.66" y="1835.77" width="12.4" height="9.14" fill="#3d5a78"/>
<rect x="312.05" y="1835.77" width="49.59" height="9.14" fill="#3577ae"/>
<rect x="361.65" y="1835.77" width="37.2" height="9.14" fill="#3d5a78"/>
<rect x="398.85" y="1835.77" width="12.4" height="9.14" fill="#3577ae"/>
<rect x="411.24" y="1835.77" width="18.6" height="9.14" fill="#2c9cea"/>
<rect x="429.84" y="1835.77" width="31" height="9.14" fill="#8cbcf2"/>
<rect x="473.24" y="1835.77" width="24.8" height="9.14" fill="#a5c6ef"/>
<rect x="504.23" y="1835.77" width="12.4" height="9.14" fill="#a5c6ef"/>
<rect x="522.83" y="1835.77" width="6.2" height="9.14" fill="#a5c6ef"/>
<rect x="541.43" y="1835.77" width="6.2" height="9.14" fill="#a5c6ef"/>
<rect x="163.27" y="1844.91" width="31" height="9.14" fill="#a5c6ef"/>
<rect x="200.47" y="1844.91" width="6.2" height="9.14" fill="#a5c6ef"/>
<rect x="212.86" y="1844.91" width="18.6" height="9.14" fill="#a5c6ef"/>
<rect x="237.66" y="1844.91" width="49.59" height="9.14" fill="#a5c6ef"/>
<rect x="287.26" y="1844.91" width="68.19" height="9.14" fill="#2c9cea"/>
<rect x="355.45" y="1844.91" width="43.4" height="9.14" fill="#3577ae"/>
<rect x="398.85" y="1844.91" width="49.59" height="9.14" fill="#61aff6"/>
<rect x="448.44" y="1844.91" width="49.59" height="9.14" fill="#a5c6ef"/>
<rect x="510.43" y="1844.91" width="6.2" height="9.14" fill="#a5c6ef"/>
</g>
<g shape-rendering="crispEdges">
<rect x="831.96" y="1451.79" width="6.19" height="9.14" fill="#61aff6"/>
<rect x="825.77" y="1460.93" width="18.57" height="9.14" fill="#a5c6ef"/>
<rect x="819.58" y="1470.07" width="12.38" height="9.14" fill="#a5c6ef"/>
<rect x="831.96" y="1470.07" width="6.19" height="9.14" fill="#8cbcf2"/>
<rect x="838.15" y="1470.07" width="12.38" height="9.14" fill="#a5c6ef"/>
<rect x="813.38" y="1479.22" width="24.77" height="9.14" fill="#a5c6ef"/>
<rect x="844.34" y="1479.22" width="6.19" height="9.14" fill="#a5c6ef"/>
<rect x="807.19" y="1488.36" width="6.19" height="9.14" fill="#a5c6ef"/>
<rect x="819.58" y="1488.36" width="12.38" height="9.14" fill="#a5c6ef"/>
<rect x="838.15" y="1488.36" width="6.19" height="9.14" fill="#a5c6ef"/>
<rect x="850.53" y="1488.36" width="12.38" height="9.14" fill="#a5c6ef"/>
<rect x="807.19" y="1497.5" width="6.19" height="9.14" fill="#a5c6ef"/>
<rect x="819.58" y="1497.5" width="6.19" height="9.14" fill="#a5c6ef"/>
<rect x="831.96" y="1497.5" width="12.38" height="9.14" fill="#a5c6ef"/>
<rect x="856.72" y="1497.5" width="6.19" height="9.14" fill="#a5c6ef"/>
<rect x="794.81" y="1506.64" width="30.96" height="9.14" fill="#a5c6ef"/>
<rect x="831.96" y="1506.64" width="24.77" height="9.14" fill="#a5c6ef"/>
<rect x="862.92" y="1506.64" width="6.19" height="9.14" fill="#a5c6ef"/>
<rect x="794.81" y="1515.79" width="6.19" height="9.14" fill="#a5c6ef"/>
<rect x="807.19" y="1515.79" width="30.96" height="9.14" fill="#a5c6ef"/>
<rect x="850.53" y="1515.79" width="6.19" height="9.14" fill="#a5c6ef"/>
<rect x="862.92" y="1515.79" width="6.19" height="9.14" fill="#a5c6ef"/>
<rect x="788.62" y="1524.93" width="12.38" height="9.14" fill="#a5c6ef"/>
<rect x="807.19" y="1524.93" width="6.19" height="9.14" fill="#a5c6ef"/>
<rect x="819.58" y="1524.93" width="12.38" height="9.14" fill="#a5c6ef"/>
<rect x="838.15" y="1524.93" width="6.19" height="9.14" fill="#a5c6ef"/>
<rect x="850.53" y="1524.93" width="12.38" height="9.14" fill="#a5c6ef"/>
<rect x="788.62" y="1534.07" width="12.38" height="9.14" fill="#a5c6ef"/>
<rect x="807.19" y="1534.07" width="6.19" height="9.14" fill="#a5c6ef"/>
<rect x="819.58" y="1534.07" width="24.77" height="9.14" fill="#a5c6ef"/>
<rect x="850.53" y="1534.07" width="6.19" height="9.14" fill="#a5c6ef"/>
<rect x="869.11" y="1534.07" width="12.38" height="9.14" fill="#a5c6ef"/>
<rect x="807.19" y="1543.21" width="12.38" height="9.14" fill="#a5c6ef"/>
<rect x="831.96" y="1543.21" width="12.38" height="9.14" fill="#a5c6ef"/>
<rect x="875.3" y="1543.21" width="6.19" height="9.14" fill="#a5c6ef"/>
<rect x="782.43" y="1552.36" width="6.19" height="9.14" fill="#a5c6ef"/>
<rect x="794.81" y="1552.36" width="12.38" height="9.14" fill="#a5c6ef"/>
<rect x="813.38" y="1552.36" width="37.15" height="9.14" fill="#a5c6ef"/>
<rect x="869.11" y="1552.36" width="6.19" height="9.14" fill="#a5c6ef"/>
<rect x="770.04" y="1561.5" width="18.57" height="9.14" fill="#a5c6ef"/>
<rect x="794.81" y="1561.5" width="12.38" height="9.14" fill="#a5c6ef"/>
<rect x="813.38" y="1561.5" width="30.96" height="9.14" fill="#a5c6ef"/>
<rect x="850.53" y="1561.5" width="12.38" height="9.14" fill="#a5c6ef"/>
<rect x="869.11" y="1561.5" width="6.19" height="9.14" fill="#a5c6ef"/>
<rect x="763.85" y="1570.64" width="24.77" height="9.14" fill="#a5c6ef"/>
<rect x="794.81" y="1570.64" width="12.38" height="9.14" fill="#a5c6ef"/>
<rect x="819.58" y="1570.64" width="18.57" height="9.14" fill="#a5c6ef"/>
<rect x="844.34" y="1570.64" width="6.19" height="9.14" fill="#a5c6ef"/>
<rect x="856.72" y="1570.64" width="6.19" height="9.14" fill="#a5c6ef"/>
<rect x="757.66" y="1579.78" width="18.57" height="9.14" fill="#a5c6ef"/>
<rect x="788.62" y="1579.78" width="6.19" height="9.14" fill="#a5c6ef"/>
<rect x="801" y="1579.78" width="43.34" height="9.14" fill="#a5c6ef"/>
<rect x="850.53" y="1579.78" width="6.19" height="9.14" fill="#a5c6ef"/>
<rect x="881.49" y="1579.78" width="6.19" height="9.14" fill="#a5c6ef"/>
<rect x="900.06" y="1579.78" width="6.19" height="9.14" fill="#a5c6ef"/>
<rect x="757.66" y="1588.92" width="24.77" height="9.14" fill="#a5c6ef"/>
<rect x="788.62" y="1588.92" width="6.19" height="9.14" fill="#a5c6ef"/>
<rect x="813.38" y="1588.92" width="30.96" height="9.14" fill="#a5c6ef"/>
<rect x="850.53" y="1588.92" width="6.19" height="9.14" fill="#a5c6ef"/>
<rect x="869.11" y="1588.92" width="6.19" height="9.14" fill="#a5c6ef"/>
<rect x="900.06" y="1588.92" width="6.19" height="9.14" fill="#a5c6ef"/>
<rect x="751.47" y="1598.07" width="30.96" height="9.14" fill="#a5c6ef"/>
<rect x="794.81" y="1598.07" width="55.72" height="9.14" fill="#a5c6ef"/>
<rect x="856.72" y="1598.07" width="12.38" height="9.14" fill="#a5c6ef"/>
<rect x="881.49" y="1598.07" width="6.19" height="9.14" fill="#a5c6ef"/>
<rect x="900.06" y="1598.07" width="6.19" height="9.14" fill="#a5c6ef"/>
<rect x="745.28" y="1607.21" width="43.34" height="9.14" fill="#a5c6ef"/>
<rect x="794.81" y="1607.21" width="6.19" height="9.14" fill="#a5c6ef"/>
<rect x="807.19" y="1607.21" width="49.53" height="9.14" fill="#a5c6ef"/>
<rect x="912.45" y="1607.21" width="6.19" height="9.14" fill="#a5c6ef"/>
<rect x="739.09" y="1616.35" width="49.53" height="9.14" fill="#a5c6ef"/>
<rect x="794.81" y="1616.35" width="49.53" height="9.14" fill="#a5c6ef"/>
<rect x="856.72" y="1616.35" width="6.19" height="9.14" fill="#a5c6ef"/>
<rect x="881.49" y="1616.35" width="12.38" height="9.14" fill="#a5c6ef"/>
<rect x="918.64" y="1616.35" width="6.19" height="9.14" fill="#a5c6ef"/>
<rect x="732.89" y="1625.49" width="43.34" height="9.14" fill="#a5c6ef"/>
<rect x="782.43" y="1625.49" width="49.53" height="9.14" fill="#a5c6ef"/>
<rect x="831.96" y="1625.49" width="6.19" height="9.14" fill="#8cbcf2"/>
<rect x="838.15" y="1625.49" width="55.72" height="9.14" fill="#a5c6ef"/>
<rect x="912.45" y="1625.49" width="6.19" height="9.14" fill="#a5c6ef"/>
<rect x="924.83" y="1625.49" width="6.19" height="9.14" fill="#a5c6ef"/>
<rect x="732.89" y="1634.64" width="43.34" height="9.14" fill="#a5c6ef"/>
<rect x="801" y="1634.64" width="55.72" height="9.14" fill="#a5c6ef"/>
<rect x="862.92" y="1634.64" width="12.38" height="9.14" fill="#a5c6ef"/>
<rect x="918.64" y="1634.64" width="6.19" height="9.14" fill="#a5c6ef"/>
<rect x="931.02" y="1634.64" width="6.19" height="9.14" fill="#a5c6ef"/>
<rect x="726.7" y="1643.78" width="74.3" height="9.14" fill="#a5c6ef"/>
<rect x="807.19" y="1643.78" width="43.34" height="9.14" fill="#a5c6ef"/>
<rect x="856.72" y="1643.78" width="24.77" height="9.14" fill="#a5c6ef"/>
<rect x="906.26" y="1643.78" width="6.19" height="9.14" fill="#a5c6ef"/>
<rect x="931.02" y="1643.78" width="6.19" height="9.14" fill="#a5c6ef"/>
<rect x="720.51" y="1652.92" width="130.02" height="9.14" fill="#a5c6ef"/>
<rect x="856.72" y="1652.92" width="6.19" height="9.14" fill="#a5c6ef"/>
<rect x="875.3" y="1652.92" width="24.77" height="9.14" fill="#a5c6ef"/>
<rect x="912.45" y="1652.92" width="6.19" height="9.14" fill="#a5c6ef"/>
<rect x="937.21" y="1652.92" width="6.19" height="9.14" fill="#a5c6ef"/>
<rect x="714.32" y="1662.06" width="24.77" height="9.14" fill="#a5c6ef"/>
<rect x="751.47" y="1662.06" width="68.11" height="9.14" fill="#a5c6ef"/>
<rect x="819.58" y="1662.06" width="6.19" height="9.14" fill="#8cbcf2"/>
<rect x="825.77" y="1662.06" width="12.38" height="9.14" fill="#61aff6"/>
<rect x="838.15" y="1662.06" width="24.77" height="9.14" fill="#a5c6ef"/>
<rect x="869.11" y="1662.06" width="18.57" height="9.14" fill="#a5c6ef"/>
<rect x="900.06" y="1662.06" width="6.19" height="9.14" fill="#a5c6ef"/>
<rect x="918.64" y="1662.06" width="12.38" height="9.14" fill="#a5c6ef"/>
<rect x="937.21" y="1662.06" width="6.19" height="9.14" fill="#a5c6ef"/>
<rect x="714.32" y="1671.2" width="6.19" height="9.14" fill="#a5c6ef"/>
<rect x="732.89" y="1671.2" width="6.19" height="9.14" fill="#a5c6ef"/>
<rect x="751.47" y="1671.2" width="18.57" height="9.14" fill="#a5c6ef"/>
<rect x="776.23" y="1671.2" width="86.68" height="9.14" fill="#a5c6ef"/>
<rect x="869.11" y="1671.2" width="18.57" height="9.14" fill="#a5c6ef"/>
<rect x="893.87" y="1671.2" width="6.19" height="9.14" fill="#a5c6ef"/>
<rect x="906.26" y="1671.2" width="6.19" height="9.14" fill="#a5c6ef"/>
<rect x="708.13" y="1680.35" width="6.19" height="9.14" fill="#a5c6ef"/>
<rect x="720.51" y="1680.35" width="24.77" height="9.14" fill="#a5c6ef"/>
<rect x="757.66" y="1680.35" width="6.19" height="9.14" fill="#a5c6ef"/>
<rect x="770.04" y="1680.35" width="99.06" height="9.14" fill="#a5c6ef"/>
<rect x="887.68" y="1680.35" width="6.19" height="9.14" fill="#a5c6ef"/>
<rect x="900.06" y="1680.35" width="6.19" height="9.14" fill="#a5c6ef"/>
<rect x="912.45" y="1680.35" width="6.19" height="9.14" fill="#a5c6ef"/>
<rect x="701.94" y="1689.49" width="18.57" height="9.14" fill="#a5c6ef"/>
<rect x="726.7" y="1689.49" width="6.19" height="9.14" fill="#a5c6ef"/>
<rect x="739.09" y="1689.49" width="130.02" height="9.14" fill="#a5c6ef"/>
<rect x="875.3" y="1689.49" width="6.19" height="9.14" fill="#a5c6ef"/>
<rect x="887.68" y="1689.49" width="24.77" height="9.14" fill="#a5c6ef"/>
<rect x="937.21" y="1689.49" width="6.19" height="9.14" fill="#a5c6ef"/>
<rect x="701.94" y="1698.63" width="18.57" height="9.14" fill="#a5c6ef"/>
<rect x="726.7" y="1698.63" width="6.19" height="9.14" fill="#a5c6ef"/>
<rect x="739.09" y="1698.63" width="80.49" height="9.14" fill="#a5c6ef"/>
<rect x="819.58" y="1698.63" width="6.19" height="9.14" fill="#61aff6"/>
<rect x="825.77" y="1698.63" width="68.11" height="9.14" fill="#a5c6ef"/>
<rect x="906.26" y="1698.63" width="6.19" height="9.14" fill="#a5c6ef"/>
<rect x="949.6" y="1698.63" width="12.38" height="9.14" fill="#a5c6ef"/>
<rect x="695.75" y="1707.77" width="6.19" height="9.14" fill="#a5c6ef"/>
<rect x="708.13" y="1707.77" width="12.38" height="9.14" fill="#a5c6ef"/>
<rect x="726.7" y="1707.77" width="6.19" height="9.14" fill="#a5c6ef"/>
<rect x="739.09" y="1707.77" width="6.19" height="9.14" fill="#a5c6ef"/>
<rect x="751.47" y="1707.77" width="136.21" height="9.14" fill="#a5c6ef"/>
<rect x="893.87" y="1707.77" width="12.38" height="9.14" fill="#a5c6ef"/>
<rect x="912.45" y="1707.77" width="6.19" height="9.14" fill="#a5c6ef"/>
<rect x="931.02" y="1707.77" width="6.19" height="9.14" fill="#a5c6ef"/>
<rect x="943.4" y="1707.77" width="6.19" height="9.14" fill="#a5c6ef"/>
<rect x="961.98" y="1707.77" width="6.19" height="9.14" fill="#a5c6ef"/>
<rect x="689.55" y="1716.92" width="12.38" height="9.14" fill="#a5c6ef"/>
<rect x="726.7" y="1716.92" width="24.77" height="9.14" fill="#a5c6ef"/>
<rect x="757.66" y="1716.92" width="130.02" height="9.14" fill="#a5c6ef"/>
<rect x="893.87" y="1716.92" width="6.19" height="9.14" fill="#a5c6ef"/>
<rect x="931.02" y="1716.92" width="6.19" height="9.14" fill="#a5c6ef"/>
<rect x="689.55" y="1726.06" width="12.38" height="9.14" fill="#a5c6ef"/>
<rect x="720.51" y="1726.06" width="12.38" height="9.14" fill="#a5c6ef"/>
<rect x="739.09" y="1726.06" width="6.19" height="9.14" fill="#a5c6ef"/>
<rect x="751.47" y="1726.06" width="12.38" height="9.14" fill="#a5c6ef"/>
<rect x="770.04" y="1726.06" width="18.57" height="9.14" fill="#a5c6ef"/>
<rect x="788.62" y="1726.06" width="6.19" height="9.14" fill="#2c9cea"/>
<rect x="794.81" y="1726.06" width="24.77" height="9.14" fill="#8cbcf2"/>
<rect x="819.58" y="1726.06" width="61.91" height="9.14" fill="#a5c6ef"/>
<rect x="887.68" y="1726.06" width="18.57" height="9.14" fill="#a5c6ef"/>
<rect x="918.64" y="1726.06" width="6.19" height="9.14" fill="#a5c6ef"/>
<rect x="943.4" y="1726.06" width="6.19" height="9.14" fill="#a5c6ef"/>
<rect x="961.98" y="1726.06" width="6.19" height="9.14" fill="#a5c6ef"/>
<rect x="974.36" y="1726.06" width="6.19" height="9.14" fill="#a5c6ef"/>
<rect x="689.55" y="1735.2" width="6.19" height="9.14" fill="#a5c6ef"/>
<rect x="708.13" y="1735.2" width="167.17" height="9.14" fill="#a5c6ef"/>
<rect x="875.3" y="1735.2" width="6.19" height="9.14" fill="#61aff6"/>
<rect x="881.49" y="1735.2" width="24.77" height="9.14" fill="#a5c6ef"/>
<rect x="918.64" y="1735.2" width="18.57" height="9.14" fill="#a5c6ef"/>
<rect x="961.98" y="1735.2" width="18.57" height="9.14" fill="#a5c6ef"/>
<rect x="689.55" y="1744.34" width="6.19" height="9.14" fill="#a5c6ef"/>
<rect x="714.32" y="1744.34" width="6.19" height="9.14" fill="#a5c6ef"/>
<rect x="726.7" y="1744.34" width="12.38" height="9.14" fill="#a5c6ef"/>
<rect x="745.28" y="1744.34" width="12.38" height="9.14" fill="#a5c6ef"/>
<rect x="763.85" y="1744.34" width="123.83" height="9.14" fill="#a5c6ef"/>
<rect x="893.87" y="1744.34" width="24.77" height="9.14" fill="#a5c6ef"/>
<rect x="931.02" y="1744.34" width="6.19" height="9.14" fill="#a5c6ef"/>
<rect x="943.4" y="1744.34" width="12.38" height="9.14" fill="#a5c6ef"/>
<rect x="961.98" y="1744.34" width="6.19" height="9.14" fill="#a5c6ef"/>
<rect x="974.36" y="1744.34" width="6.19" height="9.14" fill="#a5c6ef"/>
<rect x="695.75" y="1753.48" width="6.19" height="9.14" fill="#a5c6ef"/>
<rect x="720.51" y="1753.48" width="12.38" height="9.14" fill="#a5c6ef"/>
<rect x="739.09" y="1753.48" width="148.59" height="9.14" fill="#a5c6ef"/>
<rect x="893.87" y="1753.48" width="18.57" height="9.14" fill="#a5c6ef"/>
<rect x="918.64" y="1753.48" width="12.38" height="9.14" fill="#a5c6ef"/>
<rect x="943.4" y="1753.48" width="12.38" height="9.14" fill="#a5c6ef"/>
<rect x="974.36" y="1753.48" width="6.19" height="9.14" fill="#a5c6ef"/>
<rect x="986.74" y="1753.48" width="6.19" height="9.14" fill="#a5c6ef"/>
<rect x="664.79" y="1762.63" width="12.38" height="9.14" fill="#a5c6ef"/>
<rect x="683.36" y="1762.63" width="6.19" height="9.14" fill="#a5c6ef"/>
<rect x="708.13" y="1762.63" width="12.38" height="9.14" fill="#a5c6ef"/>
<rect x="732.89" y="1762.63" width="185.74" height="9.14" fill="#a5c6ef"/>
<rect x="924.83" y="1762.63" width="6.19" height="9.14" fill="#a5c6ef"/>
<rect x="955.79" y="1762.63" width="6.19" height="9.14" fill="#a5c6ef"/>
<rect x="986.74" y="1762.63" width="6.19" height="9.14" fill="#a5c6ef"/>
<rect x="658.6" y="1771.77" width="18.57" height="9.14" fill="#a5c6ef"/>
<rect x="708.13" y="1771.77" width="99.06" height="9.14" fill="#a5c6ef"/>
<rect x="807.19" y="1771.77" width="18.57" height="9.14" fill="#8cbcf2"/>
<rect x="825.77" y="1771.77" width="61.91" height="9.14" fill="#a5c6ef"/>
<rect x="893.87" y="1771.77" width="18.57" height="9.14" fill="#a5c6ef"/>
<rect x="924.83" y="1771.77" width="12.38" height="9.14" fill="#a5c6ef"/>
<rect x="968.17" y="1771.77" width="6.19" height="9.14" fill="#a5c6ef"/>
<rect x="664.79" y="1780.91" width="6.19" height="9.14" fill="#a5c6ef"/>
<rect x="677.17" y="1780.91" width="12.38" height="9.14" fill="#a5c6ef"/>
<rect x="701.94" y="1780.91" width="6.19" height="9.14" fill="#a5c6ef"/>
<rect x="714.32" y="1780.91" width="18.57" height="9.14" fill="#a5c6ef"/>
<rect x="739.09" y="1780.91" width="30.96" height="9.14" fill="#a5c6ef"/>
<rect x="770.04" y="1780.91" width="12.38" height="9.14" fill="#2c9cea"/>
<rect x="782.43" y="1780.91" width="24.77" height="9.14" fill="#8cbcf2"/>
<rect x="807.19" y="1780.91" width="6.19" height="9.14" fill="#2c9cea"/>
<rect x="813.38" y="1780.91" width="6.19" height="9.14" fill="#8cbcf2"/>
<rect x="819.58" y="1780.91" width="12.38" height="9.14" fill="#61aff6"/>
<rect x="831.96" y="1780.91" width="92.87" height="9.14" fill="#a5c6ef"/>
<rect x="943.4" y="1780.91" width="6.19" height="9.14" fill="#a5c6ef"/>
<rect x="955.79" y="1780.91" width="6.19" height="9.14" fill="#a5c6ef"/>
<rect x="974.36" y="1780.91" width="6.19" height="9.14" fill="#a5c6ef"/>
<rect x="652.41" y="1790.05" width="12.38" height="9.14" fill="#a5c6ef"/>
<rect x="677.17" y="1790.05" width="30.96" height="9.14" fill="#a5c6ef"/>
<rect x="714.32" y="1790.05" width="68.11" height="9.14" fill="#a5c6ef"/>
<rect x="782.43" y="1790.05" width="37.15" height="9.14" fill="#8cbcf2"/>
<rect x="819.58" y="1790.05" width="12.38" height="9.14" fill="#61aff6"/>
<rect x="831.96" y="1790.05" width="74.3" height="9.14" fill="#a5c6ef"/>
<rect x="912.45" y="1790.05" width="30.96" height="9.14" fill="#a5c6ef"/>
<rect x="955.79" y="1790.05" width="12.38" height="9.14" fill="#a5c6ef"/>
<rect x="992.94" y="1790.05" width="18.57" height="9.14" fill="#a5c6ef"/>
<rect x="646.21" y="1799.2" width="12.38" height="9.14" fill="#a5c6ef"/>
<rect x="664.79" y="1799.2" width="18.57" height="9.14" fill="#a5c6ef"/>
<rect x="689.55" y="1799.2" width="43.34" height="9.14" fill="#a5c6ef"/>
<rect x="739.09" y="1799.2" width="37.15" height="9.14" fill="#8cbcf2"/>
<rect x="776.23" y="1799.2" width="43.34" height="9.14" fill="#61aff6"/>
<rect x="819.58" y="1799.2" width="74.3" height="9.14" fill="#a5c6ef"/>
<rect x="900.06" y="1799.2" width="30.96" height="9.14" fill="#a5c6ef"/>
<rect x="937.21" y="1799.2" width="12.38" height="9.14" fill="#a5c6ef"/>
<rect x="955.79" y="1799.2" width="12.38" height="9.14" fill="#a5c6ef"/>
<rect x="974.36" y="1799.2" width="12.38" height="9.14" fill="#a5c6ef"/>
<rect x="992.94" y="1799.2" width="12.38" height="9.14" fill="#a5c6ef"/>
<rect x="658.6" y="1808.34" width="37.15" height="9.14" fill="#a5c6ef"/>
<rect x="701.94" y="1808.34" width="80.49" height="9.14" fill="#8cbcf2"/>
<rect x="782.43" y="1808.34" width="37.15" height="9.14" fill="#61aff6"/>
<rect x="819.58" y="1808.34" width="12.38" height="9.14" fill="#2c9cea"/>
<rect x="831.96" y="1808.34" width="99.06" height="9.14" fill="#a5c6ef"/>
<rect x="937.21" y="1808.34" width="37.15" height="9.14" fill="#a5c6ef"/>
<rect x="633.83" y="1817.48" width="12.38" height="9.14" fill="#a5c6ef"/>
<rect x="652.41" y="1817.48" width="105.25" height="9.14" fill="#8cbcf2"/>
<rect x="757.66" y="1817.48" width="24.77" height="9.14" fill="#61aff6"/>
<rect x="782.43" y="1817.48" width="37.15" height="9.14" fill="#2c9cea"/>
<rect x="819.58" y="1817.48" width="6.19" height="9.14" fill="#a5c6ef"/>
<rect x="825.77" y="1817.48" width="24.77" height="9.14" fill="#2c9cea"/>
<rect x="850.53" y="1817.48" width="80.49" height="9.14" fill="#8cbcf2"/>
<rect x="931.02" y="1817.48" width="6.19" height="9.14" fill="#a5c6ef"/>
<rect x="955.79" y="1817.48" width="6.19" height="9.14" fill="#a5c6ef"/>
<rect x="974.36" y="1817.48" width="6.19" height="9.14" fill="#a5c6ef"/>
<rect x="633.83" y="1826.62" width="6.19" height="9.14" fill="#a5c6ef"/>
<rect x="646.21" y="1826.62" width="6.19" height="9.14" fill="#a5c6ef"/>
<rect x="658.6" y="1826.62" width="24.77" height="9.14" fill="#a5c6ef"/>
<rect x="695.75" y="1826.62" width="49.53" height="9.14" fill="#8cbcf2"/>
<rect x="745.28" y="1826.62" width="37.15" height="9.14" fill="#61aff6"/>
<rect x="782.43" y="1826.62" width="43.34" height="9.14" fill="#2c9cea"/>
<rect x="825.77" y="1826.62" width="12.38" height="9.14" fill="#3d5a78"/>
<rect x="838.15" y="1826.62" width="18.57" height="9.14" fill="#2c9cea"/>
<rect x="856.72" y="1826.62" width="24.77" height="9.14" fill="#61aff6"/>
<rect x="881.49" y="1826.62" width="6.19" height="9.14" fill="#3577ae"/>
<rect x="887.68" y="1826.62" width="24.77" height="9.14" fill="#61aff6"/>
<rect x="912.45" y="1826.62" width="6.19" height="9.14" fill="#3577ae"/>
<rect x="918.64" y="1826.62" width="37.15" height="9.14" fill="#a5c6ef"/>
<rect x="627.64" y="1835.77" width="12.38" height="9.14" fill="#a5c6ef"/>
<rect x="652.41" y="1835.77" width="37.15" height="9.14" fill="#8cbcf2"/>
<rect x="689.55" y="1835.77" width="6.19" height="9.14" fill="#3d5a78"/>
<rect x="695.75" y="1835.77" width="24.77" height="9.14" fill="#61aff6"/>
<rect x="720.51" y="1835.77" width="49.53" height="9.14" fill="#2c9cea"/>
<rect x="770.04" y="1835.77" width="49.53" height="9.14" fill="#3577ae"/>
<rect x="819.58" y="1835.77" width="18.57" height="9.14" fill="#3d5a78"/>
<rect x="838.15" y="1835.77" width="49.53" height="9.14" fill="#2c9cea"/>
<rect x="887.68" y="1835.77" width="30.96" height="9.14" fill="#a5c6ef"/>
<rect x="937.21" y="1835.77" width="12.38" height="9.14" fill="#a5c6ef"/>
<rect x="627.64" y="1844.91" width="6.19" height="9.14" fill="#a5c6ef"/>
<rect x="664.79" y="1844.91" width="6.19" height="9.14" fill="#a5c6ef"/>
<rect x="683.36" y="1844.91" width="18.57" height="9.14" fill="#61aff6"/>
<rect x="708.13" y="1844.91" width="61.91" height="9.14" fill="#2c9cea"/>
<rect x="770.04" y="1844.91" width="49.53" height="9.14" fill="#3577ae"/>
<rect x="819.58" y="1844.91" width="61.91" height="9.14" fill="#61aff6"/>
<rect x="881.49" y="1844.91" width="6.19" height="9.14" fill="#8cbcf2"/>
<rect x="893.87" y="1844.91" width="18.57" height="9.14" fill="#a5c6ef"/>
</g>
<g shape-rendering="crispEdges">
<rect x="1228.19" y="1451.79" width="12.36" height="9.14" fill="#a5c6ef"/>
<rect x="1339.45" y="1451.79" width="12.36" height="9.14" fill="#a5c6ef"/>
<rect x="1376.54" y="1451.79" width="24.73" height="9.14" fill="#a5c6ef"/>
<rect x="1438.35" y="1451.79" width="37.09" height="9.14" fill="#a5c6ef"/>
<rect x="1178.74" y="1460.93" width="12.36" height="9.14" fill="#a5c6ef"/>
<rect x="1463.08" y="1460.93" width="12.36" height="9.14" fill="#a5c6ef"/>
<rect x="1191.1" y="1470.07" width="12.36" height="9.14" fill="#a5c6ef"/>
<rect x="1364.18" y="1470.07" width="24.73" height="9.14" fill="#a5c6ef"/>
<rect x="1401.26" y="1470.07" width="12.36" height="9.14" fill="#a5c6ef"/>
<rect x="1438.35" y="1470.07" width="37.09" height="9.14" fill="#a5c6ef"/>
<rect x="1277.64" y="1479.22" width="12.36" height="9.14" fill="#a5c6ef"/>
<rect x="1401.26" y="1479.22" width="12.36" height="9.14" fill="#a5c6ef"/>
<rect x="1450.71" y="1479.22" width="24.73" height="9.14" fill="#a5c6ef"/>
<rect x="1154.01" y="1488.36" width="12.36" height="9.14" fill="#a5c6ef"/>
<rect x="1327.09" y="1488.36" width="12.36" height="9.14" fill="#a5c6ef"/>
<rect x="1364.18" y="1488.36" width="12.36" height="9.14" fill="#a5c6ef"/>
<rect x="1401.26" y="1488.36" width="12.36" height="9.14" fill="#a5c6ef"/>
<rect x="1438.35" y="1488.36" width="37.09" height="9.14" fill="#a5c6ef"/>
<rect x="1351.81" y="1497.5" width="12.36" height="9.14" fill="#a5c6ef"/>
<rect x="1376.54" y="1497.5" width="12.36" height="9.14" fill="#a5c6ef"/>
<rect x="1413.63" y="1497.5" width="12.36" height="9.14" fill="#a5c6ef"/>
<rect x="1438.35" y="1497.5" width="37.09" height="9.14" fill="#a5c6ef"/>
<rect x="1277.64" y="1506.64" width="12.36" height="9.14" fill="#a5c6ef"/>
<rect x="1314.73" y="1506.64" width="24.73" height="9.14" fill="#a5c6ef"/>
<rect x="1364.18" y="1506.64" width="24.73" height="9.14" fill="#a5c6ef"/>
<rect x="1413.63" y="1506.64" width="61.81" height="9.14" fill="#a5c6ef"/>
<rect x="1228.19" y="1515.79" width="12.36" height="9.14" fill="#a5c6ef"/>
<rect x="1351.81" y="1515.79" width="12.36" height="9.14" fill="#a5c6ef"/>
<rect x="1376.54" y="1515.79" width="12.36" height="9.14" fill="#a5c6ef"/>
<rect x="1425.99" y="1515.79" width="12.36" height="9.14" fill="#a5c6ef"/>
<rect x="1463.08" y="1515.79" width="12.36" height="9.14" fill="#a5c6ef"/>
<rect x="1351.81" y="1524.93" width="37.09" height="9.14" fill="#a5c6ef"/>
<rect x="1413.63" y="1524.93" width="12.36" height="9.14" fill="#a5c6ef"/>
<rect x="1450.71" y="1524.93" width="24.73" height="9.14" fill="#a5c6ef"/>
<rect x="1277.64" y="1534.07" width="74.18" height="9.14" fill="#a5c6ef"/>
<rect x="1364.18" y="1534.07" width="24.73" height="9.14" fill="#a5c6ef"/>
<rect x="1413.63" y="1534.07" width="12.36" height="9.14" fill="#a5c6ef"/>
<rect x="1450.71" y="1534.07" width="24.73" height="9.14" fill="#a5c6ef"/>
<rect x="1327.09" y="1543.21" width="12.36" height="9.14" fill="#a5c6ef"/>
<rect x="1364.18" y="1543.21" width="24.73" height="9.14" fill="#a5c6ef"/>
<rect x="1401.26" y="1543.21" width="24.73" height="9.14" fill="#a5c6ef"/>
<rect x="1463.08" y="1543.21" width="12.36" height="9.14" fill="#a5c6ef"/>
<rect x="1215.83" y="1552.36" width="12.36" height="9.14" fill="#a5c6ef"/>
<rect x="1302.36" y="1552.36" width="12.36" height="9.14" fill="#a5c6ef"/>
<rect x="1327.09" y="1552.36" width="24.73" height="9.14" fill="#a5c6ef"/>
<rect x="1364.18" y="1552.36" width="24.73" height="9.14" fill="#a5c6ef"/>
<rect x="1401.26" y="1552.36" width="74.18" height="9.14" fill="#a5c6ef"/>
<rect x="1191.1" y="1561.5" width="12.36" height="9.14" fill="#a5c6ef"/>
<rect x="1228.19" y="1561.5" width="12.36" height="9.14" fill="#a5c6ef"/>
<rect x="1277.64" y="1561.5" width="24.73" height="9.14" fill="#a5c6ef"/>
<rect x="1314.73" y="1561.5" width="12.36" height="9.14" fill="#a5c6ef"/>
<rect x="1351.81" y="1561.5" width="37.09" height="9.14" fill="#a5c6ef"/>
<rect x="1425.99" y="1561.5" width="24.73" height="9.14" fill="#a5c6ef"/>
<rect x="1463.08" y="1561.5" width="12.36" height="9.14" fill="#a5c6ef"/>
<rect x="1265.28" y="1570.64" width="61.81" height="9.14" fill="#a5c6ef"/>
<rect x="1351.81" y="1570.64" width="61.81" height="9.14" fill="#a5c6ef"/>
<rect x="1425.99" y="1570.64" width="12.36" height="9.14" fill="#a5c6ef"/>
<rect x="1450.71" y="1570.64" width="24.73" height="9.14" fill="#a5c6ef"/>
<rect x="1228.19" y="1579.78" width="12.36" height="9.14" fill="#a5c6ef"/>
<rect x="1252.91" y="1579.78" width="61.81" height="9.14" fill="#a5c6ef"/>
<rect x="1327.09" y="1579.78" width="24.73" height="9.14" fill="#a5c6ef"/>
<rect x="1376.54" y="1579.78" width="37.09" height="9.14" fill="#a5c6ef"/>
<rect x="1425.99" y="1579.78" width="49.45" height="9.14" fill="#a5c6ef"/>
<rect x="1178.74" y="1588.92" width="12.36" height="9.14" fill="#a5c6ef"/>
<rect x="1240.55" y="1588.92" width="12.36" height="9.14" fill="#a5c6ef"/>
<rect x="1265.28" y="1588.92" width="61.81" height="9.14" fill="#a5c6ef"/>
<rect x="1351.81" y="1588.92" width="37.09" height="9.14" fill="#a5c6ef"/>
<rect x="1401.26" y="1588.92" width="12.36" height="9.14" fill="#a5c6ef"/>
<rect x="1425.99" y="1588.92" width="49.45" height="9.14" fill="#a5c6ef"/>
<rect x="1228.19" y="1598.07" width="37.09" height="9.14" fill="#a5c6ef"/>
<rect x="1290" y="1598.07" width="61.81" height="9.14" fill="#a5c6ef"/>
<rect x="1364.18" y="1598.07" width="111.26" height="9.14" fill="#a5c6ef"/>
<rect x="1166.38" y="1607.21" width="12.36" height="9.14" fill="#a5c6ef"/>
<rect x="1252.91" y="1607.21" width="12.36" height="9.14" fill="#a5c6ef"/>
<rect x="1277.64" y="1607.21" width="135.99" height="9.14" fill="#a5c6ef"/>
<rect x="1438.35" y="1607.21" width="37.09" height="9.14" fill="#a5c6ef"/>
<rect x="1228.19" y="1616.35" width="12.36" height="9.14" fill="#a5c6ef"/>
<rect x="1252.91" y="1616.35" width="111.26" height="9.14" fill="#a5c6ef"/>
<rect x="1376.54" y="1616.35" width="12.36" height="9.14" fill="#a5c6ef"/>
<rect x="1401.26" y="1616.35" width="74.18" height="9.14" fill="#a5c6ef"/>
<rect x="1178.74" y="1625.49" width="24.73" height="9.14" fill="#a5c6ef"/>
<rect x="1215.83" y="1625.49" width="185.44" height="9.14" fill="#a5c6ef"/>
<rect x="1413.63" y="1625.49" width="61.81" height="9.14" fill="#a5c6ef"/>
<rect x="1240.55" y="1634.64" width="173.08" height="9.14" fill="#a5c6ef"/>
<rect x="1425.99" y="1634.64" width="49.45" height="9.14" fill="#a5c6ef"/>
<rect x="1203.46" y="1643.78" width="49.45" height="9.14" fill="#a5c6ef"/>
<rect x="1265.28" y="1643.78" width="74.18" height="9.14" fill="#a5c6ef"/>
<rect x="1351.81" y="1643.78" width="12.36" height="9.14" fill="#a5c6ef"/>
<rect x="1376.54" y="1643.78" width="98.9" height="9.14" fill="#a5c6ef"/>
<rect x="1191.1" y="1652.92" width="37.09" height="9.14" fill="#a5c6ef"/>
<rect x="1240.55" y="1652.92" width="12.36" height="9.14" fill="#a5c6ef"/>
<rect x="1265.28" y="1652.92" width="111.26" height="9.14" fill="#a5c6ef"/>
<rect x="1388.9" y="1652.92" width="86.54" height="9.14" fill="#a5c6ef"/>
<rect x="1178.74" y="1662.06" width="296.7" height="9.14" fill="#a5c6ef"/>
<rect x="1203.46" y="1671.2" width="271.98" height="9.14" fill="#a5c6ef"/>
<rect x="1129.29" y="1680.35" width="12.36" height="9.14" fill="#a5c6ef"/>
<rect x="1166.38" y="1680.35" width="185.44" height="9.14" fill="#a5c6ef"/>
<rect x="1364.18" y="1680.35" width="12.36" height="9.14" fill="#a5c6ef"/>
<rect x="1388.9" y="1680.35" width="61.81" height="9.14" fill="#a5c6ef"/>
<rect x="1463.08" y="1680.35" width="12.36" height="9.14" fill="#a5c6ef"/>
<rect x="1154.01" y="1689.49" width="12.36" height="9.14" fill="#a5c6ef"/>
<rect x="1178.74" y="1689.49" width="296.7" height="9.14" fill="#a5c6ef"/>
<rect x="1166.38" y="1698.63" width="160.71" height="9.14" fill="#a5c6ef"/>
<rect x="1339.45" y="1698.63" width="49.45" height="9.14" fill="#a5c6ef"/>
<rect x="1401.26" y="1698.63" width="12.36" height="9.14" fill="#a5c6ef"/>
<rect x="1425.99" y="1698.63" width="49.45" height="9.14" fill="#a5c6ef"/>
<rect x="1166.38" y="1707.77" width="12.36" height="9.14" fill="#a5c6ef"/>
<rect x="1191.1" y="1707.77" width="222.53" height="9.14" fill="#a5c6ef"/>
<rect x="1425.99" y="1707.77" width="49.45" height="9.14" fill="#a5c6ef"/>
<rect x="1154.01" y="1716.92" width="222.53" height="9.14" fill="#a5c6ef"/>
<rect x="1388.9" y="1716.92" width="24.73" height="9.14" fill="#a5c6ef"/>
<rect x="1438.35" y="1716.92" width="37.09" height="9.14" fill="#a5c6ef"/>
<rect x="1154.01" y="1726.06" width="321.43" height="9.14" fill="#a5c6ef"/>
<rect x="1154.01" y="1735.2" width="321.43" height="9.14" fill="#a5c6ef"/>
<rect x="1166.38" y="1744.34" width="197.8" height="9.14" fill="#a5c6ef"/>
<rect x="1376.54" y="1744.34" width="12.36" height="9.14" fill="#a5c6ef"/>
<rect x="1401.26" y="1744.34" width="12.36" height="9.14" fill="#a5c6ef"/>
<rect x="1438.35" y="1744.34" width="24.73" height="9.14" fill="#a5c6ef"/>
<rect x="1141.65" y="1753.48" width="222.53" height="9.14" fill="#a5c6ef"/>
<rect x="1413.63" y="1753.48" width="12.36" height="9.14" fill="#a5c6ef"/>
<rect x="1129.29" y="1762.63" width="197.8" height="9.14" fill="#a5c6ef"/>
<rect x="1351.81" y="1762.63" width="24.73" height="9.14" fill="#a5c6ef"/>
<rect x="1401.26" y="1762.63" width="12.36" height="9.14" fill="#a5c6ef"/>
<rect x="1129.29" y="1771.77" width="247.25" height="9.14" fill="#a5c6ef"/>
<rect x="1401.26" y="1771.77" width="12.36" height="9.14" fill="#a5c6ef"/>
<rect x="1116.93" y="1780.91" width="173.08" height="9.14" fill="#a5c6ef"/>
<rect x="1302.36" y="1780.91" width="49.45" height="9.14" fill="#a5c6ef"/>
<rect x="1104.56" y="1790.05" width="210.16" height="9.14" fill="#a5c6ef"/>
<rect x="1327.09" y="1790.05" width="12.36" height="9.14" fill="#a5c6ef"/>
<rect x="1104.56" y="1799.2" width="160.71" height="9.14" fill="#a5c6ef"/>
<rect x="1314.73" y="1799.2" width="12.36" height="9.14" fill="#a5c6ef"/>
<rect x="1463.08" y="1799.2" width="12.36" height="9.14" fill="#a5c6ef"/>
<rect x="1104.56" y="1808.34" width="12.36" height="9.14" fill="#a5c6ef"/>
<rect x="1116.93" y="1808.34" width="61.81" height="9.14" fill="#8cbcf2"/>
<rect x="1178.74" y="1808.34" width="74.18" height="9.14" fill="#a5c6ef"/>
<rect x="1265.28" y="1808.34" width="12.36" height="9.14" fill="#a5c6ef"/>
<rect x="1290" y="1808.34" width="12.36" height="9.14" fill="#a5c6ef"/>
<rect x="1463.08" y="1808.34" width="12.36" height="9.14" fill="#a5c6ef"/>
<rect x="1092.2" y="1817.48" width="12.36" height="9.14" fill="#a5c6ef"/>
<rect x="1104.56" y="1817.48" width="12.36" height="9.14" fill="#8cbcf2"/>
<rect x="1116.93" y="1817.48" width="12.36" height="9.14" fill="#61aff6"/>
<rect x="1129.29" y="1817.48" width="12.36" height="9.14" fill="#2c9cea"/>
<rect x="1141.65" y="1817.48" width="24.73" height="9.14" fill="#8cbcf2"/>
<rect x="1166.38" y="1817.48" width="98.9" height="9.14" fill="#a5c6ef"/>
<rect x="1290" y="1817.48" width="12.36" height="9.14" fill="#a5c6ef"/>
<rect x="1092.2" y="1826.62" width="12.36" height="9.14" fill="#a5c6ef"/>
<rect x="1104.56" y="1826.62" width="12.36" height="9.14" fill="#2c9cea"/>
<rect x="1116.93" y="1826.62" width="12.36" height="9.14" fill="#3577ae"/>
<rect x="1129.29" y="1826.62" width="12.36" height="9.14" fill="#2c9cea"/>
<rect x="1141.65" y="1826.62" width="49.45" height="9.14" fill="#a5c6ef"/>
<rect x="1092.2" y="1835.77" width="12.36" height="9.14" fill="#3577ae"/>
<rect x="1104.56" y="1835.77" width="12.36" height="9.14" fill="#3d5a78"/>
<rect x="1116.93" y="1835.77" width="12.36" height="9.14" fill="#61aff6"/>
<rect x="1129.29" y="1835.77" width="12.36" height="9.14" fill="#2c9cea"/>
<rect x="1141.65" y="1835.77" width="24.73" height="9.14" fill="#a5c6ef"/>
<rect x="1203.46" y="1835.77" width="12.36" height="9.14" fill="#a5c6ef"/>
<rect x="1463.08" y="1835.77" width="12.36" height="9.14" fill="#a5c6ef"/>
<rect x="1092.2" y="1844.91" width="12.36" height="9.14" fill="#3d5a78"/>
<rect x="1104.56" y="1844.91" width="12.36" height="9.14" fill="#2c9cea"/>
<rect x="1116.93" y="1844.91" width="24.73" height="9.14" fill="#a5c6ef"/>
</g>
<g fill="#5799c7" stroke="#000" stroke-width="0.77">
<rect x="163.27" y="473.3" width="7.69" height="2.8"/>
<rect x="170.96" y="471.2" width="7.69" height="4.9"/>
<rect x="178.64" y="472.5" width="7.69" height="3.6"/>
<rect x="186.33" y="473.6" width="7.69" height="2.5"/>
<rect x="194.02" y="473.6" width="7.69" height="2.5"/>
<rect x="201.71" y="473.6" width="7.69" height="2.5"/>
<rect x="209.39" y="472.4" width="7.69" height="3.7"/>
<rect x="217.08" y="466.3" width="7.69" height="9.8"/>
<rect x="224.77" y="460.3" width="7.69" height="15.8"/>
<rect x="232.45" y="465.3" width="7.69" height="10.8"/>
<rect x="240.14" y="455.4" width="7.69" height="20.7"/>
<rect x="247.83" y="451.2" width="7.69" height="24.9"/>
<rect x="255.52" y="449.6" width="7.69" height="26.5"/>
<rect x="263.2" y="444.4" width="7.69" height="31.7"/>
<rect x="270.89" y="447.2" width="7.69" height="28.9"/>
<rect x="278.58" y="442.4" width="7.69" height="33.7"/>
<rect x="286.26" y="426.3" width="7.69" height="49.8"/>
<rect x="293.95" y="420.4" width="7.69" height="55.7"/>
<rect x="301.64" y="387.5" width="7.69" height="88.6"/>
<rect x="309.33" y="390.2" width="7.69" height="85.9"/>
<rect x="317.01" y="391.5" width="7.69" height="84.6"/>
<rect x="324.7" y="385.4" width="7.69" height="90.7"/>
<rect x="332.39" y="339.3" width="7.69" height="136.8"/>
<rect x="340.07" y="311.6" width="7.69" height="164.5"/>
<rect x="347.76" y="312.4" width="7.69" height="163.7"/>
<rect x="355.45" y="203.3" width="7.69" height="272.8"/>
<rect x="363.14" y="326" width="7.69" height="150.1"/>
<rect x="370.82" y="323.3" width="7.69" height="152.8"/>
<rect x="378.51" y="360.2" width="7.69" height="115.9"/>
<rect x="386.2" y="373.4" width="7.69" height="102.7"/>
<rect x="393.88" y="390.2" width="7.69" height="85.9"/>
<rect x="401.57" y="386.2" width="7.69" height="89.9"/>
<rect x="409.26" y="406.2" width="7.69" height="69.9"/>
<rect x="416.95" y="418.3" width="7.69" height="57.8"/>
<rect x="424.63" y="435.1" width="7.69" height="41"/>
<rect x="432.32" y="442.4" width="7.69" height="33.7"/>
<rect x="440.01" y="443.2" width="7.69" height="32.9"/>
<rect x="447.7" y="453.3" width="7.69" height="22.8"/>
<rect x="455.38" y="457.1" width="7.69" height="19"/>
<rect x="463.07" y="465.3" width="7.69" height="10.8"/>
<rect x="470.76" y="462.1" width="7.69" height="14"/>
<rect x="478.44" y="466.1" width="7.69" height="10"/>
<rect x="486.13" y="471.2" width="7.69" height="4.9"/>
<rect x="493.82" y="470.1" width="7.69" height="6"/>
<rect x="501.51" y="472" width="7.69" height="4.1"/>
<rect x="509.19" y="472" width="7.69" height="4.1"/>
<rect x="532.25" y="474.1" width="7.69" height="2"/>
<rect x="539.94" y="474.6" width="7.69" height="1.5"/>
</g>
<g fill="#5799c7" stroke="#000" stroke-width="0.77">
<rect x="627.64" y="940.6" width="7.68" height="1.5"/>
<rect x="642.99" y="940.4" width="7.68" height="1.7"/>
<rect x="650.67" y="936.3" width="7.68" height="5.8"/>
<rect x="658.35" y="935.5" width="7.68" height="6.6"/>
<rect x="666.03" y="936.3" width="7.68" height="5.8"/>
<rect x="673.7" y="933.5" width="7.68" height="8.6"/>
<rect x="681.38" y="929.5" width="7.68" height="12.6"/>
<rect x="689.06" y="904.2" width="7.68" height="37.9"/>
<rect x="696.74" y="927.6" width="7.68" height="14.5"/>
<rect x="704.41" y="928.5" width="7.68" height="13.6"/>
<rect x="712.09" y="921.5" width="7.68" height="20.6"/>
<rect x="719.77" y="909.3" width="7.68" height="32.8"/>
<rect x="727.45" y="906.5" width="7.68" height="35.6"/>
<rect x="735.12" y="897.4" width="7.68" height="44.7"/>
<rect x="742.8" y="882.6" width="7.68" height="59.5"/>
<rect x="750.48" y="881.4" width="7.68" height="60.7"/>
<rect x="758.16" y="855.3" width="7.68" height="86.8"/>
<rect x="765.83" y="833.4" width="7.68" height="108.7"/>
<rect x="773.51" y="839.5" width="7.68" height="102.6"/>
<rect x="781.19" y="808.3" width="7.68" height="133.8"/>
<rect x="788.87" y="798.3" width="7.68" height="143.8"/>
<rect x="796.54" y="810.4" width="7.68" height="131.7"/>
<rect x="804.22" y="770.2" width="7.68" height="171.9"/>
<rect x="811.9" y="777.6" width="7.68" height="164.5"/>
<rect x="819.58" y="783.3" width="7.68" height="158.8"/>
<rect x="827.25" y="746.3" width="7.68" height="195.8"/>
<rect x="834.93" y="779.3" width="7.68" height="162.8"/>
<rect x="842.61" y="828.3" width="7.68" height="113.8"/>
<rect x="850.29" y="870.4" width="7.68" height="71.7"/>
<rect x="857.96" y="881.4" width="7.68" height="60.7"/>
<rect x="865.64" y="889.4" width="7.68" height="52.7"/>
<rect x="873.32" y="903.3" width="7.68" height="38.8"/>
<rect x="881" y="896.5" width="7.68" height="45.6"/>
<rect x="888.67" y="918.1" width="7.68" height="24"/>
<rect x="896.35" y="919" width="7.68" height="23.1"/>
<rect x="904.03" y="920.2" width="7.68" height="21.9"/>
<rect x="911.71" y="918.1" width="7.68" height="24"/>
<rect x="919.38" y="928.1" width="7.68" height="14"/>
<rect x="927.06" y="931" width="7.68" height="11.1"/>
<rect x="934.74" y="938.6" width="7.68" height="3.5"/>
<rect x="942.42" y="935.9" width="7.68" height="6.2"/>
<rect x="950.09" y="935.9" width="7.68" height="6.2"/>
<rect x="957.77" y="937.8" width="7.68" height="4.3"/>
<rect x="965.45" y="940.6" width="7.68" height="1.5"/>
<rect x="973.13" y="935.9" width="7.68" height="6.2"/>
<rect x="1003.84" y="940.6" width="7.68" height="1.5"/>
</g>
<g fill="#5799c7" stroke="#000" stroke-width="0.77">
<rect x="1092.2" y="1287.3" width="7.66" height="120.8"/>
<rect x="1099.86" y="1150.4" width="7.66" height="257.7"/>
<rect x="1107.53" y="1235.2" width="7.66" height="172.9"/>
<rect x="1115.19" y="1244.5" width="7.66" height="163.6"/>
<rect x="1122.86" y="1208.5" width="7.66" height="199.6"/>
<rect x="1130.52" y="1246.3" width="7.66" height="161.8"/>
<rect x="1138.19" y="1291.2" width="7.66" height="116.9"/>
<rect x="1145.85" y="1315.3" width="7.66" height="92.8"/>
<rect x="1153.52" y="1318.4" width="7.66" height="89.7"/>
<rect x="1161.18" y="1343.4" width="7.66" height="64.7"/>
<rect x="1168.85" y="1363.3" width="7.66" height="44.8"/>
<rect x="1176.51" y="1366.3" width="7.66" height="41.8"/>
<rect x="1184.18" y="1357.5" width="7.66" height="50.6"/>
<rect x="1191.84" y="1333.4" width="7.66" height="74.7"/>
<rect x="1199.51" y="1352.7" width="7.66" height="55.4"/>
<rect x="1207.17" y="1368.6" width="7.66" height="39.5"/>
<rect x="1214.84" y="1381.4" width="7.66" height="26.7"/>
<rect x="1222.5" y="1377.4" width="7.66" height="30.7"/>
<rect x="1230.17" y="1374.2" width="7.66" height="33.9"/>
<rect x="1237.83" y="1373.3" width="7.66" height="34.8"/>
<rect x="1245.5" y="1376.1" width="7.66" height="32"/>
<rect x="1253.16" y="1382.3" width="7.66" height="25.8"/>
<rect x="1260.83" y="1384.4" width="7.66" height="23.7"/>
<rect x="1268.49" y="1379.1" width="7.66" height="29"/>
<rect x="1276.15" y="1376.2" width="7.66" height="31.9"/>
<rect x="1283.82" y="1378.3" width="7.66" height="29.8"/>
<rect x="1291.48" y="1382.3" width="7.66" height="25.8"/>
<rect x="1299.15" y="1392.4" width="7.66" height="15.7"/>
<rect x="1306.81" y="1385.5" width="7.66" height="22.6"/>
<rect x="1314.48" y="1381.4" width="7.66" height="26.7"/>
<rect x="1322.14" y="1392.4" width="7.66" height="15.7"/>
<rect x="1329.81" y="1393.6" width="7.66" height="14.5"/>
<rect x="1337.47" y="1396.3" width="7.66" height="11.8"/>
<rect x="1345.14" y="1394.4" width="7.66" height="13.7"/>
<rect x="1352.8" y="1393.6" width="7.66" height="14.5"/>
<rect x="1360.47" y="1394.4" width="7.66" height="13.7"/>
<rect x="1368.13" y="1394.4" width="7.66" height="13.7"/>
<rect x="1375.8" y="1394.4" width="7.66" height="13.7"/>
<rect x="1383.46" y="1397.4" width="7.66" height="10.7"/>
<rect x="1391.13" y="1398.3" width="7.66" height="9.8"/>
<rect x="1398.79" y="1399.3" width="7.66" height="8.8"/>
<rect x="1406.46" y="1396.3" width="7.66" height="11.8"/>
<rect x="1414.12" y="1401.5" width="7.66" height="6.6"/>
<rect x="1421.79" y="1398.3" width="7.66" height="9.8"/>
<rect x="1429.45" y="1394.4" width="7.66" height="13.7"/>
<rect x="1437.12" y="1396.3" width="7.66" height="11.8"/>
<rect x="1444.78" y="1393.3" width="7.66" height="14.8"/>
<rect x="1452.45" y="1390.4" width="7.66" height="17.7"/>
<rect x="1460.11" y="1392.4" width="7.66" height="15.7"/>
<rect x="1467.78" y="1328.5" width="7.66" height="79.6"/>
</g>
<g fill="#5799c7" stroke="#000" stroke-width="0.77">
<rect x="1556.29" y="1686.5" width="7.69" height="187.6"/>
<rect x="1563.98" y="1454.75" width="7.69" height="419.35"/>
<rect x="1571.67" y="1583.5" width="7.69" height="290.6"/>
<rect x="1579.36" y="1678.7" width="7.69" height="195.4"/>
<rect x="1587.05" y="1708.5" width="7.69" height="165.6"/>
<rect x="1594.74" y="1763.5" width="7.69" height="110.6"/>
<rect x="1602.43" y="1786.5" width="7.69" height="87.6"/>
<rect x="1610.12" y="1781.3" width="7.69" height="92.8"/>
<rect x="1617.81" y="1789.3" width="7.69" height="84.8"/>
<rect x="1625.5" y="1821.4" width="7.69" height="52.7"/>
<rect x="1633.19" y="1816.3" width="7.69" height="57.8"/>
<rect x="1640.88" y="1831.4" width="7.69" height="42.7"/>
<rect x="1648.57" y="1832.4" width="7.69" height="41.7"/>
<rect x="1656.26" y="1822.3" width="7.69" height="51.8"/>
<rect x="1663.95" y="1822.3" width="7.69" height="51.8"/>
<rect x="1671.64" y="1835.4" width="7.69" height="38.7"/>
<rect x="1679.33" y="1837.4" width="7.69" height="36.7"/>
<rect x="1687.02" y="1845.3" width="7.69" height="28.8"/>
<rect x="1694.71" y="1842.3" width="7.69" height="31.8"/>
<rect x="1702.4" y="1844.3" width="7.69" height="29.8"/>
<rect x="1710.09" y="1843.4" width="7.69" height="30.7"/>
<rect x="1717.78" y="1846.5" width="7.69" height="27.6"/>
<rect x="1725.47" y="1845.3" width="7.69" height="28.8"/>
<rect x="1733.16" y="1841.4" width="7.69" height="32.7"/>
<rect x="1740.85" y="1850.3" width="7.69" height="23.8"/>
<rect x="1748.54" y="1855.3" width="7.69" height="18.8"/>
<rect x="1756.23" y="1852.3" width="7.69" height="21.8"/>
<rect x="1763.92" y="1846.3" width="7.69" height="27.8"/>
<rect x="1771.61" y="1855.2" width="7.69" height="18.9"/>
<rect x="1779.3" y="1857.3" width="7.69" height="16.8"/>
<rect x="1786.99" y="1859.3" width="7.69" height="14.8"/>
<rect x="1794.68" y="1864.4" width="7.69" height="9.7"/>
<rect x="1802.37" y="1862.3" width="7.69" height="11.8"/>
<rect x="1810.06" y="1864.4" width="7.69" height="9.7"/>
<rect x="1817.75" y="1868.3" width="7.69" height="5.8"/>
<rect x="1825.44" y="1864.4" width="7.69" height="9.7"/>
<rect x="1833.13" y="1869.4" width="7.69" height="4.7"/>
<rect x="1840.82" y="1870.4" width="7.69" height="3.7"/>
<rect x="1848.51" y="1870.4" width="7.69" height="3.7"/>
<rect x="1856.19" y="1870.4" width="7.69" height="3.7"/>
<rect x="1863.88" y="1870.4" width="7.69" height="3.7"/>
<rect x="1871.57" y="1870.4" width="7.69" height="3.7"/>
<rect x="1879.26" y="1870.4" width="7.69" height="3.7"/>
<rect x="1886.95" y="1870.7" width="7.69" height="3.4"/>
<rect x="1894.64" y="1871.5" width="7.69" height="2.6"/>
<rect x="1902.33" y="1872.4" width="7.69" height="1.7"/>
<rect x="1910.02" y="1872.4" width="7.69" height="1.7"/>
<rect x="1917.71" y="1870.4" width="7.69" height="3.7"/>
<rect x="1925.4" y="1872.6" width="7.69" height="1.5"/>
<rect x="1933.09" y="1869.2" width="7.69" height="4.9"/>
</g>
<g stroke="#000" stroke-width="2.22" fill="none" stroke-linecap="square">
<line x1="144.1" y1="476.1" x2="565.6" y2="476.1"/>
<line x1="144.1" y1="942.1" x2="565.6" y2="942.1"/>
<line x1="144.1" y1="500.5" x2="144.1" y2="942.1"/>
<line x1="608.43" y1="942.1" x2="1029.93" y2="942.1"/>
<line x1="144.1" y1="1408.1" x2="565.6" y2="1408.1"/>
<line x1="144.1" y1="966.5" x2="144.1" y2="1408.1"/>
<line x1="608.43" y1="1408.1" x2="1029.93" y2="1408.1"/>
<line x1="608.43" y1="966.5" x2="608.43" y2="1408.1"/>
<line x1="1072.76" y1="1408.1" x2="1494.26" y2="1408.1"/>
<line x1="144.1" y1="1874.1" x2="565.6" y2="1874.1"/>
<line x1="144.1" y1="1432.5" x2="144.1" y2="1874.1"/>
<line x1="608.43" y1="1874.1" x2="1029.93" y2="1874.1"/>
<line x1="608.43" y1="1432.5" x2="608.43" y2="1874.1"/>
<line x1="1072.76" y1="1874.1" x2="1494.26" y2="1874.1"/>
<line x1="1072.76" y1="1432.5" x2="1072.76" y2="1874.1"/>
<line x1="1537.09" y1="1874.1" x2="1958.59" y2="1874.1"/>
</g>
<g stroke="#000" stroke-width="2.22">
<line x1="156.96" y1="476.1" x2="156.96" y2="485.82"/>
<line x1="357.46" y1="476.1" x2="357.46" y2="485.82"/>
<line x1="557.96" y1="476.1" x2="557.96" y2="485.82"/>
<line x1="156.96" y1="942.1" x2="156.96" y2="951.82"/>
<line x1="357.46" y1="942.1" x2="357.46" y2="951.82"/>
<line x1="557.96" y1="942.1" x2="557.96" y2="951.82"/>
<line x1="134.38" y1="927.6" x2="144.1" y2="927.6"/>
<line x1="134.38" y1="839.32" x2="144.1" y2="839.32"/>
<line x1="134.38" y1="751.04" x2="144.1" y2="751.04"/>
<line x1="134.38" y1="662.76" x2="144.1" y2="662.76"/>
<line x1="134.38" y1="574.48" x2="144.1" y2="574.48"/>
<line x1="622.9" y1="942.1" x2="622.9" y2="951.82"/>
<line x1="833" y1="942.1" x2="833" y2="951.82"/>
<line x1="156.96" y1="1408.1" x2="156.96" y2="1417.82"/>
<line x1="357.46" y1="1408.1" x2="357.46" y2="1417.82"/>
<line x1="557.96" y1="1408.1" x2="557.96" y2="1417.82"/>
<line x1="134.38" y1="1392.9" x2="144.1" y2="1392.9"/>
<line x1="134.38" y1="1311.7" x2="144.1" y2="1311.7"/>
<line x1="134.38" y1="1230.5" x2="144.1" y2="1230.5"/>
<line x1="134.38" y1="1149.3" x2="144.1" y2="1149.3"/>
<line x1="134.38" y1="1068.1" x2="144.1" y2="1068.1"/>
<line x1="134.38" y1="986.9" x2="144.1" y2="986.9"/>
<line x1="622.9" y1="1408.1" x2="622.9" y2="1417.82"/>
<line x1="833" y1="1408.1" x2="833" y2="1417.82"/>
<line x1="598.71" y1="1392.9" x2="608.43" y2="1392.9"/>
<line x1="598.71" y1="1311.7" x2="608.43" y2="1311.7"/>
<line x1="598.71" y1="1230.5" x2="608.43" y2="1230.5"/>
<line x1="598.71" y1="1149.3" x2="608.43" y2="1149.3"/>
<line x1="598.71" y1="1068.1" x2="608.43" y2="1068.1"/>
<line x1="598.71" y1="986.9" x2="608.43" y2="986.9"/>
<line x1="1087" y1="1408.1" x2="1087" y2="1417.82"/>
<line x1="1280.85" y1="1408.1" x2="1280.85" y2="1417.82"/>
<line x1="1474.7" y1="1408.1" x2="1474.7" y2="1417.82"/>
<line x1="156.96" y1="1874.1" x2="156.96" y2="1883.82"/>
<line x1="357.46" y1="1874.1" x2="357.46" y2="1883.82"/>
<line x1="557.96" y1="1874.1" x2="557.96" y2="1883.82"/>
<line x1="134.38" y1="1857.6" x2="144.1" y2="1857.6"/>
<line x1="134.38" y1="1776.6" x2="144.1" y2="1776.6"/>
<line x1="134.38" y1="1695.6" x2="144.1" y2="1695.6"/>
<line x1="134.38" y1="1614.6" x2="144.1" y2="1614.6"/>
<line x1="134.38" y1="1533.6" x2="144.1" y2="1533.6"/>
<line x1="134.38" y1="1452.6" x2="144.1" y2="1452.6"/>
<line x1="622.9" y1="1874.1" x2="622.9" y2="1883.82"/>
<line x1="833" y1="1874.1" x2="833" y2="1883.82"/>
<line x1="598.71" y1="1857.6" x2="608.43" y2="1857.6"/>
<line x1="598.71" y1="1776.6" x2="608.43" y2="1776.6"/>
<line x1="598.71" y1="1695.6" x2="608.43" y2="1695.6"/>
<line x1="598.71" y1="1614.6" x2="608.43" y2="1614.6"/>
<line x1="598.71" y1="1533.6" x2="608.43" y2="1533.6"/>
<line x1="598.71" y1="1452.6" x2="608.43" y2="1452.6"/>
<line x1="1087" y1="1874.1" x2="1087" y2="1883.82"/>
<line x1="1280.85" y1="1874.1" x2="1280.85" y2="1883.82"/>
<line x1="1474.7" y1="1874.1" x2="1474.7" y2="1883.82"/>
<line x1="1063.04" y1="1857.6" x2="1072.76" y2="1857.6"/>
<line x1="1063.04" y1="1776.6" x2="1072.76" y2="1776.6"/>
<line x1="1063.04" y1="1695.6" x2="1072.76" y2="1695.6"/>
<line x1="1063.04" y1="1614.6" x2="1072.76" y2="1614.6"/>
<line x1="1063.04" y1="1533.6" x2="1072.76" y2="1533.6"/>
<line x1="1063.04" y1="1452.6" x2="1072.76" y2="1452.6"/>
<line x1="1552.9" y1="1874.1" x2="1552.9" y2="1883.82"/>
<line x1="1746.45" y1="1874.1" x2="1746.45" y2="1883.82"/>
<line x1="1940" y1="1874.1" x2="1940" y2="1883.82"/>
</g>
<g font-size="30.56">
<text x="124.66" y="939.4" text-anchor="end" textLength="48.59" lengthAdjust="spacingAndGlyphs">0.0</text>
<text x="124.66" y="851.12" text-anchor="end" textLength="48.59" lengthAdjust="spacingAndGlyphs">0.2</text>
<text x="124.66" y="762.84" text-anchor="end" textLength="48.59" lengthAdjust="spacingAndGlyphs">0.4</text>
<text x="124.66" y="674.56" text-anchor="end" textLength="48.59" lengthAdjust="spacingAndGlyphs">0.6</text>
<text x="124.66" y="586.28" text-anchor="end" textLength="48.59" lengthAdjust="spacingAndGlyphs">0.8</text>
<text x="124.66" y="1404.7" text-anchor="end" textLength="48.59" lengthAdjust="spacingAndGlyphs">0.0</text>
<text x="124.66" y="1323.5" text-anchor="end" textLength="48.59" lengthAdjust="spacingAndGlyphs">0.2</text>
<text x="124.66" y="1242.3" text-anchor="end" textLength="48.59" lengthAdjust="spacingAndGlyphs">0.4</text>
<text x="124.66" y="1161.1" text-anchor="end" textLength="48.59" lengthAdjust="spacingAndGlyphs">0.6</text>
<text x="124.66" y="1079.9" text-anchor="end" textLength="48.59" lengthAdjust="spacingAndGlyphs">0.8</text>
<text x="124.66" y="998.7" text-anchor="end" textLength="48.59" lengthAdjust="spacingAndGlyphs">1.0</text>
<text x="124.66" y="1869.4" text-anchor="end" textLength="48.59" lengthAdjust="spacingAndGlyphs">0.0</text>
<text x="124.66" y="1788.4" text-anchor="end" textLength="48.59" lengthAdjust="spacingAndGlyphs">0.2</text>
<text x="124.66" y="1707.4" text-anchor="end" textLength="48.59" lengthAdjust="spacingAndGlyphs">0.4</text>
<text x="124.66" y="1626.4" text-anchor="end" textLength="48.59" lengthAdjust="spacingAndGlyphs">0.6</text>
<text x="124.66" y="1545.4" text-anchor="end" textLength="48.59" lengthAdjust="spacingAndGlyphs">0.8</text>
<text x="124.66" y="1464.4" text-anchor="end" textLength="48.59" lengthAdjust="spacingAndGlyphs">1.0</text>
<text x="156.96" y="1916.7" text-anchor="middle" textLength="48.59" lengthAdjust="spacingAndGlyphs">0.0</text>
<text x="357.46" y="1916.7" text-anchor="middle" textLength="48.59" lengthAdjust="spacingAndGlyphs">0.5</text>
<text x="557.96" y="1916.7" text-anchor="middle" textLength="48.59" lengthAdjust="spacingAndGlyphs">1.0</text>
<text x="622.9" y="1916.7" text-anchor="middle" textLength="48.59" lengthAdjust="spacingAndGlyphs">0.0</text>
<text x="833" y="1916.7" text-anchor="middle" textLength="48.59" lengthAdjust="spacingAndGlyphs">0.5</text>
<text x="1087" y="1916.7" text-anchor="middle" textLength="48.59" lengthAdjust="spacingAndGlyphs">0.0</text>
<text x="1280.85" y="1916.7" text-anchor="middle" textLength="48.59" lengthAdjust="spacingAndGlyphs">0.5</text>
<text x="1474.7" y="1916.7" text-anchor="middle" textLength="48.59" lengthAdjust="spacingAndGlyphs">1.0</text>
<text x="1552.9" y="1916.7" text-anchor="middle" textLength="48.59" lengthAdjust="spacingAndGlyphs">0.0</text>
<text x="1746.45" y="1916.7" text-anchor="middle" textLength="48.59" lengthAdjust="spacingAndGlyphs">0.5</text>
<text x="1940" y="1916.7" text-anchor="middle" textLength="48.59" lengthAdjust="spacingAndGlyphs">1.0</text>
<text x="354.85" y="1956.7" text-anchor="middle" textLength="18.09" lengthAdjust="spacingAndGlyphs">x</text>
<text x="819.18" y="1956.7" text-anchor="middle" textLength="18.09" lengthAdjust="spacingAndGlyphs">y</text>
<text x="1283.51" y="1956.7" text-anchor="middle" textLength="84.25" lengthAdjust="spacingAndGlyphs">width</text>
<text x="1747.84" y="1956.7" text-anchor="middle" textLength="97.43" lengthAdjust="spacingAndGlyphs">height</text>
<text transform="translate(60.5,721.3) rotate(-90)" text-anchor="middle" textLength="18.09" lengthAdjust="spacingAndGlyphs">y</text>
<text transform="translate(60.5,1187.3) rotate(-90)" text-anchor="middle" textLength="84.25" lengthAdjust="spacingAndGlyphs">width</text>
<text transform="translate(60.5,1653.3) rotate(-90)" text-anchor="middle" textLength="97.43" lengthAdjust="spacingAndGlyphs">height</text>
</g>
</svg></body></html>
